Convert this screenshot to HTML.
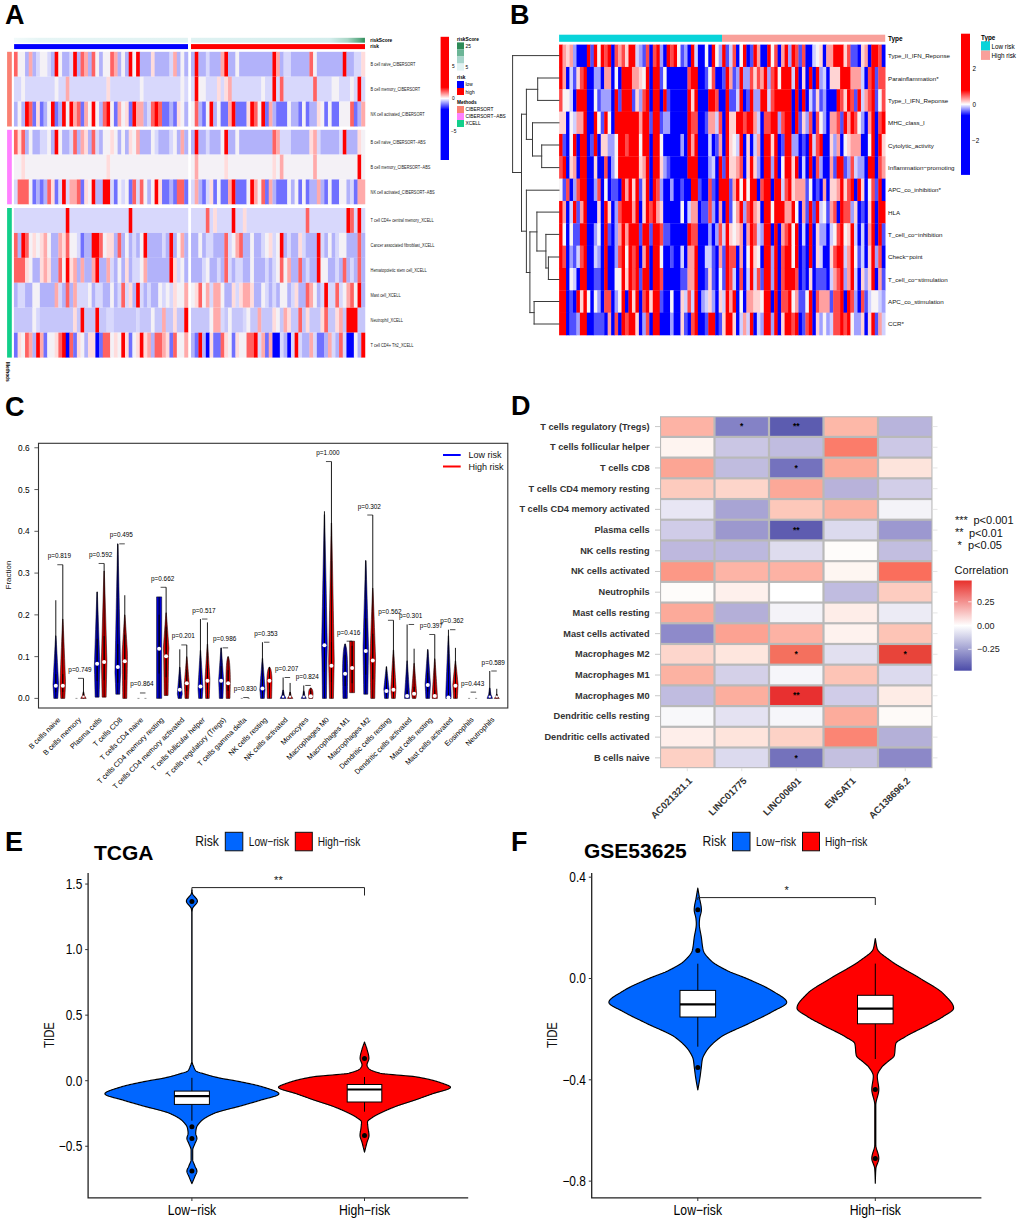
<!DOCTYPE html>
<html><head><meta charset="utf-8"><style>
html,body{margin:0;padding:0;background:#fff;width:1020px;height:1222px;overflow:hidden}
svg{display:block}
text{font-family:"Liberation Sans", sans-serif}
</style></head><body>
<svg width="1020" height="1222" viewBox="0 0 1020 1222">
<rect width="1020" height="1222" fill="#fff"/>
<text x="5" y="24" font-size="27" font-weight="bold" fill="#000">A</text>
<text x="510" y="24" font-size="27" font-weight="bold" fill="#000">B</text>
<text x="5" y="416" font-size="27" font-weight="bold" fill="#000">C</text>
<text x="511" y="415" font-size="27" font-weight="bold" fill="#000">D</text>
<text x="5" y="851" font-size="27" font-weight="bold" fill="#000">E</text>
<text x="511" y="851" font-size="27" font-weight="bold" fill="#000">F</text>
<rect x="13.94" y="51.8" width="4" height="24.9" fill="#FF6262"/>
<rect x="17.64" y="51.8" width="7.7" height="24.9" fill="#F4F1F6"/>
<rect x="25.05" y="51.8" width="4" height="24.9" fill="#B2B2FA"/>
<rect x="28.75" y="51.8" width="4" height="24.9" fill="#FFAAAA"/>
<rect x="32.45" y="51.8" width="4" height="24.9" fill="#B2B2FA"/>
<rect x="36.15" y="51.8" width="4" height="24.9" fill="#D8D8FC"/>
<rect x="39.85" y="51.8" width="7.7" height="24.9" fill="#F4F1F6"/>
<rect x="47.26" y="51.8" width="4" height="24.9" fill="#D8D8FC"/>
<rect x="50.96" y="51.8" width="4" height="24.9" fill="#B2B2FA"/>
<rect x="54.66" y="51.8" width="4" height="24.9" fill="#FF0000"/>
<rect x="58.37" y="51.8" width="4" height="24.9" fill="#F4F1F6"/>
<rect x="62.07" y="51.8" width="7.7" height="24.9" fill="#B2B2FA"/>
<rect x="69.47" y="51.8" width="4" height="24.9" fill="#D8D8FC"/>
<rect x="73.17" y="51.8" width="4" height="24.9" fill="#FF0000"/>
<rect x="76.88" y="51.8" width="4" height="24.9" fill="#B2B2FA"/>
<rect x="80.58" y="51.8" width="4" height="24.9" fill="#FF6262"/>
<rect x="84.28" y="51.8" width="4" height="24.9" fill="#FFAAAA"/>
<rect x="87.98" y="51.8" width="4" height="24.9" fill="#B2B2FA"/>
<rect x="91.68" y="51.8" width="4" height="24.9" fill="#FF6262"/>
<rect x="95.39" y="51.8" width="4" height="24.9" fill="#F4F1F6"/>
<rect x="99.09" y="51.8" width="4" height="24.9" fill="#B2B2FA"/>
<rect x="102.79" y="51.8" width="7.7" height="24.9" fill="#F4F1F6"/>
<rect x="110.2" y="51.8" width="4" height="24.9" fill="#FF6262"/>
<rect x="113.9" y="51.8" width="4" height="24.9" fill="#FFAAAA"/>
<rect x="117.6" y="51.8" width="4" height="24.9" fill="#B2B2FA"/>
<rect x="121.3" y="51.8" width="4" height="24.9" fill="#F4F1F6"/>
<rect x="125" y="51.8" width="4" height="24.9" fill="#B2B2FA"/>
<rect x="128.71" y="51.8" width="4" height="24.9" fill="#FF0000"/>
<rect x="132.41" y="51.8" width="4" height="24.9" fill="#F4F1F6"/>
<rect x="136.11" y="51.8" width="4" height="24.9" fill="#FF0000"/>
<rect x="139.81" y="51.8" width="11.41" height="24.9" fill="#B2B2FA"/>
<rect x="150.92" y="51.8" width="4" height="24.9" fill="#FFDCDC"/>
<rect x="154.62" y="51.8" width="15.11" height="24.9" fill="#B2B2FA"/>
<rect x="169.43" y="51.8" width="4" height="24.9" fill="#D8D8FC"/>
<rect x="173.13" y="51.8" width="4" height="24.9" fill="#FFAAAA"/>
<rect x="176.83" y="51.8" width="4" height="24.9" fill="#B2B2FA"/>
<rect x="180.54" y="51.8" width="4" height="24.9" fill="#F4F1F6"/>
<rect x="184.24" y="51.8" width="4" height="24.9" fill="#B2B2FA"/>
<rect x="13.94" y="76.7" width="7.7" height="24.9" fill="#D8D8FC"/>
<rect x="21.34" y="76.7" width="4" height="24.9" fill="#F4F1F6"/>
<rect x="25.05" y="76.7" width="29.92" height="24.9" fill="#D8D8FC"/>
<rect x="54.66" y="76.7" width="4" height="24.9" fill="#F4F1F6"/>
<rect x="58.37" y="76.7" width="7.7" height="24.9" fill="#D8D8FC"/>
<rect x="65.77" y="76.7" width="4" height="24.9" fill="#FFAAAA"/>
<rect x="69.47" y="76.7" width="37.32" height="24.9" fill="#D8D8FC"/>
<rect x="106.49" y="76.7" width="4" height="24.9" fill="#FFDCDC"/>
<rect x="110.2" y="76.7" width="29.92" height="24.9" fill="#D8D8FC"/>
<rect x="139.81" y="76.7" width="4" height="24.9" fill="#F4F1F6"/>
<rect x="143.51" y="76.7" width="37.32" height="24.9" fill="#D8D8FC"/>
<rect x="180.54" y="76.7" width="4" height="24.9" fill="#F4F1F6"/>
<rect x="184.24" y="76.7" width="4" height="24.9" fill="#D8D8FC"/>
<rect x="13.94" y="101.6" width="4" height="24.9" fill="#B2B2FA"/>
<rect x="17.64" y="101.6" width="4" height="24.9" fill="#F4F1F6"/>
<rect x="21.34" y="101.6" width="4" height="24.9" fill="#B2B2FA"/>
<rect x="25.05" y="101.6" width="4" height="24.9" fill="#FF0000"/>
<rect x="28.75" y="101.6" width="4" height="24.9" fill="#FF6262"/>
<rect x="32.45" y="101.6" width="4" height="24.9" fill="#7070FF"/>
<rect x="36.15" y="101.6" width="4" height="24.9" fill="#FFDCDC"/>
<rect x="39.85" y="101.6" width="4" height="24.9" fill="#7070FF"/>
<rect x="43.56" y="101.6" width="4" height="24.9" fill="#B2B2FA"/>
<rect x="47.26" y="101.6" width="4" height="24.9" fill="#F4F1F6"/>
<rect x="50.96" y="101.6" width="4" height="24.9" fill="#FF0000"/>
<rect x="54.66" y="101.6" width="4" height="24.9" fill="#7070FF"/>
<rect x="58.37" y="101.6" width="4" height="24.9" fill="#B2B2FA"/>
<rect x="62.07" y="101.6" width="4" height="24.9" fill="#FF0000"/>
<rect x="65.77" y="101.6" width="4" height="24.9" fill="#F4F1F6"/>
<rect x="69.47" y="101.6" width="4" height="24.9" fill="#FF0000"/>
<rect x="73.17" y="101.6" width="4" height="24.9" fill="#FFAAAA"/>
<rect x="76.88" y="101.6" width="4" height="24.9" fill="#FF6262"/>
<rect x="80.58" y="101.6" width="4" height="24.9" fill="#7070FF"/>
<rect x="84.28" y="101.6" width="4" height="24.9" fill="#FFAAAA"/>
<rect x="87.98" y="101.6" width="4" height="24.9" fill="#F4F1F6"/>
<rect x="91.68" y="101.6" width="4" height="24.9" fill="#FF0000"/>
<rect x="95.39" y="101.6" width="4" height="24.9" fill="#F4F1F6"/>
<rect x="99.09" y="101.6" width="4" height="24.9" fill="#B2B2FA"/>
<rect x="102.79" y="101.6" width="4" height="24.9" fill="#FF6262"/>
<rect x="106.49" y="101.6" width="4" height="24.9" fill="#FF0000"/>
<rect x="110.2" y="101.6" width="4" height="24.9" fill="#F4F1F6"/>
<rect x="113.9" y="101.6" width="4" height="24.9" fill="#7070FF"/>
<rect x="117.6" y="101.6" width="4" height="24.9" fill="#FFAAAA"/>
<rect x="121.3" y="101.6" width="4" height="24.9" fill="#F4F1F6"/>
<rect x="125" y="101.6" width="4" height="24.9" fill="#FFDCDC"/>
<rect x="128.71" y="101.6" width="4" height="24.9" fill="#7070FF"/>
<rect x="132.41" y="101.6" width="4" height="24.9" fill="#FF0000"/>
<rect x="136.11" y="101.6" width="7.7" height="24.9" fill="#FFAAAA"/>
<rect x="143.51" y="101.6" width="4" height="24.9" fill="#B2B2FA"/>
<rect x="147.22" y="101.6" width="4" height="24.9" fill="#D8D8FC"/>
<rect x="150.92" y="101.6" width="4" height="24.9" fill="#FF6262"/>
<rect x="154.62" y="101.6" width="4" height="24.9" fill="#FF0000"/>
<rect x="158.32" y="101.6" width="4" height="24.9" fill="#FF6262"/>
<rect x="162.03" y="101.6" width="7.7" height="24.9" fill="#7070FF"/>
<rect x="169.43" y="101.6" width="4" height="24.9" fill="#B2B2FA"/>
<rect x="173.13" y="101.6" width="4" height="24.9" fill="#7070FF"/>
<rect x="176.83" y="101.6" width="4" height="24.9" fill="#FFDCDC"/>
<rect x="180.54" y="101.6" width="4" height="24.9" fill="#F4F1F6"/>
<rect x="184.24" y="101.6" width="4" height="24.9" fill="#B2B2FA"/>
<rect x="13.94" y="129.8" width="4" height="24.83" fill="#FF6262"/>
<rect x="17.64" y="129.8" width="4" height="24.83" fill="#FFDCDC"/>
<rect x="21.34" y="129.8" width="4" height="24.83" fill="#FF6262"/>
<rect x="25.05" y="129.8" width="4" height="24.83" fill="#B2B2FA"/>
<rect x="28.75" y="129.8" width="4" height="24.83" fill="#F4F1F6"/>
<rect x="32.45" y="129.8" width="7.7" height="24.83" fill="#B2B2FA"/>
<rect x="39.85" y="129.8" width="7.7" height="24.83" fill="#D8D8FC"/>
<rect x="47.26" y="129.8" width="4" height="24.83" fill="#F4F1F6"/>
<rect x="50.96" y="129.8" width="4" height="24.83" fill="#B2B2FA"/>
<rect x="54.66" y="129.8" width="4" height="24.83" fill="#FF0000"/>
<rect x="58.37" y="129.8" width="4" height="24.83" fill="#F4F1F6"/>
<rect x="62.07" y="129.8" width="7.7" height="24.83" fill="#B2B2FA"/>
<rect x="69.47" y="129.8" width="4" height="24.83" fill="#D8D8FC"/>
<rect x="73.17" y="129.8" width="4" height="24.83" fill="#FF6262"/>
<rect x="76.88" y="129.8" width="4" height="24.83" fill="#B2B2FA"/>
<rect x="80.58" y="129.8" width="4" height="24.83" fill="#FFAAAA"/>
<rect x="84.28" y="129.8" width="4" height="24.83" fill="#FFDCDC"/>
<rect x="87.98" y="129.8" width="4" height="24.83" fill="#B2B2FA"/>
<rect x="91.68" y="129.8" width="4" height="24.83" fill="#FF6262"/>
<rect x="95.39" y="129.8" width="4" height="24.83" fill="#D8D8FC"/>
<rect x="99.09" y="129.8" width="4" height="24.83" fill="#B2B2FA"/>
<rect x="102.79" y="129.8" width="7.7" height="24.83" fill="#F4F1F6"/>
<rect x="110.2" y="129.8" width="4" height="24.83" fill="#FFDCDC"/>
<rect x="113.9" y="129.8" width="4" height="24.83" fill="#F4F1F6"/>
<rect x="117.6" y="129.8" width="4" height="24.83" fill="#B2B2FA"/>
<rect x="121.3" y="129.8" width="4" height="24.83" fill="#F4F1F6"/>
<rect x="125" y="129.8" width="4" height="24.83" fill="#B2B2FA"/>
<rect x="128.71" y="129.8" width="4" height="24.83" fill="#FFDCDC"/>
<rect x="132.41" y="129.8" width="4" height="24.83" fill="#F4F1F6"/>
<rect x="136.11" y="129.8" width="4" height="24.83" fill="#FFAAAA"/>
<rect x="139.81" y="129.8" width="11.41" height="24.83" fill="#B2B2FA"/>
<rect x="150.92" y="129.8" width="4" height="24.83" fill="#F4F1F6"/>
<rect x="154.62" y="129.8" width="4" height="24.83" fill="#D8D8FC"/>
<rect x="158.32" y="129.8" width="11.41" height="24.83" fill="#B2B2FA"/>
<rect x="169.43" y="129.8" width="4" height="24.83" fill="#D8D8FC"/>
<rect x="173.13" y="129.8" width="4" height="24.83" fill="#F4F1F6"/>
<rect x="176.83" y="129.8" width="4" height="24.83" fill="#B2B2FA"/>
<rect x="180.54" y="129.8" width="4" height="24.83" fill="#FFAAAA"/>
<rect x="184.24" y="129.8" width="4" height="24.83" fill="#B2B2FA"/>
<rect x="13.94" y="154.63" width="7.7" height="24.83" fill="#F4F1F6"/>
<rect x="21.34" y="154.63" width="4" height="24.83" fill="#FFDCDC"/>
<rect x="25.05" y="154.63" width="81.75" height="24.83" fill="#F4F1F6"/>
<rect x="106.49" y="154.63" width="4" height="24.83" fill="#FFDCDC"/>
<rect x="110.2" y="154.63" width="78.04" height="24.83" fill="#F4F1F6"/>
<rect x="13.94" y="179.46" width="4" height="24.83" fill="#D8D8FC"/>
<rect x="17.64" y="179.46" width="11.41" height="24.83" fill="#FF6262"/>
<rect x="28.75" y="179.46" width="4" height="24.83" fill="#F4F1F6"/>
<rect x="32.45" y="179.46" width="4" height="24.83" fill="#7070FF"/>
<rect x="36.15" y="179.46" width="4" height="24.83" fill="#B2B2FA"/>
<rect x="39.85" y="179.46" width="4" height="24.83" fill="#7070FF"/>
<rect x="43.56" y="179.46" width="4" height="24.83" fill="#B2B2FA"/>
<rect x="47.26" y="179.46" width="4" height="24.83" fill="#FF6262"/>
<rect x="50.96" y="179.46" width="4" height="24.83" fill="#FFDCDC"/>
<rect x="54.66" y="179.46" width="4" height="24.83" fill="#7070FF"/>
<rect x="58.37" y="179.46" width="4" height="24.83" fill="#D8D8FC"/>
<rect x="62.07" y="179.46" width="4" height="24.83" fill="#FF0000"/>
<rect x="65.77" y="179.46" width="4" height="24.83" fill="#D8D8FC"/>
<rect x="69.47" y="179.46" width="7.7" height="24.83" fill="#FFAAAA"/>
<rect x="76.88" y="179.46" width="4" height="24.83" fill="#FF6262"/>
<rect x="80.58" y="179.46" width="4" height="24.83" fill="#7070FF"/>
<rect x="84.28" y="179.46" width="4" height="24.83" fill="#FFDCDC"/>
<rect x="87.98" y="179.46" width="4" height="24.83" fill="#F4F1F6"/>
<rect x="91.68" y="179.46" width="4" height="24.83" fill="#FF0000"/>
<rect x="95.39" y="179.46" width="7.7" height="24.83" fill="#B2B2FA"/>
<rect x="102.79" y="179.46" width="7.7" height="24.83" fill="#FF0000"/>
<rect x="110.2" y="179.46" width="4" height="24.83" fill="#D8D8FC"/>
<rect x="113.9" y="179.46" width="4" height="24.83" fill="#7070FF"/>
<rect x="117.6" y="179.46" width="4" height="24.83" fill="#F4F1F6"/>
<rect x="121.3" y="179.46" width="4" height="24.83" fill="#D8D8FC"/>
<rect x="125" y="179.46" width="4" height="24.83" fill="#F4F1F6"/>
<rect x="128.71" y="179.46" width="4" height="24.83" fill="#7070FF"/>
<rect x="132.41" y="179.46" width="4" height="24.83" fill="#FF6262"/>
<rect x="136.11" y="179.46" width="4" height="24.83" fill="#D8D8FC"/>
<rect x="139.81" y="179.46" width="4" height="24.83" fill="#FF6262"/>
<rect x="143.51" y="179.46" width="4" height="24.83" fill="#F4F1F6"/>
<rect x="147.22" y="179.46" width="4" height="24.83" fill="#B2B2FA"/>
<rect x="150.92" y="179.46" width="4" height="24.83" fill="#F4F1F6"/>
<rect x="154.62" y="179.46" width="4" height="24.83" fill="#FF0000"/>
<rect x="158.32" y="179.46" width="4" height="24.83" fill="#FFDCDC"/>
<rect x="162.03" y="179.46" width="7.7" height="24.83" fill="#7070FF"/>
<rect x="169.43" y="179.46" width="4" height="24.83" fill="#B2B2FA"/>
<rect x="173.13" y="179.46" width="4" height="24.83" fill="#7070FF"/>
<rect x="176.83" y="179.46" width="7.7" height="24.83" fill="#FF6262"/>
<rect x="184.24" y="179.46" width="4" height="24.83" fill="#7070FF"/>
<rect x="13.94" y="208" width="52.13" height="24.93" fill="#D8D8FC"/>
<rect x="65.77" y="208" width="4" height="24.93" fill="#FF0000"/>
<rect x="69.47" y="208" width="59.53" height="24.93" fill="#D8D8FC"/>
<rect x="128.71" y="208" width="4" height="24.93" fill="#FF0000"/>
<rect x="132.41" y="208" width="55.83" height="24.93" fill="#D8D8FC"/>
<rect x="13.94" y="232.93" width="4" height="24.93" fill="#FF6262"/>
<rect x="17.64" y="232.93" width="4" height="24.93" fill="#B2B2FA"/>
<rect x="21.34" y="232.93" width="4" height="24.93" fill="#FF0000"/>
<rect x="25.05" y="232.93" width="4" height="24.93" fill="#FF6262"/>
<rect x="28.75" y="232.93" width="4" height="24.93" fill="#F4F1F6"/>
<rect x="32.45" y="232.93" width="4" height="24.93" fill="#FFDCDC"/>
<rect x="36.15" y="232.93" width="4" height="24.93" fill="#F4F1F6"/>
<rect x="39.85" y="232.93" width="4" height="24.93" fill="#FFDCDC"/>
<rect x="43.56" y="232.93" width="4" height="24.93" fill="#FFAAAA"/>
<rect x="47.26" y="232.93" width="4" height="24.93" fill="#F4F1F6"/>
<rect x="50.96" y="232.93" width="7.7" height="24.93" fill="#B2B2FA"/>
<rect x="58.37" y="232.93" width="4" height="24.93" fill="#FFAAAA"/>
<rect x="62.07" y="232.93" width="4" height="24.93" fill="#FFDCDC"/>
<rect x="65.77" y="232.93" width="4" height="24.93" fill="#FF6262"/>
<rect x="69.47" y="232.93" width="7.7" height="24.93" fill="#F4F1F6"/>
<rect x="76.88" y="232.93" width="4" height="24.93" fill="#D8D8FC"/>
<rect x="80.58" y="232.93" width="4" height="24.93" fill="#7070FF"/>
<rect x="84.28" y="232.93" width="7.7" height="24.93" fill="#B2B2FA"/>
<rect x="91.68" y="232.93" width="7.7" height="24.93" fill="#FF0000"/>
<rect x="99.09" y="232.93" width="4" height="24.93" fill="#FF6262"/>
<rect x="102.79" y="232.93" width="4" height="24.93" fill="#F4F1F6"/>
<rect x="106.49" y="232.93" width="7.7" height="24.93" fill="#FFDCDC"/>
<rect x="113.9" y="232.93" width="4" height="24.93" fill="#B2B2FA"/>
<rect x="117.6" y="232.93" width="4" height="24.93" fill="#FF6262"/>
<rect x="121.3" y="232.93" width="4" height="24.93" fill="#B2B2FA"/>
<rect x="125" y="232.93" width="4" height="24.93" fill="#F4F1F6"/>
<rect x="128.71" y="232.93" width="4" height="24.93" fill="#B2B2FA"/>
<rect x="132.41" y="232.93" width="4" height="24.93" fill="#D8D8FC"/>
<rect x="136.11" y="232.93" width="4" height="24.93" fill="#B2B2FA"/>
<rect x="139.81" y="232.93" width="4" height="24.93" fill="#F4F1F6"/>
<rect x="143.51" y="232.93" width="4" height="24.93" fill="#FF0000"/>
<rect x="147.22" y="232.93" width="15.11" height="24.93" fill="#B2B2FA"/>
<rect x="162.03" y="232.93" width="4" height="24.93" fill="#D8D8FC"/>
<rect x="165.73" y="232.93" width="4" height="24.93" fill="#B2B2FA"/>
<rect x="169.43" y="232.93" width="4" height="24.93" fill="#FF0000"/>
<rect x="173.13" y="232.93" width="4" height="24.93" fill="#B2B2FA"/>
<rect x="176.83" y="232.93" width="4" height="24.93" fill="#F4F1F6"/>
<rect x="180.54" y="232.93" width="4" height="24.93" fill="#FFAAAA"/>
<rect x="184.24" y="232.93" width="4" height="24.93" fill="#B2B2FA"/>
<rect x="13.94" y="257.86" width="11.41" height="24.93" fill="#FF6262"/>
<rect x="25.05" y="257.86" width="4" height="24.93" fill="#FFDCDC"/>
<rect x="28.75" y="257.86" width="4" height="24.93" fill="#F4F1F6"/>
<rect x="32.45" y="257.86" width="7.7" height="24.93" fill="#B2B2FA"/>
<rect x="39.85" y="257.86" width="4" height="24.93" fill="#FFDCDC"/>
<rect x="43.56" y="257.86" width="4" height="24.93" fill="#FFAAAA"/>
<rect x="47.26" y="257.86" width="4" height="24.93" fill="#FFDCDC"/>
<rect x="50.96" y="257.86" width="7.7" height="24.93" fill="#B2B2FA"/>
<rect x="58.37" y="257.86" width="4" height="24.93" fill="#FF6262"/>
<rect x="62.07" y="257.86" width="4" height="24.93" fill="#F4F1F6"/>
<rect x="65.77" y="257.86" width="4" height="24.93" fill="#FF0000"/>
<rect x="69.47" y="257.86" width="4" height="24.93" fill="#FFDCDC"/>
<rect x="73.17" y="257.86" width="4" height="24.93" fill="#FFAAAA"/>
<rect x="76.88" y="257.86" width="4" height="24.93" fill="#B2B2FA"/>
<rect x="80.58" y="257.86" width="4" height="24.93" fill="#FFAAAA"/>
<rect x="84.28" y="257.86" width="7.7" height="24.93" fill="#B2B2FA"/>
<rect x="91.68" y="257.86" width="4" height="24.93" fill="#FFAAAA"/>
<rect x="95.39" y="257.86" width="4" height="24.93" fill="#FF0000"/>
<rect x="99.09" y="257.86" width="7.7" height="24.93" fill="#B2B2FA"/>
<rect x="106.49" y="257.86" width="4" height="24.93" fill="#FFAAAA"/>
<rect x="110.2" y="257.86" width="4" height="24.93" fill="#D8D8FC"/>
<rect x="113.9" y="257.86" width="4" height="24.93" fill="#B2B2FA"/>
<rect x="117.6" y="257.86" width="4" height="24.93" fill="#F4F1F6"/>
<rect x="121.3" y="257.86" width="4" height="24.93" fill="#B2B2FA"/>
<rect x="125" y="257.86" width="4" height="24.93" fill="#FFDCDC"/>
<rect x="128.71" y="257.86" width="4" height="24.93" fill="#B2B2FA"/>
<rect x="132.41" y="257.86" width="7.7" height="24.93" fill="#D8D8FC"/>
<rect x="139.81" y="257.86" width="4" height="24.93" fill="#F4F1F6"/>
<rect x="143.51" y="257.86" width="4" height="24.93" fill="#FFAAAA"/>
<rect x="147.22" y="257.86" width="22.51" height="24.93" fill="#B2B2FA"/>
<rect x="169.43" y="257.86" width="4" height="24.93" fill="#FF0000"/>
<rect x="173.13" y="257.86" width="4" height="24.93" fill="#FFDCDC"/>
<rect x="176.83" y="257.86" width="4" height="24.93" fill="#D8D8FC"/>
<rect x="180.54" y="257.86" width="4" height="24.93" fill="#F4F1F6"/>
<rect x="184.24" y="257.86" width="4" height="24.93" fill="#B2B2FA"/>
<rect x="13.94" y="282.79" width="4" height="24.93" fill="#B2B2FA"/>
<rect x="17.64" y="282.79" width="7.7" height="24.93" fill="#D8D8FC"/>
<rect x="25.05" y="282.79" width="7.7" height="24.93" fill="#B2B2FA"/>
<rect x="32.45" y="282.79" width="7.7" height="24.93" fill="#F4F1F6"/>
<rect x="39.85" y="282.79" width="15.11" height="24.93" fill="#B2B2FA"/>
<rect x="54.66" y="282.79" width="4" height="24.93" fill="#FFAAAA"/>
<rect x="58.37" y="282.79" width="4" height="24.93" fill="#D8D8FC"/>
<rect x="62.07" y="282.79" width="4" height="24.93" fill="#B2B2FA"/>
<rect x="65.77" y="282.79" width="4" height="24.93" fill="#FF6262"/>
<rect x="69.47" y="282.79" width="4" height="24.93" fill="#B2B2FA"/>
<rect x="73.17" y="282.79" width="4" height="24.93" fill="#FFAAAA"/>
<rect x="76.88" y="282.79" width="11.41" height="24.93" fill="#D8D8FC"/>
<rect x="87.98" y="282.79" width="4" height="24.93" fill="#F4F1F6"/>
<rect x="91.68" y="282.79" width="4" height="24.93" fill="#B2B2FA"/>
<rect x="95.39" y="282.79" width="7.7" height="24.93" fill="#D8D8FC"/>
<rect x="102.79" y="282.79" width="7.7" height="24.93" fill="#B2B2FA"/>
<rect x="110.2" y="282.79" width="4" height="24.93" fill="#F4F1F6"/>
<rect x="113.9" y="282.79" width="4" height="24.93" fill="#B2B2FA"/>
<rect x="117.6" y="282.79" width="4" height="24.93" fill="#D8D8FC"/>
<rect x="121.3" y="282.79" width="4" height="24.93" fill="#FF6262"/>
<rect x="125" y="282.79" width="4" height="24.93" fill="#D8D8FC"/>
<rect x="128.71" y="282.79" width="4" height="24.93" fill="#FFDCDC"/>
<rect x="132.41" y="282.79" width="4" height="24.93" fill="#B2B2FA"/>
<rect x="136.11" y="282.79" width="4" height="24.93" fill="#FF0000"/>
<rect x="139.81" y="282.79" width="4" height="24.93" fill="#D8D8FC"/>
<rect x="143.51" y="282.79" width="4" height="24.93" fill="#B2B2FA"/>
<rect x="147.22" y="282.79" width="4" height="24.93" fill="#D8D8FC"/>
<rect x="150.92" y="282.79" width="7.7" height="24.93" fill="#B2B2FA"/>
<rect x="158.32" y="282.79" width="4" height="24.93" fill="#F4F1F6"/>
<rect x="162.03" y="282.79" width="4" height="24.93" fill="#D8D8FC"/>
<rect x="165.73" y="282.79" width="4" height="24.93" fill="#F4F1F6"/>
<rect x="169.43" y="282.79" width="4" height="24.93" fill="#D8D8FC"/>
<rect x="173.13" y="282.79" width="4" height="24.93" fill="#FFDCDC"/>
<rect x="176.83" y="282.79" width="7.7" height="24.93" fill="#F4F1F6"/>
<rect x="184.24" y="282.79" width="4" height="24.93" fill="#FFAAAA"/>
<rect x="13.94" y="307.72" width="18.81" height="24.93" fill="#C6C6FA"/>
<rect x="32.45" y="307.72" width="4" height="24.93" fill="#F4F1F6"/>
<rect x="36.15" y="307.72" width="4" height="24.93" fill="#D8D8FC"/>
<rect x="39.85" y="307.72" width="33.62" height="24.93" fill="#C6C6FA"/>
<rect x="73.17" y="307.72" width="4" height="24.93" fill="#FFDCDC"/>
<rect x="76.88" y="307.72" width="4" height="24.93" fill="#C6C6FA"/>
<rect x="80.58" y="307.72" width="4" height="24.93" fill="#FF0000"/>
<rect x="84.28" y="307.72" width="11.41" height="24.93" fill="#C6C6FA"/>
<rect x="95.39" y="307.72" width="4" height="24.93" fill="#FF0000"/>
<rect x="99.09" y="307.72" width="7.7" height="24.93" fill="#C6C6FA"/>
<rect x="106.49" y="307.72" width="7.7" height="24.93" fill="#D8D8FC"/>
<rect x="113.9" y="307.72" width="22.51" height="24.93" fill="#C6C6FA"/>
<rect x="136.11" y="307.72" width="4" height="24.93" fill="#D8D8FC"/>
<rect x="139.81" y="307.72" width="11.41" height="24.93" fill="#C6C6FA"/>
<rect x="150.92" y="307.72" width="4" height="24.93" fill="#F4F1F6"/>
<rect x="154.62" y="307.72" width="7.7" height="24.93" fill="#C6C6FA"/>
<rect x="162.03" y="307.72" width="4" height="24.93" fill="#FFAAAA"/>
<rect x="165.73" y="307.72" width="7.7" height="24.93" fill="#C6C6FA"/>
<rect x="173.13" y="307.72" width="4" height="24.93" fill="#FFDCDC"/>
<rect x="176.83" y="307.72" width="7.7" height="24.93" fill="#C6C6FA"/>
<rect x="184.24" y="307.72" width="4" height="24.93" fill="#FF0000"/>
<rect x="13.94" y="332.65" width="4" height="24.93" fill="#7070FF"/>
<rect x="17.64" y="332.65" width="4" height="24.93" fill="#FFDCDC"/>
<rect x="21.34" y="332.65" width="4" height="24.93" fill="#F4F1F6"/>
<rect x="25.05" y="332.65" width="4" height="24.93" fill="#FF6262"/>
<rect x="28.75" y="332.65" width="4" height="24.93" fill="#FFAAAA"/>
<rect x="32.45" y="332.65" width="4" height="24.93" fill="#B2B2FA"/>
<rect x="36.15" y="332.65" width="4" height="24.93" fill="#FF0000"/>
<rect x="39.85" y="332.65" width="4" height="24.93" fill="#FFAAAA"/>
<rect x="43.56" y="332.65" width="4" height="24.93" fill="#7070FF"/>
<rect x="47.26" y="332.65" width="7.7" height="24.93" fill="#F4F1F6"/>
<rect x="54.66" y="332.65" width="4" height="24.93" fill="#FFDCDC"/>
<rect x="58.37" y="332.65" width="4" height="24.93" fill="#FF6262"/>
<rect x="62.07" y="332.65" width="4" height="24.93" fill="#FF0000"/>
<rect x="65.77" y="332.65" width="4" height="24.93" fill="#0000FF"/>
<rect x="69.47" y="332.65" width="4" height="24.93" fill="#FF6262"/>
<rect x="73.17" y="332.65" width="4" height="24.93" fill="#7070FF"/>
<rect x="76.88" y="332.65" width="4" height="24.93" fill="#FFDCDC"/>
<rect x="80.58" y="332.65" width="4" height="24.93" fill="#F4F1F6"/>
<rect x="84.28" y="332.65" width="4" height="24.93" fill="#B2B2FA"/>
<rect x="87.98" y="332.65" width="7.7" height="24.93" fill="#FFDCDC"/>
<rect x="95.39" y="332.65" width="4" height="24.93" fill="#0000FF"/>
<rect x="99.09" y="332.65" width="4" height="24.93" fill="#7070FF"/>
<rect x="102.79" y="332.65" width="7.7" height="24.93" fill="#FF6262"/>
<rect x="110.2" y="332.65" width="4" height="24.93" fill="#F4F1F6"/>
<rect x="113.9" y="332.65" width="4" height="24.93" fill="#FFDCDC"/>
<rect x="117.6" y="332.65" width="4" height="24.93" fill="#F4F1F6"/>
<rect x="121.3" y="332.65" width="4" height="24.93" fill="#FF0000"/>
<rect x="125" y="332.65" width="4" height="24.93" fill="#FFDCDC"/>
<rect x="128.71" y="332.65" width="4" height="24.93" fill="#7070FF"/>
<rect x="132.41" y="332.65" width="4" height="24.93" fill="#F4F1F6"/>
<rect x="136.11" y="332.65" width="4" height="24.93" fill="#FFDCDC"/>
<rect x="139.81" y="332.65" width="4" height="24.93" fill="#FF0000"/>
<rect x="143.51" y="332.65" width="4" height="24.93" fill="#FFDCDC"/>
<rect x="147.22" y="332.65" width="4" height="24.93" fill="#FFAAAA"/>
<rect x="150.92" y="332.65" width="4" height="24.93" fill="#B2B2FA"/>
<rect x="154.62" y="332.65" width="7.7" height="24.93" fill="#FF6262"/>
<rect x="162.03" y="332.65" width="4" height="24.93" fill="#FFAAAA"/>
<rect x="165.73" y="332.65" width="4" height="24.93" fill="#FFDCDC"/>
<rect x="169.43" y="332.65" width="4" height="24.93" fill="#7070FF"/>
<rect x="173.13" y="332.65" width="4" height="24.93" fill="#FF6262"/>
<rect x="176.83" y="332.65" width="7.7" height="24.93" fill="#F4F1F6"/>
<rect x="184.24" y="332.65" width="4" height="24.93" fill="#FFAAAA"/>
<rect x="191.03" y="51.8" width="4" height="24.9" fill="#B2B2FA"/>
<rect x="194.73" y="51.8" width="4" height="24.9" fill="#FF0000"/>
<rect x="198.43" y="51.8" width="7.7" height="24.9" fill="#B2B2FA"/>
<rect x="205.83" y="51.8" width="4" height="24.9" fill="#D8D8FC"/>
<rect x="209.53" y="51.8" width="11.4" height="24.9" fill="#B2B2FA"/>
<rect x="220.63" y="51.8" width="4" height="24.9" fill="#FFAAAA"/>
<rect x="224.33" y="51.8" width="4" height="24.9" fill="#FF0000"/>
<rect x="228.03" y="51.8" width="7.7" height="24.9" fill="#B2B2FA"/>
<rect x="235.44" y="51.8" width="4" height="24.9" fill="#F4F1F6"/>
<rect x="239.14" y="51.8" width="33.6" height="24.9" fill="#B2B2FA"/>
<rect x="272.44" y="51.8" width="4" height="24.9" fill="#FF0000"/>
<rect x="276.14" y="51.8" width="4" height="24.9" fill="#FFAAAA"/>
<rect x="279.84" y="51.8" width="4" height="24.9" fill="#B2B2FA"/>
<rect x="283.54" y="51.8" width="7.7" height="24.9" fill="#D8D8FC"/>
<rect x="290.94" y="51.8" width="18.8" height="24.9" fill="#B2B2FA"/>
<rect x="309.44" y="51.8" width="4" height="24.9" fill="#FF6262"/>
<rect x="313.14" y="51.8" width="4" height="24.9" fill="#F4F1F6"/>
<rect x="316.84" y="51.8" width="26.2" height="24.9" fill="#B2B2FA"/>
<rect x="342.75" y="51.8" width="4" height="24.9" fill="#FF0000"/>
<rect x="346.45" y="51.8" width="7.7" height="24.9" fill="#B2B2FA"/>
<rect x="353.85" y="51.8" width="7.7" height="24.9" fill="#D8D8FC"/>
<rect x="361.25" y="51.8" width="4" height="24.9" fill="#FFDCDC"/>
<rect x="191.03" y="76.7" width="4" height="24.9" fill="#D8D8FC"/>
<rect x="194.73" y="76.7" width="4" height="24.9" fill="#FF0000"/>
<rect x="198.43" y="76.7" width="7.7" height="24.9" fill="#F4F1F6"/>
<rect x="205.83" y="76.7" width="11.4" height="24.9" fill="#D8D8FC"/>
<rect x="216.93" y="76.7" width="4" height="24.9" fill="#FFDCDC"/>
<rect x="220.63" y="76.7" width="4" height="24.9" fill="#D8D8FC"/>
<rect x="224.33" y="76.7" width="4" height="24.9" fill="#FFDCDC"/>
<rect x="228.03" y="76.7" width="4" height="24.9" fill="#FFAAAA"/>
<rect x="231.73" y="76.7" width="29.9" height="24.9" fill="#D8D8FC"/>
<rect x="261.34" y="76.7" width="4" height="24.9" fill="#F4F1F6"/>
<rect x="265.04" y="76.7" width="7.7" height="24.9" fill="#D8D8FC"/>
<rect x="272.44" y="76.7" width="4" height="24.9" fill="#FF0000"/>
<rect x="276.14" y="76.7" width="4" height="24.9" fill="#D8D8FC"/>
<rect x="279.84" y="76.7" width="4" height="24.9" fill="#FF6262"/>
<rect x="283.54" y="76.7" width="29.9" height="24.9" fill="#D8D8FC"/>
<rect x="313.14" y="76.7" width="4" height="24.9" fill="#FF6262"/>
<rect x="316.84" y="76.7" width="15.1" height="24.9" fill="#D8D8FC"/>
<rect x="331.65" y="76.7" width="7.7" height="24.9" fill="#F4F1F6"/>
<rect x="339.05" y="76.7" width="11.4" height="24.9" fill="#D8D8FC"/>
<rect x="350.15" y="76.7" width="4" height="24.9" fill="#F4F1F6"/>
<rect x="353.85" y="76.7" width="4" height="24.9" fill="#D8D8FC"/>
<rect x="357.55" y="76.7" width="4" height="24.9" fill="#FF0000"/>
<rect x="361.25" y="76.7" width="4" height="24.9" fill="#D8D8FC"/>
<rect x="191.03" y="101.6" width="4" height="24.9" fill="#F4F1F6"/>
<rect x="194.73" y="101.6" width="4" height="24.9" fill="#FF6262"/>
<rect x="198.43" y="101.6" width="4" height="24.9" fill="#B2B2FA"/>
<rect x="202.13" y="101.6" width="4" height="24.9" fill="#7070FF"/>
<rect x="205.83" y="101.6" width="4" height="24.9" fill="#F4F1F6"/>
<rect x="209.53" y="101.6" width="4" height="24.9" fill="#FF0000"/>
<rect x="213.23" y="101.6" width="4" height="24.9" fill="#B2B2FA"/>
<rect x="216.93" y="101.6" width="4" height="24.9" fill="#F4F1F6"/>
<rect x="220.63" y="101.6" width="7.7" height="24.9" fill="#7070FF"/>
<rect x="228.03" y="101.6" width="4" height="24.9" fill="#FFAAAA"/>
<rect x="231.73" y="101.6" width="4" height="24.9" fill="#FF0000"/>
<rect x="235.44" y="101.6" width="11.4" height="24.9" fill="#7070FF"/>
<rect x="246.54" y="101.6" width="4" height="24.9" fill="#FFDCDC"/>
<rect x="250.24" y="101.6" width="4" height="24.9" fill="#FF0000"/>
<rect x="253.94" y="101.6" width="4" height="24.9" fill="#FF6262"/>
<rect x="257.64" y="101.6" width="4" height="24.9" fill="#F4F1F6"/>
<rect x="261.34" y="101.6" width="4" height="24.9" fill="#FF0000"/>
<rect x="265.04" y="101.6" width="4" height="24.9" fill="#7070FF"/>
<rect x="268.74" y="101.6" width="4" height="24.9" fill="#FFAAAA"/>
<rect x="272.44" y="101.6" width="4" height="24.9" fill="#B2B2FA"/>
<rect x="276.14" y="101.6" width="11.4" height="24.9" fill="#7070FF"/>
<rect x="287.24" y="101.6" width="4" height="24.9" fill="#F4F1F6"/>
<rect x="290.94" y="101.6" width="7.7" height="24.9" fill="#B2B2FA"/>
<rect x="298.34" y="101.6" width="4" height="24.9" fill="#7070FF"/>
<rect x="302.04" y="101.6" width="4" height="24.9" fill="#F4F1F6"/>
<rect x="305.74" y="101.6" width="4" height="24.9" fill="#7070FF"/>
<rect x="309.44" y="101.6" width="7.7" height="24.9" fill="#B2B2FA"/>
<rect x="316.84" y="101.6" width="4" height="24.9" fill="#FFDCDC"/>
<rect x="320.54" y="101.6" width="4" height="24.9" fill="#F4F1F6"/>
<rect x="324.25" y="101.6" width="4" height="24.9" fill="#7070FF"/>
<rect x="327.95" y="101.6" width="4" height="24.9" fill="#F4F1F6"/>
<rect x="331.65" y="101.6" width="7.7" height="24.9" fill="#7070FF"/>
<rect x="339.05" y="101.6" width="11.4" height="24.9" fill="#F4F1F6"/>
<rect x="350.15" y="101.6" width="4" height="24.9" fill="#FF6262"/>
<rect x="353.85" y="101.6" width="4" height="24.9" fill="#7070FF"/>
<rect x="357.55" y="101.6" width="4" height="24.9" fill="#B2B2FA"/>
<rect x="361.25" y="101.6" width="4" height="24.9" fill="#FFAAAA"/>
<rect x="191.03" y="129.8" width="4" height="24.83" fill="#B2B2FA"/>
<rect x="194.73" y="129.8" width="4" height="24.83" fill="#FF0000"/>
<rect x="198.43" y="129.8" width="7.7" height="24.83" fill="#B2B2FA"/>
<rect x="205.83" y="129.8" width="4" height="24.83" fill="#D8D8FC"/>
<rect x="209.53" y="129.8" width="11.4" height="24.83" fill="#B2B2FA"/>
<rect x="220.63" y="129.8" width="4" height="24.83" fill="#F4F1F6"/>
<rect x="224.33" y="129.8" width="4" height="24.83" fill="#FF0000"/>
<rect x="228.03" y="129.8" width="7.7" height="24.83" fill="#B2B2FA"/>
<rect x="235.44" y="129.8" width="4" height="24.83" fill="#F4F1F6"/>
<rect x="239.14" y="129.8" width="33.6" height="24.83" fill="#B2B2FA"/>
<rect x="272.44" y="129.8" width="4" height="24.83" fill="#FF6262"/>
<rect x="276.14" y="129.8" width="4" height="24.83" fill="#FFAAAA"/>
<rect x="279.84" y="129.8" width="11.4" height="24.83" fill="#D8D8FC"/>
<rect x="290.94" y="129.8" width="18.8" height="24.83" fill="#B2B2FA"/>
<rect x="309.44" y="129.8" width="4" height="24.83" fill="#FFDCDC"/>
<rect x="313.14" y="129.8" width="4" height="24.83" fill="#FFAAAA"/>
<rect x="316.84" y="129.8" width="4" height="24.83" fill="#D8D8FC"/>
<rect x="320.54" y="129.8" width="18.8" height="24.83" fill="#B2B2FA"/>
<rect x="339.05" y="129.8" width="4" height="24.83" fill="#D8D8FC"/>
<rect x="342.75" y="129.8" width="4" height="24.83" fill="#FF0000"/>
<rect x="346.45" y="129.8" width="11.4" height="24.83" fill="#B2B2FA"/>
<rect x="357.55" y="129.8" width="4" height="24.83" fill="#FFDCDC"/>
<rect x="361.25" y="129.8" width="4" height="24.83" fill="#F4F1F6"/>
<rect x="191.03" y="154.63" width="4" height="24.83" fill="#F4F1F6"/>
<rect x="194.73" y="154.63" width="4" height="24.83" fill="#FFAAAA"/>
<rect x="198.43" y="154.63" width="26.2" height="24.83" fill="#F4F1F6"/>
<rect x="224.33" y="154.63" width="4" height="24.83" fill="#FFDCDC"/>
<rect x="228.03" y="154.63" width="44.71" height="24.83" fill="#F4F1F6"/>
<rect x="272.44" y="154.63" width="4" height="24.83" fill="#FFDCDC"/>
<rect x="276.14" y="154.63" width="4" height="24.83" fill="#F4F1F6"/>
<rect x="279.84" y="154.63" width="4" height="24.83" fill="#FFAAAA"/>
<rect x="283.54" y="154.63" width="29.9" height="24.83" fill="#F4F1F6"/>
<rect x="313.14" y="154.63" width="4" height="24.83" fill="#FFAAAA"/>
<rect x="316.84" y="154.63" width="41" height="24.83" fill="#F4F1F6"/>
<rect x="357.55" y="154.63" width="4" height="24.83" fill="#FF0000"/>
<rect x="361.25" y="154.63" width="4" height="24.83" fill="#F4F1F6"/>
<rect x="191.03" y="179.46" width="4" height="24.83" fill="#D8D8FC"/>
<rect x="194.73" y="179.46" width="4" height="24.83" fill="#FFAAAA"/>
<rect x="198.43" y="179.46" width="4" height="24.83" fill="#B2B2FA"/>
<rect x="202.13" y="179.46" width="4" height="24.83" fill="#7070FF"/>
<rect x="205.83" y="179.46" width="4" height="24.83" fill="#D8D8FC"/>
<rect x="209.53" y="179.46" width="4" height="24.83" fill="#FFDCDC"/>
<rect x="213.23" y="179.46" width="4" height="24.83" fill="#7070FF"/>
<rect x="216.93" y="179.46" width="4" height="24.83" fill="#F4F1F6"/>
<rect x="220.63" y="179.46" width="7.7" height="24.83" fill="#7070FF"/>
<rect x="228.03" y="179.46" width="4" height="24.83" fill="#FFAAAA"/>
<rect x="231.73" y="179.46" width="4" height="24.83" fill="#FF0000"/>
<rect x="235.44" y="179.46" width="11.4" height="24.83" fill="#7070FF"/>
<rect x="246.54" y="179.46" width="4" height="24.83" fill="#F4F1F6"/>
<rect x="250.24" y="179.46" width="4" height="24.83" fill="#FF0000"/>
<rect x="253.94" y="179.46" width="4" height="24.83" fill="#FFAAAA"/>
<rect x="257.64" y="179.46" width="4" height="24.83" fill="#F4F1F6"/>
<rect x="261.34" y="179.46" width="4" height="24.83" fill="#FF6262"/>
<rect x="265.04" y="179.46" width="4" height="24.83" fill="#7070FF"/>
<rect x="268.74" y="179.46" width="4" height="24.83" fill="#FFAAAA"/>
<rect x="272.44" y="179.46" width="4" height="24.83" fill="#B2B2FA"/>
<rect x="276.14" y="179.46" width="11.4" height="24.83" fill="#7070FF"/>
<rect x="287.24" y="179.46" width="4" height="24.83" fill="#F4F1F6"/>
<rect x="290.94" y="179.46" width="4" height="24.83" fill="#B2B2FA"/>
<rect x="294.64" y="179.46" width="4" height="24.83" fill="#F4F1F6"/>
<rect x="298.34" y="179.46" width="4" height="24.83" fill="#7070FF"/>
<rect x="302.04" y="179.46" width="4" height="24.83" fill="#F4F1F6"/>
<rect x="305.74" y="179.46" width="4" height="24.83" fill="#7070FF"/>
<rect x="309.44" y="179.46" width="7.7" height="24.83" fill="#B2B2FA"/>
<rect x="316.84" y="179.46" width="4" height="24.83" fill="#FFAAAA"/>
<rect x="320.54" y="179.46" width="4" height="24.83" fill="#B2B2FA"/>
<rect x="324.25" y="179.46" width="4" height="24.83" fill="#7070FF"/>
<rect x="327.95" y="179.46" width="4" height="24.83" fill="#F4F1F6"/>
<rect x="331.65" y="179.46" width="7.7" height="24.83" fill="#7070FF"/>
<rect x="339.05" y="179.46" width="7.7" height="24.83" fill="#F4F1F6"/>
<rect x="346.45" y="179.46" width="4" height="24.83" fill="#B2B2FA"/>
<rect x="350.15" y="179.46" width="4" height="24.83" fill="#D8D8FC"/>
<rect x="353.85" y="179.46" width="4" height="24.83" fill="#7070FF"/>
<rect x="357.55" y="179.46" width="7.7" height="24.83" fill="#FFAAAA"/>
<rect x="191.03" y="208" width="15.1" height="24.93" fill="#D8D8FC"/>
<rect x="205.83" y="208" width="4" height="24.93" fill="#FF6262"/>
<rect x="209.53" y="208" width="4" height="24.93" fill="#D8D8FC"/>
<rect x="213.23" y="208" width="4" height="24.93" fill="#FFDCDC"/>
<rect x="216.93" y="208" width="15.1" height="24.93" fill="#D8D8FC"/>
<rect x="231.73" y="208" width="4" height="24.93" fill="#FF0000"/>
<rect x="235.44" y="208" width="7.7" height="24.93" fill="#D8D8FC"/>
<rect x="242.84" y="208" width="4" height="24.93" fill="#FFDCDC"/>
<rect x="246.54" y="208" width="59.51" height="24.93" fill="#D8D8FC"/>
<rect x="305.74" y="208" width="4" height="24.93" fill="#FF6262"/>
<rect x="309.44" y="208" width="37.3" height="24.93" fill="#D8D8FC"/>
<rect x="346.45" y="208" width="4" height="24.93" fill="#FF0000"/>
<rect x="350.15" y="208" width="4" height="24.93" fill="#FF6262"/>
<rect x="353.85" y="208" width="4" height="24.93" fill="#D8D8FC"/>
<rect x="357.55" y="208" width="4" height="24.93" fill="#FF0000"/>
<rect x="361.25" y="208" width="4" height="24.93" fill="#D8D8FC"/>
<rect x="191.03" y="232.93" width="7.7" height="24.93" fill="#B2B2FA"/>
<rect x="198.43" y="232.93" width="4" height="24.93" fill="#F4F1F6"/>
<rect x="202.13" y="232.93" width="4" height="24.93" fill="#B2B2FA"/>
<rect x="205.83" y="232.93" width="7.7" height="24.93" fill="#D8D8FC"/>
<rect x="213.23" y="232.93" width="11.4" height="24.93" fill="#B2B2FA"/>
<rect x="224.33" y="232.93" width="4" height="24.93" fill="#FF6262"/>
<rect x="228.03" y="232.93" width="4" height="24.93" fill="#D8D8FC"/>
<rect x="231.73" y="232.93" width="4" height="24.93" fill="#F4F1F6"/>
<rect x="235.44" y="232.93" width="4" height="24.93" fill="#FFAAAA"/>
<rect x="239.14" y="232.93" width="4" height="24.93" fill="#FF6262"/>
<rect x="242.84" y="232.93" width="7.7" height="24.93" fill="#B2B2FA"/>
<rect x="250.24" y="232.93" width="4" height="24.93" fill="#F4F1F6"/>
<rect x="253.94" y="232.93" width="7.7" height="24.93" fill="#B2B2FA"/>
<rect x="261.34" y="232.93" width="4" height="24.93" fill="#D8D8FC"/>
<rect x="265.04" y="232.93" width="4" height="24.93" fill="#F4F1F6"/>
<rect x="268.74" y="232.93" width="4" height="24.93" fill="#FFDCDC"/>
<rect x="272.44" y="232.93" width="4" height="24.93" fill="#D8D8FC"/>
<rect x="276.14" y="232.93" width="4" height="24.93" fill="#F4F1F6"/>
<rect x="279.84" y="232.93" width="4" height="24.93" fill="#FF0000"/>
<rect x="283.54" y="232.93" width="4" height="24.93" fill="#B2B2FA"/>
<rect x="287.24" y="232.93" width="4" height="24.93" fill="#D8D8FC"/>
<rect x="290.94" y="232.93" width="7.7" height="24.93" fill="#B2B2FA"/>
<rect x="298.34" y="232.93" width="4" height="24.93" fill="#FFDCDC"/>
<rect x="302.04" y="232.93" width="4" height="24.93" fill="#D8D8FC"/>
<rect x="305.74" y="232.93" width="11.4" height="24.93" fill="#B2B2FA"/>
<rect x="316.84" y="232.93" width="4" height="24.93" fill="#FF0000"/>
<rect x="320.54" y="232.93" width="4" height="24.93" fill="#D8D8FC"/>
<rect x="324.25" y="232.93" width="4" height="24.93" fill="#B2B2FA"/>
<rect x="327.95" y="232.93" width="4" height="24.93" fill="#F4F1F6"/>
<rect x="331.65" y="232.93" width="4" height="24.93" fill="#B2B2FA"/>
<rect x="335.35" y="232.93" width="4" height="24.93" fill="#D8D8FC"/>
<rect x="339.05" y="232.93" width="7.7" height="24.93" fill="#F4F1F6"/>
<rect x="346.45" y="232.93" width="11.4" height="24.93" fill="#B2B2FA"/>
<rect x="357.55" y="232.93" width="4" height="24.93" fill="#FF6262"/>
<rect x="361.25" y="232.93" width="4" height="24.93" fill="#B2B2FA"/>
<rect x="191.03" y="257.86" width="11.4" height="24.93" fill="#B2B2FA"/>
<rect x="202.13" y="257.86" width="4" height="24.93" fill="#D8D8FC"/>
<rect x="205.83" y="257.86" width="4" height="24.93" fill="#F4F1F6"/>
<rect x="209.53" y="257.86" width="7.7" height="24.93" fill="#B2B2FA"/>
<rect x="216.93" y="257.86" width="4" height="24.93" fill="#D8D8FC"/>
<rect x="220.63" y="257.86" width="4" height="24.93" fill="#B2B2FA"/>
<rect x="224.33" y="257.86" width="4" height="24.93" fill="#FF6262"/>
<rect x="228.03" y="257.86" width="4" height="24.93" fill="#D8D8FC"/>
<rect x="231.73" y="257.86" width="4" height="24.93" fill="#B2B2FA"/>
<rect x="235.44" y="257.86" width="7.7" height="24.93" fill="#D8D8FC"/>
<rect x="242.84" y="257.86" width="7.7" height="24.93" fill="#B2B2FA"/>
<rect x="250.24" y="257.86" width="4" height="24.93" fill="#F4F1F6"/>
<rect x="253.94" y="257.86" width="11.4" height="24.93" fill="#B2B2FA"/>
<rect x="265.04" y="257.86" width="4" height="24.93" fill="#D8D8FC"/>
<rect x="268.74" y="257.86" width="4" height="24.93" fill="#B2B2FA"/>
<rect x="272.44" y="257.86" width="4" height="24.93" fill="#D8D8FC"/>
<rect x="276.14" y="257.86" width="4" height="24.93" fill="#F4F1F6"/>
<rect x="279.84" y="257.86" width="4" height="24.93" fill="#FF6262"/>
<rect x="283.54" y="257.86" width="4" height="24.93" fill="#F4F1F6"/>
<rect x="287.24" y="257.86" width="4" height="24.93" fill="#FFAAAA"/>
<rect x="290.94" y="257.86" width="7.7" height="24.93" fill="#B2B2FA"/>
<rect x="298.34" y="257.86" width="4" height="24.93" fill="#FF6262"/>
<rect x="302.04" y="257.86" width="4" height="24.93" fill="#B2B2FA"/>
<rect x="305.74" y="257.86" width="4" height="24.93" fill="#D8D8FC"/>
<rect x="309.44" y="257.86" width="7.7" height="24.93" fill="#B2B2FA"/>
<rect x="316.84" y="257.86" width="4" height="24.93" fill="#FF0000"/>
<rect x="320.54" y="257.86" width="7.7" height="24.93" fill="#F4F1F6"/>
<rect x="327.95" y="257.86" width="7.7" height="24.93" fill="#B2B2FA"/>
<rect x="335.35" y="257.86" width="4" height="24.93" fill="#D8D8FC"/>
<rect x="339.05" y="257.86" width="4" height="24.93" fill="#B2B2FA"/>
<rect x="342.75" y="257.86" width="4" height="24.93" fill="#FF6262"/>
<rect x="346.45" y="257.86" width="4" height="24.93" fill="#B2B2FA"/>
<rect x="350.15" y="257.86" width="4" height="24.93" fill="#D8D8FC"/>
<rect x="353.85" y="257.86" width="4" height="24.93" fill="#B2B2FA"/>
<rect x="357.55" y="257.86" width="4" height="24.93" fill="#FF6262"/>
<rect x="361.25" y="257.86" width="4" height="24.93" fill="#B2B2FA"/>
<rect x="191.03" y="282.79" width="4" height="24.93" fill="#F4F1F6"/>
<rect x="194.73" y="282.79" width="4" height="24.93" fill="#FFDCDC"/>
<rect x="198.43" y="282.79" width="4" height="24.93" fill="#FF6262"/>
<rect x="202.13" y="282.79" width="4" height="24.93" fill="#F4F1F6"/>
<rect x="205.83" y="282.79" width="4" height="24.93" fill="#FFAAAA"/>
<rect x="209.53" y="282.79" width="4" height="24.93" fill="#D8D8FC"/>
<rect x="213.23" y="282.79" width="7.7" height="24.93" fill="#FFAAAA"/>
<rect x="220.63" y="282.79" width="4" height="24.93" fill="#F4F1F6"/>
<rect x="224.33" y="282.79" width="7.7" height="24.93" fill="#B2B2FA"/>
<rect x="231.73" y="282.79" width="4" height="24.93" fill="#FFDCDC"/>
<rect x="235.44" y="282.79" width="4" height="24.93" fill="#D8D8FC"/>
<rect x="239.14" y="282.79" width="4" height="24.93" fill="#FFDCDC"/>
<rect x="242.84" y="282.79" width="7.7" height="24.93" fill="#FFAAAA"/>
<rect x="250.24" y="282.79" width="4" height="24.93" fill="#FFDCDC"/>
<rect x="253.94" y="282.79" width="7.7" height="24.93" fill="#B2B2FA"/>
<rect x="261.34" y="282.79" width="4" height="24.93" fill="#F4F1F6"/>
<rect x="265.04" y="282.79" width="4" height="24.93" fill="#D8D8FC"/>
<rect x="268.74" y="282.79" width="4" height="24.93" fill="#B2B2FA"/>
<rect x="272.44" y="282.79" width="4" height="24.93" fill="#D8D8FC"/>
<rect x="276.14" y="282.79" width="4" height="24.93" fill="#B2B2FA"/>
<rect x="279.84" y="282.79" width="7.7" height="24.93" fill="#F4F1F6"/>
<rect x="287.24" y="282.79" width="4" height="24.93" fill="#B2B2FA"/>
<rect x="290.94" y="282.79" width="4" height="24.93" fill="#D8D8FC"/>
<rect x="294.64" y="282.79" width="4" height="24.93" fill="#FFDCDC"/>
<rect x="298.34" y="282.79" width="7.7" height="24.93" fill="#B2B2FA"/>
<rect x="305.74" y="282.79" width="4" height="24.93" fill="#FF6262"/>
<rect x="309.44" y="282.79" width="4" height="24.93" fill="#FFAAAA"/>
<rect x="313.14" y="282.79" width="4" height="24.93" fill="#F4F1F6"/>
<rect x="316.84" y="282.79" width="4" height="24.93" fill="#B2B2FA"/>
<rect x="320.54" y="282.79" width="4" height="24.93" fill="#D8D8FC"/>
<rect x="324.25" y="282.79" width="4" height="24.93" fill="#FF0000"/>
<rect x="327.95" y="282.79" width="7.7" height="24.93" fill="#D8D8FC"/>
<rect x="335.35" y="282.79" width="4" height="24.93" fill="#FF6262"/>
<rect x="339.05" y="282.79" width="4" height="24.93" fill="#D8D8FC"/>
<rect x="342.75" y="282.79" width="4" height="24.93" fill="#F4F1F6"/>
<rect x="346.45" y="282.79" width="4" height="24.93" fill="#FFAAAA"/>
<rect x="350.15" y="282.79" width="4" height="24.93" fill="#FF6262"/>
<rect x="353.85" y="282.79" width="4" height="24.93" fill="#F4F1F6"/>
<rect x="357.55" y="282.79" width="4" height="24.93" fill="#FF0000"/>
<rect x="361.25" y="282.79" width="4" height="24.93" fill="#B2B2FA"/>
<rect x="191.03" y="307.72" width="18.8" height="24.93" fill="#C6C6FA"/>
<rect x="209.53" y="307.72" width="4" height="24.93" fill="#F4F1F6"/>
<rect x="213.23" y="307.72" width="7.7" height="24.93" fill="#FFAAAA"/>
<rect x="220.63" y="307.72" width="4" height="24.93" fill="#D8D8FC"/>
<rect x="224.33" y="307.72" width="4" height="24.93" fill="#C6C6FA"/>
<rect x="228.03" y="307.72" width="4" height="24.93" fill="#F4F1F6"/>
<rect x="231.73" y="307.72" width="11.4" height="24.93" fill="#C6C6FA"/>
<rect x="242.84" y="307.72" width="4" height="24.93" fill="#D8D8FC"/>
<rect x="246.54" y="307.72" width="4" height="24.93" fill="#F4F1F6"/>
<rect x="250.24" y="307.72" width="7.7" height="24.93" fill="#C6C6FA"/>
<rect x="257.64" y="307.72" width="4" height="24.93" fill="#FFAAAA"/>
<rect x="261.34" y="307.72" width="11.4" height="24.93" fill="#C6C6FA"/>
<rect x="272.44" y="307.72" width="4" height="24.93" fill="#FFDCDC"/>
<rect x="276.14" y="307.72" width="4" height="24.93" fill="#F4F1F6"/>
<rect x="279.84" y="307.72" width="4" height="24.93" fill="#C6C6FA"/>
<rect x="283.54" y="307.72" width="4" height="24.93" fill="#FFAAAA"/>
<rect x="287.24" y="307.72" width="4" height="24.93" fill="#FFDCDC"/>
<rect x="290.94" y="307.72" width="7.7" height="24.93" fill="#C6C6FA"/>
<rect x="298.34" y="307.72" width="4" height="24.93" fill="#FF6262"/>
<rect x="302.04" y="307.72" width="4" height="24.93" fill="#C6C6FA"/>
<rect x="305.74" y="307.72" width="4" height="24.93" fill="#FFDCDC"/>
<rect x="309.44" y="307.72" width="11.4" height="24.93" fill="#C6C6FA"/>
<rect x="320.54" y="307.72" width="4" height="24.93" fill="#FFDCDC"/>
<rect x="324.25" y="307.72" width="4" height="24.93" fill="#FF6262"/>
<rect x="327.95" y="307.72" width="7.7" height="24.93" fill="#C6C6FA"/>
<rect x="335.35" y="307.72" width="4" height="24.93" fill="#FFDCDC"/>
<rect x="339.05" y="307.72" width="4" height="24.93" fill="#FFAAAA"/>
<rect x="342.75" y="307.72" width="4" height="24.93" fill="#C6C6FA"/>
<rect x="346.45" y="307.72" width="11.4" height="24.93" fill="#FF0000"/>
<rect x="357.55" y="307.72" width="7.7" height="24.93" fill="#C6C6FA"/>
<rect x="191.03" y="332.65" width="4" height="24.93" fill="#B2B2FA"/>
<rect x="194.73" y="332.65" width="4" height="24.93" fill="#7070FF"/>
<rect x="198.43" y="332.65" width="4" height="24.93" fill="#FF0000"/>
<rect x="202.13" y="332.65" width="4" height="24.93" fill="#B2B2FA"/>
<rect x="205.83" y="332.65" width="4" height="24.93" fill="#0000FF"/>
<rect x="209.53" y="332.65" width="4" height="24.93" fill="#FFDCDC"/>
<rect x="213.23" y="332.65" width="7.7" height="24.93" fill="#7070FF"/>
<rect x="220.63" y="332.65" width="4" height="24.93" fill="#FF6262"/>
<rect x="224.33" y="332.65" width="4" height="24.93" fill="#FFDCDC"/>
<rect x="228.03" y="332.65" width="4" height="24.93" fill="#F4F1F6"/>
<rect x="231.73" y="332.65" width="4" height="24.93" fill="#7070FF"/>
<rect x="235.44" y="332.65" width="4" height="24.93" fill="#FFDCDC"/>
<rect x="239.14" y="332.65" width="7.7" height="24.93" fill="#F4F1F6"/>
<rect x="246.54" y="332.65" width="7.7" height="24.93" fill="#FF6262"/>
<rect x="253.94" y="332.65" width="4" height="24.93" fill="#FF0000"/>
<rect x="257.64" y="332.65" width="4" height="24.93" fill="#D8D8FC"/>
<rect x="261.34" y="332.65" width="4" height="24.93" fill="#FFAAAA"/>
<rect x="265.04" y="332.65" width="4" height="24.93" fill="#7070FF"/>
<rect x="268.74" y="332.65" width="4" height="24.93" fill="#FFAAAA"/>
<rect x="272.44" y="332.65" width="7.7" height="24.93" fill="#0000FF"/>
<rect x="279.84" y="332.65" width="4" height="24.93" fill="#D8D8FC"/>
<rect x="283.54" y="332.65" width="4" height="24.93" fill="#B2B2FA"/>
<rect x="287.24" y="332.65" width="4" height="24.93" fill="#0000FF"/>
<rect x="290.94" y="332.65" width="4" height="24.93" fill="#D8D8FC"/>
<rect x="294.64" y="332.65" width="4" height="24.93" fill="#FF0000"/>
<rect x="298.34" y="332.65" width="4" height="24.93" fill="#D8D8FC"/>
<rect x="302.04" y="332.65" width="7.7" height="24.93" fill="#B2B2FA"/>
<rect x="309.44" y="332.65" width="4" height="24.93" fill="#FFAAAA"/>
<rect x="313.14" y="332.65" width="4" height="24.93" fill="#D8D8FC"/>
<rect x="316.84" y="332.65" width="7.7" height="24.93" fill="#7070FF"/>
<rect x="324.25" y="332.65" width="4" height="24.93" fill="#B2B2FA"/>
<rect x="327.95" y="332.65" width="4" height="24.93" fill="#FFAAAA"/>
<rect x="331.65" y="332.65" width="4" height="24.93" fill="#D8D8FC"/>
<rect x="335.35" y="332.65" width="4" height="24.93" fill="#B2B2FA"/>
<rect x="339.05" y="332.65" width="4" height="24.93" fill="#FF6262"/>
<rect x="342.75" y="332.65" width="4" height="24.93" fill="#D8D8FC"/>
<rect x="346.45" y="332.65" width="7.7" height="24.93" fill="#0000FF"/>
<rect x="353.85" y="332.65" width="4" height="24.93" fill="#F4F1F6"/>
<rect x="357.55" y="332.65" width="4" height="24.93" fill="#B2B2FA"/>
<rect x="361.25" y="332.65" width="4" height="24.93" fill="#FF0000"/>
<rect x="14.1" y="44.1" width="173.9" height="5" fill="#0000FF"/>
<rect x="191" y="44.1" width="174" height="5" fill="#FF0000"/>
<defs><linearGradient id="rsg" x1="0" x2="1"><stop offset="0" stop-color="#DFF2F2"/><stop offset="0.8" stop-color="#D3EDEC"/><stop offset="0.9" stop-color="#A9D6C6"/><stop offset="0.97" stop-color="#5AA982"/><stop offset="1" stop-color="#2E8B57"/></linearGradient></defs>
<defs><linearGradient id="rsl" x1="0" x2="1"><stop offset="0" stop-color="#F2FAFA"/><stop offset="0.15" stop-color="#E6F5F5"/><stop offset="1" stop-color="#E0F2F2"/></linearGradient></defs><rect x="13.94" y="37.8" width="174" height="4.9" fill="url(#rsl)"/>
<rect x="191.03" y="37.8" width="173.9" height="4.9" fill="url(#rsg)"/>
<rect x="7.1" y="51.8" width="4.7" height="74.7" fill="#FA8072"/>
<rect x="7.1" y="129.8" width="4.7" height="74.5" fill="#FF80FF"/>
<rect x="7.1" y="208" width="4.7" height="149.6" fill="#12CF8A"/>
<text x="0" y="0" font-size="4.9" fill="#222" dominant-baseline="central" transform="translate(370.6,64.25) scale(0.8,1)">B cell naive_CIBERSORT</text>
<text x="0" y="0" font-size="4.9" fill="#222" dominant-baseline="central" transform="translate(370.6,89.15) scale(0.8,1)">B cell memory_CIBERSORT</text>
<text x="0" y="0" font-size="4.9" fill="#222" dominant-baseline="central" transform="translate(370.6,114.05) scale(0.8,1)">NK cell activated_CIBERSORT</text>
<text x="0" y="0" font-size="4.9" fill="#222" dominant-baseline="central" transform="translate(370.6,142.22) scale(0.8,1)">B cell naive_CIBERSORT−ABS</text>
<text x="0" y="0" font-size="4.9" fill="#222" dominant-baseline="central" transform="translate(370.6,167.04) scale(0.8,1)">B cell memory_CIBERSORT−ABS</text>
<text x="0" y="0" font-size="4.9" fill="#222" dominant-baseline="central" transform="translate(370.6,191.88) scale(0.8,1)">NK cell activated_CIBERSORT−ABS</text>
<text x="0" y="0" font-size="4.9" fill="#222" dominant-baseline="central" transform="translate(370.6,220.47) scale(0.8,1)">T cell CD4+ central memory_XCELL</text>
<text x="0" y="0" font-size="4.9" fill="#222" dominant-baseline="central" transform="translate(370.6,245.4) scale(0.8,1)">Cancer associated fibroblast_XCELL</text>
<text x="0" y="0" font-size="4.9" fill="#222" dominant-baseline="central" transform="translate(370.6,270.32) scale(0.8,1)">Hematopoietic stem cell_XCELL</text>
<text x="0" y="0" font-size="4.9" fill="#222" dominant-baseline="central" transform="translate(370.6,295.25) scale(0.8,1)">Mast cell_XCELL</text>
<text x="0" y="0" font-size="4.9" fill="#222" dominant-baseline="central" transform="translate(370.6,320.19) scale(0.8,1)">Neutrophil_XCELL</text>
<text x="0" y="0" font-size="4.9" fill="#222" dominant-baseline="central" transform="translate(370.6,345.11) scale(0.8,1)">T cell CD4+ Th2_XCELL</text>
<text x="370.3" y="40.2" font-size="4.8" text-anchor="start" font-weight="bold" fill="#000" dominant-baseline="central" >riskScore</text>
<text x="370.3" y="46.6" font-size="4.8" text-anchor="start" font-weight="bold" fill="#000" dominant-baseline="central" >risk</text>
<defs><linearGradient id="acb" x1="0" y1="0" x2="0" y2="1"><stop offset="0" stop-color="#FF0000"/><stop offset="0.41" stop-color="#FF0000"/><stop offset="0.5" stop-color="#FFFFFF"/><stop offset="0.59" stop-color="#0000FF"/><stop offset="1" stop-color="#0000FF"/></linearGradient></defs>
<rect x="440.6" y="36.8" width="8.4" height="123.2" fill="url(#acb)"/>
<text x="452" y="66" font-size="4.8" text-anchor="start" font-weight="normal" fill="#000" dominant-baseline="central" >5</text>
<text x="452" y="98.5" font-size="4.8" text-anchor="start" font-weight="normal" fill="#000" dominant-baseline="central" >0</text>
<text x="451" y="131" font-size="4.8" text-anchor="start" font-weight="normal" fill="#000" dominant-baseline="central" >−5</text>
<text x="457" y="39" font-size="4.8" text-anchor="start" font-weight="bold" fill="#000" dominant-baseline="central" >riskScore</text>
<rect x="457" y="42.4" width="7" height="7.05" fill="#2E8B57"/>
<rect x="457" y="49.45" width="7" height="7.05" fill="#6BB596"/>
<rect x="457" y="56.5" width="7" height="7.05" fill="#A8D5CC"/>
<rect x="457" y="63.55" width="7" height="7.05" fill="#E0F2F2"/>
<text x="465.5" y="46" font-size="4.8" text-anchor="start" font-weight="normal" fill="#000" dominant-baseline="central" >25</text>
<text x="465.5" y="67" font-size="4.8" text-anchor="start" font-weight="normal" fill="#000" dominant-baseline="central" >5</text>
<text x="457" y="77" font-size="4.8" text-anchor="start" font-weight="bold" fill="#000" dominant-baseline="central" >risk</text>
<rect x="457" y="81" width="7" height="7" fill="#0000FF"/>
<rect x="457" y="88" width="7" height="7" fill="#FF0000"/>
<text x="465.5" y="84.5" font-size="4.8" text-anchor="start" font-weight="normal" fill="#000" dominant-baseline="central" >low</text>
<text x="465.5" y="92" font-size="4.8" text-anchor="start" font-weight="normal" fill="#000" dominant-baseline="central" >high</text>
<text x="457" y="102" font-size="4.8" text-anchor="start" font-weight="bold" fill="#000" dominant-baseline="central" >Methods</text>
<rect x="457" y="106" width="7" height="7" fill="#FA8072"/>
<rect x="457" y="113" width="7" height="7" fill="#FF80FF"/>
<rect x="457" y="120" width="7" height="7" fill="#12CF8A"/>
<text x="465.5" y="109.5" font-size="4.8" text-anchor="start" font-weight="normal" fill="#000" dominant-baseline="central" >CIBERSORT</text>
<text x="465.5" y="116.5" font-size="4.8" text-anchor="start" font-weight="normal" fill="#000" dominant-baseline="central" >CIBERSORT−ABS</text>
<text x="465.5" y="123.5" font-size="4.8" text-anchor="start" font-weight="normal" fill="#000" dominant-baseline="central" >XCELL</text>
<text x="0" y="0" font-size="4.8" font-weight="bold" fill="#000" transform="translate(7.5,362) rotate(90)" dominant-baseline="central">Methods</text>
<rect x="559.1" y="44.6" width="3.77" height="22.64" fill="#FF0000"/>
<rect x="562.57" y="44.6" width="3.77" height="22.64" fill="#FFA0A0"/>
<rect x="566.04" y="44.6" width="3.77" height="22.64" fill="#FFD4D4"/>
<rect x="569.51" y="44.6" width="3.77" height="22.64" fill="#FFA0A0"/>
<rect x="572.98" y="44.6" width="3.77" height="22.64" fill="#A0A0FF"/>
<rect x="576.45" y="44.6" width="10.71" height="22.64" fill="#0000FF"/>
<rect x="586.85" y="44.6" width="3.77" height="22.64" fill="#FF0000"/>
<rect x="590.32" y="44.6" width="3.77" height="22.64" fill="#5050FF"/>
<rect x="593.79" y="44.6" width="3.77" height="22.64" fill="#FF0000"/>
<rect x="597.26" y="44.6" width="3.77" height="22.64" fill="#F8F4F6"/>
<rect x="600.73" y="44.6" width="3.77" height="22.64" fill="#FF0000"/>
<rect x="604.2" y="44.6" width="3.77" height="22.64" fill="#FF4A4A"/>
<rect x="607.67" y="44.6" width="3.77" height="22.64" fill="#FF0000"/>
<rect x="611.14" y="44.6" width="3.77" height="22.64" fill="#0000FF"/>
<rect x="614.61" y="44.6" width="3.77" height="22.64" fill="#FF4A4A"/>
<rect x="618.08" y="44.6" width="3.77" height="22.64" fill="#FFA0A0"/>
<rect x="621.54" y="44.6" width="3.77" height="22.64" fill="#FF4A4A"/>
<rect x="625.01" y="44.6" width="3.77" height="22.64" fill="#FFD4D4"/>
<rect x="628.48" y="44.6" width="7.24" height="22.64" fill="#FF0000"/>
<rect x="635.42" y="44.6" width="3.77" height="22.64" fill="#D0D0FF"/>
<rect x="638.89" y="44.6" width="3.77" height="22.64" fill="#A0A0FF"/>
<rect x="642.36" y="44.6" width="3.77" height="22.64" fill="#5050FF"/>
<rect x="645.83" y="44.6" width="3.77" height="22.64" fill="#FF4A4A"/>
<rect x="649.3" y="44.6" width="3.77" height="22.64" fill="#0000FF"/>
<rect x="652.77" y="44.6" width="3.77" height="22.64" fill="#FF4A4A"/>
<rect x="656.24" y="44.6" width="3.77" height="22.64" fill="#FF0000"/>
<rect x="659.71" y="44.6" width="3.77" height="22.64" fill="#A0A0FF"/>
<rect x="663.17" y="44.6" width="3.77" height="22.64" fill="#0000FF"/>
<rect x="666.64" y="44.6" width="3.77" height="22.64" fill="#FF0000"/>
<rect x="670.11" y="44.6" width="3.77" height="22.64" fill="#FF4A4A"/>
<rect x="673.58" y="44.6" width="3.77" height="22.64" fill="#FF0000"/>
<rect x="677.05" y="44.6" width="3.77" height="22.64" fill="#F8F4F6"/>
<rect x="680.52" y="44.6" width="3.77" height="22.64" fill="#5050FF"/>
<rect x="683.99" y="44.6" width="3.77" height="22.64" fill="#A0A0FF"/>
<rect x="687.46" y="44.6" width="3.77" height="22.64" fill="#0000FF"/>
<rect x="690.93" y="44.6" width="3.77" height="22.64" fill="#FF0000"/>
<rect x="694.4" y="44.6" width="3.77" height="22.64" fill="#D0D0FF"/>
<rect x="697.87" y="44.6" width="7.24" height="22.64" fill="#0000FF"/>
<rect x="704.8" y="44.6" width="3.77" height="22.64" fill="#F8F4F6"/>
<rect x="708.27" y="44.6" width="3.77" height="22.64" fill="#0000FF"/>
<rect x="711.74" y="44.6" width="3.77" height="22.64" fill="#FF0000"/>
<rect x="715.21" y="44.6" width="3.77" height="22.64" fill="#F8F4F6"/>
<rect x="718.68" y="44.6" width="3.77" height="22.64" fill="#A0A0FF"/>
<rect x="722.15" y="44.6" width="3.77" height="22.64" fill="#FF0000"/>
<rect x="725.62" y="44.6" width="3.77" height="22.64" fill="#5050FF"/>
<rect x="729.09" y="44.6" width="3.77" height="22.64" fill="#D0D0FF"/>
<rect x="732.56" y="44.6" width="3.77" height="22.64" fill="#FF4A4A"/>
<rect x="736.03" y="44.6" width="3.77" height="22.64" fill="#0000FF"/>
<rect x="739.5" y="44.6" width="3.77" height="22.64" fill="#F8F4F6"/>
<rect x="742.96" y="44.6" width="3.77" height="22.64" fill="#FF0000"/>
<rect x="746.43" y="44.6" width="3.77" height="22.64" fill="#0000FF"/>
<rect x="749.9" y="44.6" width="3.77" height="22.64" fill="#5050FF"/>
<rect x="753.37" y="44.6" width="3.77" height="22.64" fill="#FF0000"/>
<rect x="756.84" y="44.6" width="3.77" height="22.64" fill="#FFA0A0"/>
<rect x="760.31" y="44.6" width="7.24" height="22.64" fill="#0000FF"/>
<rect x="767.25" y="44.6" width="3.77" height="22.64" fill="#FF0000"/>
<rect x="770.72" y="44.6" width="3.77" height="22.64" fill="#F8F4F6"/>
<rect x="774.19" y="44.6" width="3.77" height="22.64" fill="#FF4A4A"/>
<rect x="777.66" y="44.6" width="3.77" height="22.64" fill="#0000FF"/>
<rect x="781.13" y="44.6" width="3.77" height="22.64" fill="#FFA0A0"/>
<rect x="784.59" y="44.6" width="3.77" height="22.64" fill="#FF0000"/>
<rect x="788.06" y="44.6" width="3.77" height="22.64" fill="#A0A0FF"/>
<rect x="791.53" y="44.6" width="3.77" height="22.64" fill="#FF0000"/>
<rect x="795" y="44.6" width="3.77" height="22.64" fill="#FF4A4A"/>
<rect x="798.47" y="44.6" width="3.77" height="22.64" fill="#5050FF"/>
<rect x="801.94" y="44.6" width="3.77" height="22.64" fill="#FF4A4A"/>
<rect x="805.41" y="44.6" width="7.24" height="22.64" fill="#0000FF"/>
<rect x="812.35" y="44.6" width="3.77" height="22.64" fill="#D0D0FF"/>
<rect x="815.82" y="44.6" width="3.77" height="22.64" fill="#F8F4F6"/>
<rect x="819.29" y="44.6" width="3.77" height="22.64" fill="#FFD4D4"/>
<rect x="822.76" y="44.6" width="3.77" height="22.64" fill="#0000FF"/>
<rect x="826.22" y="44.6" width="7.24" height="22.64" fill="#FFA0A0"/>
<rect x="833.16" y="44.6" width="10.71" height="22.64" fill="#FF0000"/>
<rect x="843.57" y="44.6" width="3.77" height="22.64" fill="#FFD4D4"/>
<rect x="847.04" y="44.6" width="3.77" height="22.64" fill="#FF4A4A"/>
<rect x="850.51" y="44.6" width="7.24" height="22.64" fill="#5050FF"/>
<rect x="857.45" y="44.6" width="3.77" height="22.64" fill="#0000FF"/>
<rect x="860.92" y="44.6" width="3.77" height="22.64" fill="#FFD4D4"/>
<rect x="864.39" y="44.6" width="3.77" height="22.64" fill="#FFA0A0"/>
<rect x="867.85" y="44.6" width="3.77" height="22.64" fill="#0000FF"/>
<rect x="871.32" y="44.6" width="7.24" height="22.64" fill="#FF0000"/>
<rect x="878.26" y="44.6" width="3.77" height="22.64" fill="#FF4A4A"/>
<rect x="881.73" y="44.6" width="3.77" height="22.64" fill="#0000FF"/>
<rect x="559.1" y="66.94" width="3.77" height="22.64" fill="#FF0000"/>
<rect x="562.57" y="66.94" width="3.77" height="22.64" fill="#FFA0A0"/>
<rect x="566.04" y="66.94" width="3.77" height="22.64" fill="#0000FF"/>
<rect x="569.51" y="66.94" width="3.77" height="22.64" fill="#D0D0FF"/>
<rect x="572.98" y="66.94" width="3.77" height="22.64" fill="#5050FF"/>
<rect x="576.45" y="66.94" width="3.77" height="22.64" fill="#FFD4D4"/>
<rect x="579.91" y="66.94" width="3.77" height="22.64" fill="#FF4A4A"/>
<rect x="583.38" y="66.94" width="3.77" height="22.64" fill="#FF0000"/>
<rect x="586.85" y="66.94" width="7.24" height="22.64" fill="#0000FF"/>
<rect x="593.79" y="66.94" width="7.24" height="22.64" fill="#A0A0FF"/>
<rect x="600.73" y="66.94" width="3.77" height="22.64" fill="#0000FF"/>
<rect x="604.2" y="66.94" width="7.24" height="22.64" fill="#FFA0A0"/>
<rect x="611.14" y="66.94" width="3.77" height="22.64" fill="#0000FF"/>
<rect x="614.61" y="66.94" width="3.77" height="22.64" fill="#F8F4F6"/>
<rect x="618.08" y="66.94" width="3.77" height="22.64" fill="#0000FF"/>
<rect x="621.54" y="66.94" width="10.71" height="22.64" fill="#FF0000"/>
<rect x="631.95" y="66.94" width="7.24" height="22.64" fill="#FFA0A0"/>
<rect x="638.89" y="66.94" width="3.77" height="22.64" fill="#FFD4D4"/>
<rect x="642.36" y="66.94" width="3.77" height="22.64" fill="#F8F4F6"/>
<rect x="645.83" y="66.94" width="3.77" height="22.64" fill="#FF0000"/>
<rect x="649.3" y="66.94" width="3.77" height="22.64" fill="#0000FF"/>
<rect x="652.77" y="66.94" width="7.24" height="22.64" fill="#FF0000"/>
<rect x="659.71" y="66.94" width="3.77" height="22.64" fill="#5050FF"/>
<rect x="663.17" y="66.94" width="3.77" height="22.64" fill="#F8F4F6"/>
<rect x="666.64" y="66.94" width="21.11" height="22.64" fill="#0000FF"/>
<rect x="687.46" y="66.94" width="3.77" height="22.64" fill="#FF4A4A"/>
<rect x="690.93" y="66.94" width="7.24" height="22.64" fill="#FF0000"/>
<rect x="697.87" y="66.94" width="7.24" height="22.64" fill="#0000FF"/>
<rect x="704.8" y="66.94" width="3.77" height="22.64" fill="#5050FF"/>
<rect x="708.27" y="66.94" width="3.77" height="22.64" fill="#F8F4F6"/>
<rect x="711.74" y="66.94" width="3.77" height="22.64" fill="#FF4A4A"/>
<rect x="715.21" y="66.94" width="7.24" height="22.64" fill="#0000FF"/>
<rect x="722.15" y="66.94" width="3.77" height="22.64" fill="#5050FF"/>
<rect x="725.62" y="66.94" width="3.77" height="22.64" fill="#FF0000"/>
<rect x="729.09" y="66.94" width="3.77" height="22.64" fill="#FFA0A0"/>
<rect x="732.56" y="66.94" width="3.77" height="22.64" fill="#5050FF"/>
<rect x="736.03" y="66.94" width="3.77" height="22.64" fill="#A0A0FF"/>
<rect x="739.5" y="66.94" width="3.77" height="22.64" fill="#FF0000"/>
<rect x="742.96" y="66.94" width="7.24" height="22.64" fill="#A0A0FF"/>
<rect x="749.9" y="66.94" width="3.77" height="22.64" fill="#FF4A4A"/>
<rect x="753.37" y="66.94" width="3.77" height="22.64" fill="#FFD4D4"/>
<rect x="756.84" y="66.94" width="3.77" height="22.64" fill="#FF4A4A"/>
<rect x="760.31" y="66.94" width="3.77" height="22.64" fill="#FFA0A0"/>
<rect x="763.78" y="66.94" width="3.77" height="22.64" fill="#FF0000"/>
<rect x="767.25" y="66.94" width="3.77" height="22.64" fill="#A0A0FF"/>
<rect x="770.72" y="66.94" width="3.77" height="22.64" fill="#FF4A4A"/>
<rect x="774.19" y="66.94" width="3.77" height="22.64" fill="#FF0000"/>
<rect x="777.66" y="66.94" width="3.77" height="22.64" fill="#F8F4F6"/>
<rect x="781.13" y="66.94" width="10.71" height="22.64" fill="#FF0000"/>
<rect x="791.53" y="66.94" width="3.77" height="22.64" fill="#D0D0FF"/>
<rect x="795" y="66.94" width="3.77" height="22.64" fill="#FF0000"/>
<rect x="798.47" y="66.94" width="3.77" height="22.64" fill="#0000FF"/>
<rect x="801.94" y="66.94" width="3.77" height="22.64" fill="#FFD4D4"/>
<rect x="805.41" y="66.94" width="3.77" height="22.64" fill="#0000FF"/>
<rect x="808.88" y="66.94" width="3.77" height="22.64" fill="#FF0000"/>
<rect x="812.35" y="66.94" width="3.77" height="22.64" fill="#0000FF"/>
<rect x="815.82" y="66.94" width="3.77" height="22.64" fill="#FF0000"/>
<rect x="819.29" y="66.94" width="3.77" height="22.64" fill="#A0A0FF"/>
<rect x="822.76" y="66.94" width="3.77" height="22.64" fill="#D0D0FF"/>
<rect x="826.22" y="66.94" width="3.77" height="22.64" fill="#0000FF"/>
<rect x="829.69" y="66.94" width="10.71" height="22.64" fill="#FFD4D4"/>
<rect x="840.1" y="66.94" width="10.71" height="22.64" fill="#FF0000"/>
<rect x="850.51" y="66.94" width="10.71" height="22.64" fill="#FFA0A0"/>
<rect x="860.92" y="66.94" width="3.77" height="22.64" fill="#D0D0FF"/>
<rect x="864.39" y="66.94" width="3.77" height="22.64" fill="#0000FF"/>
<rect x="867.85" y="66.94" width="3.77" height="22.64" fill="#FF4A4A"/>
<rect x="871.32" y="66.94" width="3.77" height="22.64" fill="#FF0000"/>
<rect x="874.79" y="66.94" width="3.77" height="22.64" fill="#5050FF"/>
<rect x="878.26" y="66.94" width="7.24" height="22.64" fill="#FF4A4A"/>
<rect x="559.1" y="89.28" width="3.77" height="22.64" fill="#FF4A4A"/>
<rect x="562.57" y="89.28" width="7.24" height="22.64" fill="#F8F4F6"/>
<rect x="569.51" y="89.28" width="3.77" height="22.64" fill="#D0D0FF"/>
<rect x="572.98" y="89.28" width="3.77" height="22.64" fill="#0000FF"/>
<rect x="576.45" y="89.28" width="10.71" height="22.64" fill="#FF0000"/>
<rect x="586.85" y="89.28" width="7.24" height="22.64" fill="#0000FF"/>
<rect x="593.79" y="89.28" width="3.77" height="22.64" fill="#F8F4F6"/>
<rect x="597.26" y="89.28" width="3.77" height="22.64" fill="#5050FF"/>
<rect x="600.73" y="89.28" width="10.71" height="22.64" fill="#A0A0FF"/>
<rect x="611.14" y="89.28" width="3.77" height="22.64" fill="#0000FF"/>
<rect x="614.61" y="89.28" width="3.77" height="22.64" fill="#FF0000"/>
<rect x="618.08" y="89.28" width="3.77" height="22.64" fill="#5050FF"/>
<rect x="621.54" y="89.28" width="10.71" height="22.64" fill="#FF0000"/>
<rect x="631.95" y="89.28" width="3.77" height="22.64" fill="#5050FF"/>
<rect x="635.42" y="89.28" width="3.77" height="22.64" fill="#FFD4D4"/>
<rect x="638.89" y="89.28" width="3.77" height="22.64" fill="#A0A0FF"/>
<rect x="642.36" y="89.28" width="3.77" height="22.64" fill="#FF4A4A"/>
<rect x="645.83" y="89.28" width="3.77" height="22.64" fill="#FF0000"/>
<rect x="649.3" y="89.28" width="3.77" height="22.64" fill="#0000FF"/>
<rect x="652.77" y="89.28" width="7.24" height="22.64" fill="#FF0000"/>
<rect x="659.71" y="89.28" width="3.77" height="22.64" fill="#0000FF"/>
<rect x="663.17" y="89.28" width="3.77" height="22.64" fill="#FF0000"/>
<rect x="666.64" y="89.28" width="3.77" height="22.64" fill="#5050FF"/>
<rect x="670.11" y="89.28" width="17.65" height="22.64" fill="#0000FF"/>
<rect x="687.46" y="89.28" width="3.77" height="22.64" fill="#FF0000"/>
<rect x="690.93" y="89.28" width="3.77" height="22.64" fill="#FFD4D4"/>
<rect x="694.4" y="89.28" width="3.77" height="22.64" fill="#FF0000"/>
<rect x="697.87" y="89.28" width="10.71" height="22.64" fill="#0000FF"/>
<rect x="708.27" y="89.28" width="7.24" height="22.64" fill="#FF0000"/>
<rect x="715.21" y="89.28" width="3.77" height="22.64" fill="#FF4A4A"/>
<rect x="718.68" y="89.28" width="7.24" height="22.64" fill="#0000FF"/>
<rect x="725.62" y="89.28" width="3.77" height="22.64" fill="#FF0000"/>
<rect x="729.09" y="89.28" width="7.24" height="22.64" fill="#5050FF"/>
<rect x="736.03" y="89.28" width="3.77" height="22.64" fill="#D0D0FF"/>
<rect x="739.5" y="89.28" width="3.77" height="22.64" fill="#FF0000"/>
<rect x="742.96" y="89.28" width="3.77" height="22.64" fill="#0000FF"/>
<rect x="746.43" y="89.28" width="3.77" height="22.64" fill="#5050FF"/>
<rect x="749.9" y="89.28" width="3.77" height="22.64" fill="#FF0000"/>
<rect x="753.37" y="89.28" width="7.24" height="22.64" fill="#A0A0FF"/>
<rect x="760.31" y="89.28" width="7.24" height="22.64" fill="#FF0000"/>
<rect x="767.25" y="89.28" width="3.77" height="22.64" fill="#D0D0FF"/>
<rect x="770.72" y="89.28" width="3.77" height="22.64" fill="#FF4A4A"/>
<rect x="774.19" y="89.28" width="17.65" height="22.64" fill="#FF0000"/>
<rect x="791.53" y="89.28" width="3.77" height="22.64" fill="#0000FF"/>
<rect x="795" y="89.28" width="3.77" height="22.64" fill="#FF0000"/>
<rect x="798.47" y="89.28" width="3.77" height="22.64" fill="#0000FF"/>
<rect x="801.94" y="89.28" width="3.77" height="22.64" fill="#FF0000"/>
<rect x="805.41" y="89.28" width="3.77" height="22.64" fill="#0000FF"/>
<rect x="808.88" y="89.28" width="3.77" height="22.64" fill="#D0D0FF"/>
<rect x="812.35" y="89.28" width="3.77" height="22.64" fill="#5050FF"/>
<rect x="815.82" y="89.28" width="3.77" height="22.64" fill="#FFD4D4"/>
<rect x="819.29" y="89.28" width="3.77" height="22.64" fill="#5050FF"/>
<rect x="822.76" y="89.28" width="3.77" height="22.64" fill="#A0A0FF"/>
<rect x="826.22" y="89.28" width="10.71" height="22.64" fill="#0000FF"/>
<rect x="836.63" y="89.28" width="3.77" height="22.64" fill="#FF0000"/>
<rect x="840.1" y="89.28" width="3.77" height="22.64" fill="#FF4A4A"/>
<rect x="843.57" y="89.28" width="3.77" height="22.64" fill="#FFD4D4"/>
<rect x="847.04" y="89.28" width="3.77" height="22.64" fill="#FF0000"/>
<rect x="850.51" y="89.28" width="3.77" height="22.64" fill="#FF4A4A"/>
<rect x="853.98" y="89.28" width="3.77" height="22.64" fill="#5050FF"/>
<rect x="857.45" y="89.28" width="3.77" height="22.64" fill="#FF0000"/>
<rect x="860.92" y="89.28" width="3.77" height="22.64" fill="#D0D0FF"/>
<rect x="864.39" y="89.28" width="3.77" height="22.64" fill="#FFA0A0"/>
<rect x="867.85" y="89.28" width="3.77" height="22.64" fill="#FF4A4A"/>
<rect x="871.32" y="89.28" width="3.77" height="22.64" fill="#FF0000"/>
<rect x="874.79" y="89.28" width="3.77" height="22.64" fill="#5050FF"/>
<rect x="878.26" y="89.28" width="3.77" height="22.64" fill="#F8F4F6"/>
<rect x="881.73" y="89.28" width="3.77" height="22.64" fill="#FF4A4A"/>
<rect x="559.1" y="111.62" width="7.24" height="22.64" fill="#FFD4D4"/>
<rect x="566.04" y="111.62" width="3.77" height="22.64" fill="#0000FF"/>
<rect x="569.51" y="111.62" width="3.77" height="22.64" fill="#F8F4F6"/>
<rect x="572.98" y="111.62" width="3.77" height="22.64" fill="#D0D0FF"/>
<rect x="576.45" y="111.62" width="7.24" height="22.64" fill="#FFA0A0"/>
<rect x="583.38" y="111.62" width="3.77" height="22.64" fill="#FF0000"/>
<rect x="586.85" y="111.62" width="7.24" height="22.64" fill="#0000FF"/>
<rect x="593.79" y="111.62" width="3.77" height="22.64" fill="#FF0000"/>
<rect x="597.26" y="111.62" width="3.77" height="22.64" fill="#F8F4F6"/>
<rect x="600.73" y="111.62" width="3.77" height="22.64" fill="#5050FF"/>
<rect x="604.2" y="111.62" width="3.77" height="22.64" fill="#FF0000"/>
<rect x="607.67" y="111.62" width="3.77" height="22.64" fill="#F8F4F6"/>
<rect x="611.14" y="111.62" width="3.77" height="22.64" fill="#0000FF"/>
<rect x="614.61" y="111.62" width="24.58" height="22.64" fill="#FF0000"/>
<rect x="638.89" y="111.62" width="3.77" height="22.64" fill="#FFA0A0"/>
<rect x="642.36" y="111.62" width="7.24" height="22.64" fill="#FF0000"/>
<rect x="649.3" y="111.62" width="3.77" height="22.64" fill="#5050FF"/>
<rect x="652.77" y="111.62" width="7.24" height="22.64" fill="#FF0000"/>
<rect x="659.71" y="111.62" width="3.77" height="22.64" fill="#5050FF"/>
<rect x="663.17" y="111.62" width="7.24" height="22.64" fill="#A0A0FF"/>
<rect x="670.11" y="111.62" width="17.65" height="22.64" fill="#0000FF"/>
<rect x="687.46" y="111.62" width="3.77" height="22.64" fill="#FF0000"/>
<rect x="690.93" y="111.62" width="7.24" height="22.64" fill="#FF4A4A"/>
<rect x="697.87" y="111.62" width="7.24" height="22.64" fill="#0000FF"/>
<rect x="704.8" y="111.62" width="3.77" height="22.64" fill="#5050FF"/>
<rect x="708.27" y="111.62" width="7.24" height="22.64" fill="#FFA0A0"/>
<rect x="715.21" y="111.62" width="3.77" height="22.64" fill="#D0D0FF"/>
<rect x="718.68" y="111.62" width="3.77" height="22.64" fill="#FF4A4A"/>
<rect x="722.15" y="111.62" width="3.77" height="22.64" fill="#0000FF"/>
<rect x="725.62" y="111.62" width="3.77" height="22.64" fill="#FF0000"/>
<rect x="729.09" y="111.62" width="7.24" height="22.64" fill="#FFD4D4"/>
<rect x="736.03" y="111.62" width="7.24" height="22.64" fill="#FF0000"/>
<rect x="742.96" y="111.62" width="3.77" height="22.64" fill="#FF4A4A"/>
<rect x="746.43" y="111.62" width="7.24" height="22.64" fill="#FF0000"/>
<rect x="753.37" y="111.62" width="3.77" height="22.64" fill="#FFA0A0"/>
<rect x="756.84" y="111.62" width="3.77" height="22.64" fill="#D0D0FF"/>
<rect x="760.31" y="111.62" width="3.77" height="22.64" fill="#0000FF"/>
<rect x="763.78" y="111.62" width="7.24" height="22.64" fill="#FF4A4A"/>
<rect x="770.72" y="111.62" width="7.24" height="22.64" fill="#FF0000"/>
<rect x="777.66" y="111.62" width="3.77" height="22.64" fill="#A0A0FF"/>
<rect x="781.13" y="111.62" width="3.77" height="22.64" fill="#FF4A4A"/>
<rect x="784.59" y="111.62" width="7.24" height="22.64" fill="#FF0000"/>
<rect x="791.53" y="111.62" width="3.77" height="22.64" fill="#0000FF"/>
<rect x="795" y="111.62" width="3.77" height="22.64" fill="#FF0000"/>
<rect x="798.47" y="111.62" width="3.77" height="22.64" fill="#5050FF"/>
<rect x="801.94" y="111.62" width="3.77" height="22.64" fill="#FFD4D4"/>
<rect x="805.41" y="111.62" width="3.77" height="22.64" fill="#A0A0FF"/>
<rect x="808.88" y="111.62" width="3.77" height="22.64" fill="#FF4A4A"/>
<rect x="812.35" y="111.62" width="3.77" height="22.64" fill="#0000FF"/>
<rect x="815.82" y="111.62" width="3.77" height="22.64" fill="#FF4A4A"/>
<rect x="819.29" y="111.62" width="3.77" height="22.64" fill="#F8F4F6"/>
<rect x="822.76" y="111.62" width="3.77" height="22.64" fill="#A0A0FF"/>
<rect x="826.22" y="111.62" width="3.77" height="22.64" fill="#0000FF"/>
<rect x="829.69" y="111.62" width="7.24" height="22.64" fill="#FFA0A0"/>
<rect x="836.63" y="111.62" width="3.77" height="22.64" fill="#FF4A4A"/>
<rect x="840.1" y="111.62" width="3.77" height="22.64" fill="#5050FF"/>
<rect x="843.57" y="111.62" width="3.77" height="22.64" fill="#FF0000"/>
<rect x="847.04" y="111.62" width="3.77" height="22.64" fill="#FFA0A0"/>
<rect x="850.51" y="111.62" width="3.77" height="22.64" fill="#FF0000"/>
<rect x="853.98" y="111.62" width="3.77" height="22.64" fill="#FF4A4A"/>
<rect x="857.45" y="111.62" width="3.77" height="22.64" fill="#F8F4F6"/>
<rect x="860.92" y="111.62" width="3.77" height="22.64" fill="#A0A0FF"/>
<rect x="864.39" y="111.62" width="3.77" height="22.64" fill="#0000FF"/>
<rect x="867.85" y="111.62" width="3.77" height="22.64" fill="#FFA0A0"/>
<rect x="871.32" y="111.62" width="3.77" height="22.64" fill="#FF0000"/>
<rect x="874.79" y="111.62" width="3.77" height="22.64" fill="#0000FF"/>
<rect x="878.26" y="111.62" width="3.77" height="22.64" fill="#FF4A4A"/>
<rect x="881.73" y="111.62" width="3.77" height="22.64" fill="#FF0000"/>
<rect x="559.1" y="133.95" width="3.77" height="22.64" fill="#FF0000"/>
<rect x="562.57" y="133.95" width="3.77" height="22.64" fill="#5050FF"/>
<rect x="566.04" y="133.95" width="3.77" height="22.64" fill="#0000FF"/>
<rect x="569.51" y="133.95" width="3.77" height="22.64" fill="#F8F4F6"/>
<rect x="572.98" y="133.95" width="3.77" height="22.64" fill="#FF0000"/>
<rect x="576.45" y="133.95" width="3.77" height="22.64" fill="#0000FF"/>
<rect x="579.91" y="133.95" width="7.24" height="22.64" fill="#FF0000"/>
<rect x="586.85" y="133.95" width="3.77" height="22.64" fill="#0000FF"/>
<rect x="590.32" y="133.95" width="3.77" height="22.64" fill="#5050FF"/>
<rect x="593.79" y="133.95" width="3.77" height="22.64" fill="#FF0000"/>
<rect x="597.26" y="133.95" width="3.77" height="22.64" fill="#0000FF"/>
<rect x="600.73" y="133.95" width="7.24" height="22.64" fill="#FFD4D4"/>
<rect x="607.67" y="133.95" width="7.24" height="22.64" fill="#A0A0FF"/>
<rect x="614.61" y="133.95" width="3.77" height="22.64" fill="#F8F4F6"/>
<rect x="618.08" y="133.95" width="7.24" height="22.64" fill="#FF0000"/>
<rect x="625.01" y="133.95" width="3.77" height="22.64" fill="#FF4A4A"/>
<rect x="628.48" y="133.95" width="10.71" height="22.64" fill="#FF0000"/>
<rect x="638.89" y="133.95" width="3.77" height="22.64" fill="#F8F4F6"/>
<rect x="642.36" y="133.95" width="7.24" height="22.64" fill="#FF0000"/>
<rect x="649.3" y="133.95" width="3.77" height="22.64" fill="#0000FF"/>
<rect x="652.77" y="133.95" width="7.24" height="22.64" fill="#FF0000"/>
<rect x="659.71" y="133.95" width="3.77" height="22.64" fill="#F8F4F6"/>
<rect x="663.17" y="133.95" width="17.65" height="22.64" fill="#0000FF"/>
<rect x="680.52" y="133.95" width="3.77" height="22.64" fill="#A0A0FF"/>
<rect x="683.99" y="133.95" width="3.77" height="22.64" fill="#0000FF"/>
<rect x="687.46" y="133.95" width="3.77" height="22.64" fill="#FF0000"/>
<rect x="690.93" y="133.95" width="3.77" height="22.64" fill="#FFA0A0"/>
<rect x="694.4" y="133.95" width="3.77" height="22.64" fill="#FF0000"/>
<rect x="697.87" y="133.95" width="10.71" height="22.64" fill="#0000FF"/>
<rect x="708.27" y="133.95" width="3.77" height="22.64" fill="#D0D0FF"/>
<rect x="711.74" y="133.95" width="3.77" height="22.64" fill="#0000FF"/>
<rect x="715.21" y="133.95" width="3.77" height="22.64" fill="#5050FF"/>
<rect x="718.68" y="133.95" width="3.77" height="22.64" fill="#FFA0A0"/>
<rect x="722.15" y="133.95" width="3.77" height="22.64" fill="#0000FF"/>
<rect x="725.62" y="133.95" width="3.77" height="22.64" fill="#FF0000"/>
<rect x="729.09" y="133.95" width="3.77" height="22.64" fill="#FFD4D4"/>
<rect x="732.56" y="133.95" width="3.77" height="22.64" fill="#F8F4F6"/>
<rect x="736.03" y="133.95" width="3.77" height="22.64" fill="#D0D0FF"/>
<rect x="739.5" y="133.95" width="3.77" height="22.64" fill="#FF0000"/>
<rect x="742.96" y="133.95" width="3.77" height="22.64" fill="#0000FF"/>
<rect x="746.43" y="133.95" width="3.77" height="22.64" fill="#FFD4D4"/>
<rect x="749.9" y="133.95" width="3.77" height="22.64" fill="#0000FF"/>
<rect x="753.37" y="133.95" width="3.77" height="22.64" fill="#D0D0FF"/>
<rect x="756.84" y="133.95" width="3.77" height="22.64" fill="#FFA0A0"/>
<rect x="760.31" y="133.95" width="3.77" height="22.64" fill="#0000FF"/>
<rect x="763.78" y="133.95" width="7.24" height="22.64" fill="#FF0000"/>
<rect x="770.72" y="133.95" width="3.77" height="22.64" fill="#FFD4D4"/>
<rect x="774.19" y="133.95" width="3.77" height="22.64" fill="#FF0000"/>
<rect x="777.66" y="133.95" width="3.77" height="22.64" fill="#0000FF"/>
<rect x="781.13" y="133.95" width="3.77" height="22.64" fill="#5050FF"/>
<rect x="784.59" y="133.95" width="7.24" height="22.64" fill="#FF0000"/>
<rect x="791.53" y="133.95" width="7.24" height="22.64" fill="#A0A0FF"/>
<rect x="798.47" y="133.95" width="3.77" height="22.64" fill="#0000FF"/>
<rect x="801.94" y="133.95" width="3.77" height="22.64" fill="#5050FF"/>
<rect x="805.41" y="133.95" width="3.77" height="22.64" fill="#0000FF"/>
<rect x="808.88" y="133.95" width="3.77" height="22.64" fill="#FF0000"/>
<rect x="812.35" y="133.95" width="3.77" height="22.64" fill="#D0D0FF"/>
<rect x="815.82" y="133.95" width="3.77" height="22.64" fill="#FF4A4A"/>
<rect x="819.29" y="133.95" width="3.77" height="22.64" fill="#FF0000"/>
<rect x="822.76" y="133.95" width="7.24" height="22.64" fill="#0000FF"/>
<rect x="829.69" y="133.95" width="3.77" height="22.64" fill="#FFD4D4"/>
<rect x="833.16" y="133.95" width="3.77" height="22.64" fill="#A0A0FF"/>
<rect x="836.63" y="133.95" width="3.77" height="22.64" fill="#FFA0A0"/>
<rect x="840.1" y="133.95" width="3.77" height="22.64" fill="#0000FF"/>
<rect x="843.57" y="133.95" width="3.77" height="22.64" fill="#F8F4F6"/>
<rect x="847.04" y="133.95" width="3.77" height="22.64" fill="#FFD4D4"/>
<rect x="850.51" y="133.95" width="10.71" height="22.64" fill="#FFA0A0"/>
<rect x="860.92" y="133.95" width="7.24" height="22.64" fill="#0000FF"/>
<rect x="867.85" y="133.95" width="3.77" height="22.64" fill="#F8F4F6"/>
<rect x="871.32" y="133.95" width="3.77" height="22.64" fill="#FF0000"/>
<rect x="874.79" y="133.95" width="3.77" height="22.64" fill="#0000FF"/>
<rect x="878.26" y="133.95" width="3.77" height="22.64" fill="#FF0000"/>
<rect x="881.73" y="133.95" width="3.77" height="22.64" fill="#FFD4D4"/>
<rect x="559.1" y="156.29" width="3.77" height="22.64" fill="#FF4A4A"/>
<rect x="562.57" y="156.29" width="3.77" height="22.64" fill="#FF0000"/>
<rect x="566.04" y="156.29" width="3.77" height="22.64" fill="#0000FF"/>
<rect x="569.51" y="156.29" width="3.77" height="22.64" fill="#FFD4D4"/>
<rect x="572.98" y="156.29" width="3.77" height="22.64" fill="#FFA0A0"/>
<rect x="576.45" y="156.29" width="3.77" height="22.64" fill="#0000FF"/>
<rect x="579.91" y="156.29" width="7.24" height="22.64" fill="#FF0000"/>
<rect x="586.85" y="156.29" width="7.24" height="22.64" fill="#0000FF"/>
<rect x="593.79" y="156.29" width="3.77" height="22.64" fill="#FFD4D4"/>
<rect x="597.26" y="156.29" width="7.24" height="22.64" fill="#0000FF"/>
<rect x="604.2" y="156.29" width="3.77" height="22.64" fill="#FF4A4A"/>
<rect x="607.67" y="156.29" width="3.77" height="22.64" fill="#0000FF"/>
<rect x="611.14" y="156.29" width="3.77" height="22.64" fill="#A0A0FF"/>
<rect x="614.61" y="156.29" width="3.77" height="22.64" fill="#F8F4F6"/>
<rect x="618.08" y="156.29" width="21.11" height="22.64" fill="#FF0000"/>
<rect x="638.89" y="156.29" width="3.77" height="22.64" fill="#FFD4D4"/>
<rect x="642.36" y="156.29" width="3.77" height="22.64" fill="#FFA0A0"/>
<rect x="645.83" y="156.29" width="3.77" height="22.64" fill="#FF0000"/>
<rect x="649.3" y="156.29" width="3.77" height="22.64" fill="#0000FF"/>
<rect x="652.77" y="156.29" width="7.24" height="22.64" fill="#FF0000"/>
<rect x="659.71" y="156.29" width="3.77" height="22.64" fill="#FFD4D4"/>
<rect x="663.17" y="156.29" width="3.77" height="22.64" fill="#A0A0FF"/>
<rect x="666.64" y="156.29" width="3.77" height="22.64" fill="#5050FF"/>
<rect x="670.11" y="156.29" width="17.65" height="22.64" fill="#0000FF"/>
<rect x="687.46" y="156.29" width="10.71" height="22.64" fill="#FF0000"/>
<rect x="697.87" y="156.29" width="10.71" height="22.64" fill="#0000FF"/>
<rect x="708.27" y="156.29" width="3.77" height="22.64" fill="#A0A0FF"/>
<rect x="711.74" y="156.29" width="3.77" height="22.64" fill="#D0D0FF"/>
<rect x="715.21" y="156.29" width="3.77" height="22.64" fill="#0000FF"/>
<rect x="718.68" y="156.29" width="3.77" height="22.64" fill="#FF0000"/>
<rect x="722.15" y="156.29" width="3.77" height="22.64" fill="#5050FF"/>
<rect x="725.62" y="156.29" width="3.77" height="22.64" fill="#FF0000"/>
<rect x="729.09" y="156.29" width="7.24" height="22.64" fill="#FFD4D4"/>
<rect x="736.03" y="156.29" width="3.77" height="22.64" fill="#FFA0A0"/>
<rect x="739.5" y="156.29" width="3.77" height="22.64" fill="#FF4A4A"/>
<rect x="742.96" y="156.29" width="3.77" height="22.64" fill="#0000FF"/>
<rect x="746.43" y="156.29" width="3.77" height="22.64" fill="#FFD4D4"/>
<rect x="749.9" y="156.29" width="3.77" height="22.64" fill="#FF0000"/>
<rect x="753.37" y="156.29" width="3.77" height="22.64" fill="#FFD4D4"/>
<rect x="756.84" y="156.29" width="3.77" height="22.64" fill="#A0A0FF"/>
<rect x="760.31" y="156.29" width="3.77" height="22.64" fill="#0000FF"/>
<rect x="763.78" y="156.29" width="7.24" height="22.64" fill="#FF0000"/>
<rect x="770.72" y="156.29" width="3.77" height="22.64" fill="#A0A0FF"/>
<rect x="774.19" y="156.29" width="3.77" height="22.64" fill="#FF0000"/>
<rect x="777.66" y="156.29" width="3.77" height="22.64" fill="#0000FF"/>
<rect x="781.13" y="156.29" width="3.77" height="22.64" fill="#F8F4F6"/>
<rect x="784.59" y="156.29" width="7.24" height="22.64" fill="#FF0000"/>
<rect x="791.53" y="156.29" width="3.77" height="22.64" fill="#FFD4D4"/>
<rect x="795" y="156.29" width="3.77" height="22.64" fill="#FF0000"/>
<rect x="798.47" y="156.29" width="3.77" height="22.64" fill="#0000FF"/>
<rect x="801.94" y="156.29" width="3.77" height="22.64" fill="#D0D0FF"/>
<rect x="805.41" y="156.29" width="3.77" height="22.64" fill="#0000FF"/>
<rect x="808.88" y="156.29" width="3.77" height="22.64" fill="#FF0000"/>
<rect x="812.35" y="156.29" width="3.77" height="22.64" fill="#0000FF"/>
<rect x="815.82" y="156.29" width="3.77" height="22.64" fill="#FF4A4A"/>
<rect x="819.29" y="156.29" width="3.77" height="22.64" fill="#A0A0FF"/>
<rect x="822.76" y="156.29" width="7.24" height="22.64" fill="#0000FF"/>
<rect x="829.69" y="156.29" width="3.77" height="22.64" fill="#FFA0A0"/>
<rect x="833.16" y="156.29" width="3.77" height="22.64" fill="#5050FF"/>
<rect x="836.63" y="156.29" width="7.24" height="22.64" fill="#FF0000"/>
<rect x="843.57" y="156.29" width="3.77" height="22.64" fill="#5050FF"/>
<rect x="847.04" y="156.29" width="3.77" height="22.64" fill="#A0A0FF"/>
<rect x="850.51" y="156.29" width="3.77" height="22.64" fill="#FF4A4A"/>
<rect x="853.98" y="156.29" width="3.77" height="22.64" fill="#D0D0FF"/>
<rect x="857.45" y="156.29" width="7.24" height="22.64" fill="#A0A0FF"/>
<rect x="864.39" y="156.29" width="3.77" height="22.64" fill="#0000FF"/>
<rect x="867.85" y="156.29" width="7.24" height="22.64" fill="#FF0000"/>
<rect x="874.79" y="156.29" width="3.77" height="22.64" fill="#0000FF"/>
<rect x="878.26" y="156.29" width="3.77" height="22.64" fill="#FF4A4A"/>
<rect x="881.73" y="156.29" width="3.77" height="22.64" fill="#FFA0A0"/>
<rect x="559.1" y="178.63" width="3.77" height="22.64" fill="#F8F4F6"/>
<rect x="562.57" y="178.63" width="3.77" height="22.64" fill="#5050FF"/>
<rect x="566.04" y="178.63" width="3.77" height="22.64" fill="#FF4A4A"/>
<rect x="569.51" y="178.63" width="3.77" height="22.64" fill="#0000FF"/>
<rect x="572.98" y="178.63" width="3.77" height="22.64" fill="#A0A0FF"/>
<rect x="576.45" y="178.63" width="3.77" height="22.64" fill="#FF4A4A"/>
<rect x="579.91" y="178.63" width="7.24" height="22.64" fill="#FF0000"/>
<rect x="586.85" y="178.63" width="7.24" height="22.64" fill="#0000FF"/>
<rect x="593.79" y="178.63" width="3.77" height="22.64" fill="#A0A0FF"/>
<rect x="597.26" y="178.63" width="3.77" height="22.64" fill="#FF4A4A"/>
<rect x="600.73" y="178.63" width="3.77" height="22.64" fill="#0000FF"/>
<rect x="604.2" y="178.63" width="3.77" height="22.64" fill="#F8F4F6"/>
<rect x="607.67" y="178.63" width="3.77" height="22.64" fill="#0000FF"/>
<rect x="611.14" y="178.63" width="7.24" height="22.64" fill="#5050FF"/>
<rect x="618.08" y="178.63" width="3.77" height="22.64" fill="#0000FF"/>
<rect x="621.54" y="178.63" width="3.77" height="22.64" fill="#FF0000"/>
<rect x="625.01" y="178.63" width="3.77" height="22.64" fill="#FFA0A0"/>
<rect x="628.48" y="178.63" width="3.77" height="22.64" fill="#FF0000"/>
<rect x="631.95" y="178.63" width="3.77" height="22.64" fill="#FFD4D4"/>
<rect x="635.42" y="178.63" width="3.77" height="22.64" fill="#FF0000"/>
<rect x="638.89" y="178.63" width="3.77" height="22.64" fill="#5050FF"/>
<rect x="642.36" y="178.63" width="3.77" height="22.64" fill="#FFD4D4"/>
<rect x="645.83" y="178.63" width="3.77" height="22.64" fill="#FF0000"/>
<rect x="649.3" y="178.63" width="3.77" height="22.64" fill="#0000FF"/>
<rect x="652.77" y="178.63" width="3.77" height="22.64" fill="#FF0000"/>
<rect x="656.24" y="178.63" width="3.77" height="22.64" fill="#FF4A4A"/>
<rect x="659.71" y="178.63" width="3.77" height="22.64" fill="#A0A0FF"/>
<rect x="663.17" y="178.63" width="7.24" height="22.64" fill="#0000FF"/>
<rect x="670.11" y="178.63" width="3.77" height="22.64" fill="#A0A0FF"/>
<rect x="673.58" y="178.63" width="7.24" height="22.64" fill="#0000FF"/>
<rect x="680.52" y="178.63" width="3.77" height="22.64" fill="#5050FF"/>
<rect x="683.99" y="178.63" width="7.24" height="22.64" fill="#0000FF"/>
<rect x="690.93" y="178.63" width="7.24" height="22.64" fill="#FF0000"/>
<rect x="697.87" y="178.63" width="3.77" height="22.64" fill="#5050FF"/>
<rect x="701.34" y="178.63" width="7.24" height="22.64" fill="#0000FF"/>
<rect x="708.27" y="178.63" width="3.77" height="22.64" fill="#FF4A4A"/>
<rect x="711.74" y="178.63" width="3.77" height="22.64" fill="#5050FF"/>
<rect x="715.21" y="178.63" width="3.77" height="22.64" fill="#0000FF"/>
<rect x="718.68" y="178.63" width="10.71" height="22.64" fill="#FF0000"/>
<rect x="729.09" y="178.63" width="3.77" height="22.64" fill="#5050FF"/>
<rect x="732.56" y="178.63" width="3.77" height="22.64" fill="#FFA0A0"/>
<rect x="736.03" y="178.63" width="3.77" height="22.64" fill="#FF0000"/>
<rect x="739.5" y="178.63" width="3.77" height="22.64" fill="#F8F4F6"/>
<rect x="742.96" y="178.63" width="3.77" height="22.64" fill="#FF0000"/>
<rect x="746.43" y="178.63" width="3.77" height="22.64" fill="#F8F4F6"/>
<rect x="749.9" y="178.63" width="7.24" height="22.64" fill="#FF0000"/>
<rect x="756.84" y="178.63" width="3.77" height="22.64" fill="#0000FF"/>
<rect x="760.31" y="178.63" width="3.77" height="22.64" fill="#FF4A4A"/>
<rect x="763.78" y="178.63" width="7.24" height="22.64" fill="#FF0000"/>
<rect x="770.72" y="178.63" width="3.77" height="22.64" fill="#0000FF"/>
<rect x="774.19" y="178.63" width="7.24" height="22.64" fill="#FF0000"/>
<rect x="781.13" y="178.63" width="3.77" height="22.64" fill="#D0D0FF"/>
<rect x="784.59" y="178.63" width="3.77" height="22.64" fill="#FF4A4A"/>
<rect x="788.06" y="178.63" width="3.77" height="22.64" fill="#FF0000"/>
<rect x="791.53" y="178.63" width="3.77" height="22.64" fill="#FFD4D4"/>
<rect x="795" y="178.63" width="10.71" height="22.64" fill="#FFA0A0"/>
<rect x="805.41" y="178.63" width="3.77" height="22.64" fill="#5050FF"/>
<rect x="808.88" y="178.63" width="3.77" height="22.64" fill="#F8F4F6"/>
<rect x="812.35" y="178.63" width="3.77" height="22.64" fill="#0000FF"/>
<rect x="815.82" y="178.63" width="3.77" height="22.64" fill="#5050FF"/>
<rect x="819.29" y="178.63" width="3.77" height="22.64" fill="#0000FF"/>
<rect x="822.76" y="178.63" width="3.77" height="22.64" fill="#FFA0A0"/>
<rect x="826.22" y="178.63" width="3.77" height="22.64" fill="#0000FF"/>
<rect x="829.69" y="178.63" width="7.24" height="22.64" fill="#FFD4D4"/>
<rect x="836.63" y="178.63" width="3.77" height="22.64" fill="#FFA0A0"/>
<rect x="840.1" y="178.63" width="3.77" height="22.64" fill="#FF0000"/>
<rect x="843.57" y="178.63" width="3.77" height="22.64" fill="#FFD4D4"/>
<rect x="847.04" y="178.63" width="3.77" height="22.64" fill="#FF4A4A"/>
<rect x="850.51" y="178.63" width="3.77" height="22.64" fill="#FF0000"/>
<rect x="853.98" y="178.63" width="3.77" height="22.64" fill="#0000FF"/>
<rect x="857.45" y="178.63" width="3.77" height="22.64" fill="#FF0000"/>
<rect x="860.92" y="178.63" width="3.77" height="22.64" fill="#FFD4D4"/>
<rect x="864.39" y="178.63" width="3.77" height="22.64" fill="#0000FF"/>
<rect x="867.85" y="178.63" width="3.77" height="22.64" fill="#F8F4F6"/>
<rect x="871.32" y="178.63" width="3.77" height="22.64" fill="#FF4A4A"/>
<rect x="874.79" y="178.63" width="3.77" height="22.64" fill="#5050FF"/>
<rect x="878.26" y="178.63" width="3.77" height="22.64" fill="#FF0000"/>
<rect x="881.73" y="178.63" width="3.77" height="22.64" fill="#0000FF"/>
<rect x="559.1" y="200.97" width="3.77" height="22.64" fill="#FF0000"/>
<rect x="562.57" y="200.97" width="3.77" height="22.64" fill="#FFA0A0"/>
<rect x="566.04" y="200.97" width="3.77" height="22.64" fill="#0000FF"/>
<rect x="569.51" y="200.97" width="3.77" height="22.64" fill="#D0D0FF"/>
<rect x="572.98" y="200.97" width="3.77" height="22.64" fill="#FF0000"/>
<rect x="576.45" y="200.97" width="3.77" height="22.64" fill="#5050FF"/>
<rect x="579.91" y="200.97" width="3.77" height="22.64" fill="#FFA0A0"/>
<rect x="583.38" y="200.97" width="3.77" height="22.64" fill="#FF0000"/>
<rect x="586.85" y="200.97" width="10.71" height="22.64" fill="#0000FF"/>
<rect x="597.26" y="200.97" width="3.77" height="22.64" fill="#FFD4D4"/>
<rect x="600.73" y="200.97" width="3.77" height="22.64" fill="#0000FF"/>
<rect x="604.2" y="200.97" width="3.77" height="22.64" fill="#FF0000"/>
<rect x="607.67" y="200.97" width="3.77" height="22.64" fill="#FFD4D4"/>
<rect x="611.14" y="200.97" width="3.77" height="22.64" fill="#0000FF"/>
<rect x="614.61" y="200.97" width="3.77" height="22.64" fill="#A0A0FF"/>
<rect x="618.08" y="200.97" width="3.77" height="22.64" fill="#FF4A4A"/>
<rect x="621.54" y="200.97" width="10.71" height="22.64" fill="#FF0000"/>
<rect x="631.95" y="200.97" width="3.77" height="22.64" fill="#FFA0A0"/>
<rect x="635.42" y="200.97" width="3.77" height="22.64" fill="#FF0000"/>
<rect x="638.89" y="200.97" width="3.77" height="22.64" fill="#0000FF"/>
<rect x="642.36" y="200.97" width="3.77" height="22.64" fill="#FFD4D4"/>
<rect x="645.83" y="200.97" width="3.77" height="22.64" fill="#FF0000"/>
<rect x="649.3" y="200.97" width="3.77" height="22.64" fill="#FF4A4A"/>
<rect x="652.77" y="200.97" width="3.77" height="22.64" fill="#FF0000"/>
<rect x="656.24" y="200.97" width="3.77" height="22.64" fill="#FFA0A0"/>
<rect x="659.71" y="200.97" width="3.77" height="22.64" fill="#FFD4D4"/>
<rect x="663.17" y="200.97" width="17.65" height="22.64" fill="#0000FF"/>
<rect x="680.52" y="200.97" width="3.77" height="22.64" fill="#F8F4F6"/>
<rect x="683.99" y="200.97" width="3.77" height="22.64" fill="#0000FF"/>
<rect x="687.46" y="200.97" width="3.77" height="22.64" fill="#D0D0FF"/>
<rect x="690.93" y="200.97" width="7.24" height="22.64" fill="#FFA0A0"/>
<rect x="697.87" y="200.97" width="3.77" height="22.64" fill="#0000FF"/>
<rect x="701.34" y="200.97" width="7.24" height="22.64" fill="#5050FF"/>
<rect x="708.27" y="200.97" width="3.77" height="22.64" fill="#FF4A4A"/>
<rect x="711.74" y="200.97" width="3.77" height="22.64" fill="#A0A0FF"/>
<rect x="715.21" y="200.97" width="3.77" height="22.64" fill="#0000FF"/>
<rect x="718.68" y="200.97" width="3.77" height="22.64" fill="#FFA0A0"/>
<rect x="722.15" y="200.97" width="3.77" height="22.64" fill="#0000FF"/>
<rect x="725.62" y="200.97" width="3.77" height="22.64" fill="#FF0000"/>
<rect x="729.09" y="200.97" width="3.77" height="22.64" fill="#5050FF"/>
<rect x="732.56" y="200.97" width="3.77" height="22.64" fill="#F8F4F6"/>
<rect x="736.03" y="200.97" width="3.77" height="22.64" fill="#FFA0A0"/>
<rect x="739.5" y="200.97" width="3.77" height="22.64" fill="#FF0000"/>
<rect x="742.96" y="200.97" width="3.77" height="22.64" fill="#A0A0FF"/>
<rect x="746.43" y="200.97" width="3.77" height="22.64" fill="#FF4A4A"/>
<rect x="749.9" y="200.97" width="3.77" height="22.64" fill="#FF0000"/>
<rect x="753.37" y="200.97" width="3.77" height="22.64" fill="#FFA0A0"/>
<rect x="756.84" y="200.97" width="3.77" height="22.64" fill="#FFD4D4"/>
<rect x="760.31" y="200.97" width="3.77" height="22.64" fill="#0000FF"/>
<rect x="763.78" y="200.97" width="7.24" height="22.64" fill="#FF0000"/>
<rect x="770.72" y="200.97" width="3.77" height="22.64" fill="#F8F4F6"/>
<rect x="774.19" y="200.97" width="10.71" height="22.64" fill="#FF0000"/>
<rect x="784.59" y="200.97" width="7.24" height="22.64" fill="#FFA0A0"/>
<rect x="791.53" y="200.97" width="3.77" height="22.64" fill="#FF0000"/>
<rect x="795" y="200.97" width="3.77" height="22.64" fill="#F8F4F6"/>
<rect x="798.47" y="200.97" width="3.77" height="22.64" fill="#0000FF"/>
<rect x="801.94" y="200.97" width="3.77" height="22.64" fill="#FFA0A0"/>
<rect x="805.41" y="200.97" width="3.77" height="22.64" fill="#5050FF"/>
<rect x="808.88" y="200.97" width="3.77" height="22.64" fill="#FF0000"/>
<rect x="812.35" y="200.97" width="3.77" height="22.64" fill="#5050FF"/>
<rect x="815.82" y="200.97" width="3.77" height="22.64" fill="#FF0000"/>
<rect x="819.29" y="200.97" width="3.77" height="22.64" fill="#D0D0FF"/>
<rect x="822.76" y="200.97" width="3.77" height="22.64" fill="#F8F4F6"/>
<rect x="826.22" y="200.97" width="3.77" height="22.64" fill="#5050FF"/>
<rect x="829.69" y="200.97" width="3.77" height="22.64" fill="#FFA0A0"/>
<rect x="833.16" y="200.97" width="3.77" height="22.64" fill="#FF4A4A"/>
<rect x="836.63" y="200.97" width="3.77" height="22.64" fill="#0000FF"/>
<rect x="840.1" y="200.97" width="3.77" height="22.64" fill="#FF0000"/>
<rect x="843.57" y="200.97" width="7.24" height="22.64" fill="#FF4A4A"/>
<rect x="850.51" y="200.97" width="3.77" height="22.64" fill="#A0A0FF"/>
<rect x="853.98" y="200.97" width="3.77" height="22.64" fill="#FFD4D4"/>
<rect x="857.45" y="200.97" width="3.77" height="22.64" fill="#0000FF"/>
<rect x="860.92" y="200.97" width="3.77" height="22.64" fill="#5050FF"/>
<rect x="864.39" y="200.97" width="3.77" height="22.64" fill="#0000FF"/>
<rect x="867.85" y="200.97" width="3.77" height="22.64" fill="#FFD4D4"/>
<rect x="871.32" y="200.97" width="3.77" height="22.64" fill="#FF0000"/>
<rect x="874.79" y="200.97" width="3.77" height="22.64" fill="#0000FF"/>
<rect x="878.26" y="200.97" width="7.24" height="22.64" fill="#FF0000"/>
<rect x="559.1" y="223.31" width="3.77" height="22.64" fill="#FF0000"/>
<rect x="562.57" y="223.31" width="3.77" height="22.64" fill="#F8F4F6"/>
<rect x="566.04" y="223.31" width="3.77" height="22.64" fill="#0000FF"/>
<rect x="569.51" y="223.31" width="3.77" height="22.64" fill="#F8F4F6"/>
<rect x="572.98" y="223.31" width="7.24" height="22.64" fill="#5050FF"/>
<rect x="579.91" y="223.31" width="7.24" height="22.64" fill="#FF0000"/>
<rect x="586.85" y="223.31" width="7.24" height="22.64" fill="#0000FF"/>
<rect x="593.79" y="223.31" width="3.77" height="22.64" fill="#A0A0FF"/>
<rect x="597.26" y="223.31" width="3.77" height="22.64" fill="#F8F4F6"/>
<rect x="600.73" y="223.31" width="3.77" height="22.64" fill="#0000FF"/>
<rect x="604.2" y="223.31" width="3.77" height="22.64" fill="#FF0000"/>
<rect x="607.67" y="223.31" width="3.77" height="22.64" fill="#5050FF"/>
<rect x="611.14" y="223.31" width="3.77" height="22.64" fill="#0000FF"/>
<rect x="614.61" y="223.31" width="3.77" height="22.64" fill="#A0A0FF"/>
<rect x="618.08" y="223.31" width="3.77" height="22.64" fill="#FFA0A0"/>
<rect x="621.54" y="223.31" width="3.77" height="22.64" fill="#FF0000"/>
<rect x="625.01" y="223.31" width="3.77" height="22.64" fill="#FFA0A0"/>
<rect x="628.48" y="223.31" width="10.71" height="22.64" fill="#FF0000"/>
<rect x="638.89" y="223.31" width="3.77" height="22.64" fill="#5050FF"/>
<rect x="642.36" y="223.31" width="7.24" height="22.64" fill="#FF0000"/>
<rect x="649.3" y="223.31" width="3.77" height="22.64" fill="#5050FF"/>
<rect x="652.77" y="223.31" width="7.24" height="22.64" fill="#FF0000"/>
<rect x="659.71" y="223.31" width="3.77" height="22.64" fill="#FF4A4A"/>
<rect x="663.17" y="223.31" width="7.24" height="22.64" fill="#5050FF"/>
<rect x="670.11" y="223.31" width="17.65" height="22.64" fill="#0000FF"/>
<rect x="687.46" y="223.31" width="3.77" height="22.64" fill="#FF0000"/>
<rect x="690.93" y="223.31" width="7.24" height="22.64" fill="#FF4A4A"/>
<rect x="697.87" y="223.31" width="10.71" height="22.64" fill="#0000FF"/>
<rect x="708.27" y="223.31" width="3.77" height="22.64" fill="#A0A0FF"/>
<rect x="711.74" y="223.31" width="3.77" height="22.64" fill="#0000FF"/>
<rect x="715.21" y="223.31" width="3.77" height="22.64" fill="#A0A0FF"/>
<rect x="718.68" y="223.31" width="3.77" height="22.64" fill="#FF4A4A"/>
<rect x="722.15" y="223.31" width="3.77" height="22.64" fill="#D0D0FF"/>
<rect x="725.62" y="223.31" width="3.77" height="22.64" fill="#FF0000"/>
<rect x="729.09" y="223.31" width="3.77" height="22.64" fill="#FFD4D4"/>
<rect x="732.56" y="223.31" width="3.77" height="22.64" fill="#F8F4F6"/>
<rect x="736.03" y="223.31" width="3.77" height="22.64" fill="#FFD4D4"/>
<rect x="739.5" y="223.31" width="3.77" height="22.64" fill="#FFA0A0"/>
<rect x="742.96" y="223.31" width="3.77" height="22.64" fill="#0000FF"/>
<rect x="746.43" y="223.31" width="3.77" height="22.64" fill="#FFA0A0"/>
<rect x="749.9" y="223.31" width="3.77" height="22.64" fill="#FF0000"/>
<rect x="753.37" y="223.31" width="3.77" height="22.64" fill="#FF4A4A"/>
<rect x="756.84" y="223.31" width="3.77" height="22.64" fill="#D0D0FF"/>
<rect x="760.31" y="223.31" width="3.77" height="22.64" fill="#A0A0FF"/>
<rect x="763.78" y="223.31" width="7.24" height="22.64" fill="#FF0000"/>
<rect x="770.72" y="223.31" width="3.77" height="22.64" fill="#0000FF"/>
<rect x="774.19" y="223.31" width="3.77" height="22.64" fill="#FF0000"/>
<rect x="777.66" y="223.31" width="3.77" height="22.64" fill="#0000FF"/>
<rect x="781.13" y="223.31" width="3.77" height="22.64" fill="#FFA0A0"/>
<rect x="784.59" y="223.31" width="3.77" height="22.64" fill="#FF4A4A"/>
<rect x="788.06" y="223.31" width="3.77" height="22.64" fill="#FF0000"/>
<rect x="791.53" y="223.31" width="3.77" height="22.64" fill="#F8F4F6"/>
<rect x="795" y="223.31" width="3.77" height="22.64" fill="#FF0000"/>
<rect x="798.47" y="223.31" width="3.77" height="22.64" fill="#0000FF"/>
<rect x="801.94" y="223.31" width="3.77" height="22.64" fill="#D0D0FF"/>
<rect x="805.41" y="223.31" width="3.77" height="22.64" fill="#0000FF"/>
<rect x="808.88" y="223.31" width="3.77" height="22.64" fill="#FF0000"/>
<rect x="812.35" y="223.31" width="3.77" height="22.64" fill="#0000FF"/>
<rect x="815.82" y="223.31" width="3.77" height="22.64" fill="#FFD4D4"/>
<rect x="819.29" y="223.31" width="7.24" height="22.64" fill="#A0A0FF"/>
<rect x="826.22" y="223.31" width="3.77" height="22.64" fill="#0000FF"/>
<rect x="829.69" y="223.31" width="3.77" height="22.64" fill="#D0D0FF"/>
<rect x="833.16" y="223.31" width="3.77" height="22.64" fill="#F8F4F6"/>
<rect x="836.63" y="223.31" width="3.77" height="22.64" fill="#FF4A4A"/>
<rect x="840.1" y="223.31" width="3.77" height="22.64" fill="#FF0000"/>
<rect x="843.57" y="223.31" width="3.77" height="22.64" fill="#F8F4F6"/>
<rect x="847.04" y="223.31" width="3.77" height="22.64" fill="#FFD4D4"/>
<rect x="850.51" y="223.31" width="3.77" height="22.64" fill="#FF0000"/>
<rect x="853.98" y="223.31" width="3.77" height="22.64" fill="#D0D0FF"/>
<rect x="857.45" y="223.31" width="3.77" height="22.64" fill="#0000FF"/>
<rect x="860.92" y="223.31" width="3.77" height="22.64" fill="#D0D0FF"/>
<rect x="864.39" y="223.31" width="3.77" height="22.64" fill="#0000FF"/>
<rect x="867.85" y="223.31" width="3.77" height="22.64" fill="#FFA0A0"/>
<rect x="871.32" y="223.31" width="3.77" height="22.64" fill="#FF0000"/>
<rect x="874.79" y="223.31" width="3.77" height="22.64" fill="#0000FF"/>
<rect x="878.26" y="223.31" width="3.77" height="22.64" fill="#FF0000"/>
<rect x="881.73" y="223.31" width="3.77" height="22.64" fill="#5050FF"/>
<rect x="559.1" y="245.65" width="3.77" height="22.64" fill="#FF0000"/>
<rect x="562.57" y="245.65" width="3.77" height="22.64" fill="#FF4A4A"/>
<rect x="566.04" y="245.65" width="3.77" height="22.64" fill="#0000FF"/>
<rect x="569.51" y="245.65" width="3.77" height="22.64" fill="#A0A0FF"/>
<rect x="572.98" y="245.65" width="3.77" height="22.64" fill="#5050FF"/>
<rect x="576.45" y="245.65" width="3.77" height="22.64" fill="#D0D0FF"/>
<rect x="579.91" y="245.65" width="3.77" height="22.64" fill="#FF4A4A"/>
<rect x="583.38" y="245.65" width="3.77" height="22.64" fill="#FF0000"/>
<rect x="586.85" y="245.65" width="7.24" height="22.64" fill="#0000FF"/>
<rect x="593.79" y="245.65" width="3.77" height="22.64" fill="#D0D0FF"/>
<rect x="597.26" y="245.65" width="3.77" height="22.64" fill="#A0A0FF"/>
<rect x="600.73" y="245.65" width="3.77" height="22.64" fill="#0000FF"/>
<rect x="604.2" y="245.65" width="3.77" height="22.64" fill="#FF0000"/>
<rect x="607.67" y="245.65" width="7.24" height="22.64" fill="#0000FF"/>
<rect x="614.61" y="245.65" width="3.77" height="22.64" fill="#A0A0FF"/>
<rect x="618.08" y="245.65" width="3.77" height="22.64" fill="#FF4A4A"/>
<rect x="621.54" y="245.65" width="3.77" height="22.64" fill="#FF0000"/>
<rect x="625.01" y="245.65" width="3.77" height="22.64" fill="#F8F4F6"/>
<rect x="628.48" y="245.65" width="3.77" height="22.64" fill="#FF0000"/>
<rect x="631.95" y="245.65" width="3.77" height="22.64" fill="#FF4A4A"/>
<rect x="635.42" y="245.65" width="3.77" height="22.64" fill="#FF0000"/>
<rect x="638.89" y="245.65" width="3.77" height="22.64" fill="#0000FF"/>
<rect x="642.36" y="245.65" width="3.77" height="22.64" fill="#FFA0A0"/>
<rect x="645.83" y="245.65" width="3.77" height="22.64" fill="#FF0000"/>
<rect x="649.3" y="245.65" width="3.77" height="22.64" fill="#0000FF"/>
<rect x="652.77" y="245.65" width="7.24" height="22.64" fill="#FF0000"/>
<rect x="659.71" y="245.65" width="3.77" height="22.64" fill="#F8F4F6"/>
<rect x="663.17" y="245.65" width="7.24" height="22.64" fill="#0000FF"/>
<rect x="670.11" y="245.65" width="3.77" height="22.64" fill="#5050FF"/>
<rect x="673.58" y="245.65" width="7.24" height="22.64" fill="#0000FF"/>
<rect x="680.52" y="245.65" width="3.77" height="22.64" fill="#D0D0FF"/>
<rect x="683.99" y="245.65" width="3.77" height="22.64" fill="#0000FF"/>
<rect x="687.46" y="245.65" width="7.24" height="22.64" fill="#FFA0A0"/>
<rect x="694.4" y="245.65" width="3.77" height="22.64" fill="#FF0000"/>
<rect x="697.87" y="245.65" width="7.24" height="22.64" fill="#0000FF"/>
<rect x="704.8" y="245.65" width="7.24" height="22.64" fill="#D0D0FF"/>
<rect x="711.74" y="245.65" width="3.77" height="22.64" fill="#5050FF"/>
<rect x="715.21" y="245.65" width="3.77" height="22.64" fill="#0000FF"/>
<rect x="718.68" y="245.65" width="3.77" height="22.64" fill="#FFA0A0"/>
<rect x="722.15" y="245.65" width="3.77" height="22.64" fill="#5050FF"/>
<rect x="725.62" y="245.65" width="3.77" height="22.64" fill="#FF0000"/>
<rect x="729.09" y="245.65" width="7.24" height="22.64" fill="#FF4A4A"/>
<rect x="736.03" y="245.65" width="3.77" height="22.64" fill="#0000FF"/>
<rect x="739.5" y="245.65" width="3.77" height="22.64" fill="#FFA0A0"/>
<rect x="742.96" y="245.65" width="3.77" height="22.64" fill="#0000FF"/>
<rect x="746.43" y="245.65" width="3.77" height="22.64" fill="#F8F4F6"/>
<rect x="749.9" y="245.65" width="3.77" height="22.64" fill="#FF0000"/>
<rect x="753.37" y="245.65" width="3.77" height="22.64" fill="#FFD4D4"/>
<rect x="756.84" y="245.65" width="3.77" height="22.64" fill="#F8F4F6"/>
<rect x="760.31" y="245.65" width="3.77" height="22.64" fill="#0000FF"/>
<rect x="763.78" y="245.65" width="7.24" height="22.64" fill="#FF0000"/>
<rect x="770.72" y="245.65" width="3.77" height="22.64" fill="#A0A0FF"/>
<rect x="774.19" y="245.65" width="3.77" height="22.64" fill="#FF0000"/>
<rect x="777.66" y="245.65" width="3.77" height="22.64" fill="#0000FF"/>
<rect x="781.13" y="245.65" width="3.77" height="22.64" fill="#FF4A4A"/>
<rect x="784.59" y="245.65" width="7.24" height="22.64" fill="#FF0000"/>
<rect x="791.53" y="245.65" width="3.77" height="22.64" fill="#F8F4F6"/>
<rect x="795" y="245.65" width="3.77" height="22.64" fill="#FF0000"/>
<rect x="798.47" y="245.65" width="3.77" height="22.64" fill="#0000FF"/>
<rect x="801.94" y="245.65" width="3.77" height="22.64" fill="#5050FF"/>
<rect x="805.41" y="245.65" width="3.77" height="22.64" fill="#0000FF"/>
<rect x="808.88" y="245.65" width="3.77" height="22.64" fill="#FF0000"/>
<rect x="812.35" y="245.65" width="3.77" height="22.64" fill="#0000FF"/>
<rect x="815.82" y="245.65" width="3.77" height="22.64" fill="#FFD4D4"/>
<rect x="819.29" y="245.65" width="3.77" height="22.64" fill="#D0D0FF"/>
<rect x="822.76" y="245.65" width="7.24" height="22.64" fill="#0000FF"/>
<rect x="829.69" y="245.65" width="3.77" height="22.64" fill="#FFD4D4"/>
<rect x="833.16" y="245.65" width="3.77" height="22.64" fill="#FF4A4A"/>
<rect x="836.63" y="245.65" width="7.24" height="22.64" fill="#FF0000"/>
<rect x="843.57" y="245.65" width="3.77" height="22.64" fill="#D0D0FF"/>
<rect x="847.04" y="245.65" width="3.77" height="22.64" fill="#FFA0A0"/>
<rect x="850.51" y="245.65" width="3.77" height="22.64" fill="#FF0000"/>
<rect x="853.98" y="245.65" width="3.77" height="22.64" fill="#F8F4F6"/>
<rect x="857.45" y="245.65" width="3.77" height="22.64" fill="#5050FF"/>
<rect x="860.92" y="245.65" width="3.77" height="22.64" fill="#D0D0FF"/>
<rect x="864.39" y="245.65" width="3.77" height="22.64" fill="#0000FF"/>
<rect x="867.85" y="245.65" width="3.77" height="22.64" fill="#FFD4D4"/>
<rect x="871.32" y="245.65" width="3.77" height="22.64" fill="#FF0000"/>
<rect x="874.79" y="245.65" width="3.77" height="22.64" fill="#A0A0FF"/>
<rect x="878.26" y="245.65" width="3.77" height="22.64" fill="#FF4A4A"/>
<rect x="881.73" y="245.65" width="3.77" height="22.64" fill="#0000FF"/>
<rect x="559.1" y="267.98" width="7.24" height="22.64" fill="#FF0000"/>
<rect x="566.04" y="267.98" width="3.77" height="22.64" fill="#0000FF"/>
<rect x="569.51" y="267.98" width="3.77" height="22.64" fill="#F8F4F6"/>
<rect x="572.98" y="267.98" width="3.77" height="22.64" fill="#D0D0FF"/>
<rect x="576.45" y="267.98" width="3.77" height="22.64" fill="#0000FF"/>
<rect x="579.91" y="267.98" width="7.24" height="22.64" fill="#FF0000"/>
<rect x="586.85" y="267.98" width="7.24" height="22.64" fill="#0000FF"/>
<rect x="593.79" y="267.98" width="7.24" height="22.64" fill="#5050FF"/>
<rect x="600.73" y="267.98" width="3.77" height="22.64" fill="#0000FF"/>
<rect x="604.2" y="267.98" width="3.77" height="22.64" fill="#FF0000"/>
<rect x="607.67" y="267.98" width="7.24" height="22.64" fill="#0000FF"/>
<rect x="614.61" y="267.98" width="7.24" height="22.64" fill="#F8F4F6"/>
<rect x="621.54" y="267.98" width="3.77" height="22.64" fill="#FF0000"/>
<rect x="625.01" y="267.98" width="3.77" height="22.64" fill="#FFD4D4"/>
<rect x="628.48" y="267.98" width="3.77" height="22.64" fill="#FF0000"/>
<rect x="631.95" y="267.98" width="3.77" height="22.64" fill="#FF4A4A"/>
<rect x="635.42" y="267.98" width="3.77" height="22.64" fill="#FF0000"/>
<rect x="638.89" y="267.98" width="3.77" height="22.64" fill="#5050FF"/>
<rect x="642.36" y="267.98" width="7.24" height="22.64" fill="#FF0000"/>
<rect x="649.3" y="267.98" width="3.77" height="22.64" fill="#0000FF"/>
<rect x="652.77" y="267.98" width="7.24" height="22.64" fill="#FF0000"/>
<rect x="659.71" y="267.98" width="3.77" height="22.64" fill="#FF4A4A"/>
<rect x="663.17" y="267.98" width="17.65" height="22.64" fill="#0000FF"/>
<rect x="680.52" y="267.98" width="7.24" height="22.64" fill="#5050FF"/>
<rect x="687.46" y="267.98" width="7.24" height="22.64" fill="#FFA0A0"/>
<rect x="694.4" y="267.98" width="3.77" height="22.64" fill="#FF0000"/>
<rect x="697.87" y="267.98" width="7.24" height="22.64" fill="#0000FF"/>
<rect x="704.8" y="267.98" width="3.77" height="22.64" fill="#5050FF"/>
<rect x="708.27" y="267.98" width="3.77" height="22.64" fill="#FFD4D4"/>
<rect x="711.74" y="267.98" width="3.77" height="22.64" fill="#5050FF"/>
<rect x="715.21" y="267.98" width="3.77" height="22.64" fill="#0000FF"/>
<rect x="718.68" y="267.98" width="3.77" height="22.64" fill="#F8F4F6"/>
<rect x="722.15" y="267.98" width="3.77" height="22.64" fill="#5050FF"/>
<rect x="725.62" y="267.98" width="3.77" height="22.64" fill="#FF0000"/>
<rect x="729.09" y="267.98" width="3.77" height="22.64" fill="#FF4A4A"/>
<rect x="732.56" y="267.98" width="3.77" height="22.64" fill="#D0D0FF"/>
<rect x="736.03" y="267.98" width="3.77" height="22.64" fill="#0000FF"/>
<rect x="739.5" y="267.98" width="3.77" height="22.64" fill="#FF4A4A"/>
<rect x="742.96" y="267.98" width="3.77" height="22.64" fill="#0000FF"/>
<rect x="746.43" y="267.98" width="3.77" height="22.64" fill="#D0D0FF"/>
<rect x="749.9" y="267.98" width="3.77" height="22.64" fill="#FF0000"/>
<rect x="753.37" y="267.98" width="3.77" height="22.64" fill="#D0D0FF"/>
<rect x="756.84" y="267.98" width="3.77" height="22.64" fill="#FF4A4A"/>
<rect x="760.31" y="267.98" width="3.77" height="22.64" fill="#5050FF"/>
<rect x="763.78" y="267.98" width="7.24" height="22.64" fill="#FF0000"/>
<rect x="770.72" y="267.98" width="3.77" height="22.64" fill="#A0A0FF"/>
<rect x="774.19" y="267.98" width="3.77" height="22.64" fill="#FF0000"/>
<rect x="777.66" y="267.98" width="3.77" height="22.64" fill="#0000FF"/>
<rect x="781.13" y="267.98" width="3.77" height="22.64" fill="#FF4A4A"/>
<rect x="784.59" y="267.98" width="10.71" height="22.64" fill="#FF0000"/>
<rect x="795" y="267.98" width="3.77" height="22.64" fill="#FF4A4A"/>
<rect x="798.47" y="267.98" width="3.77" height="22.64" fill="#0000FF"/>
<rect x="801.94" y="267.98" width="3.77" height="22.64" fill="#5050FF"/>
<rect x="805.41" y="267.98" width="3.77" height="22.64" fill="#0000FF"/>
<rect x="808.88" y="267.98" width="3.77" height="22.64" fill="#FFD4D4"/>
<rect x="812.35" y="267.98" width="3.77" height="22.64" fill="#0000FF"/>
<rect x="815.82" y="267.98" width="10.71" height="22.64" fill="#5050FF"/>
<rect x="826.22" y="267.98" width="3.77" height="22.64" fill="#0000FF"/>
<rect x="829.69" y="267.98" width="3.77" height="22.64" fill="#D0D0FF"/>
<rect x="833.16" y="267.98" width="3.77" height="22.64" fill="#FFA0A0"/>
<rect x="836.63" y="267.98" width="3.77" height="22.64" fill="#FF4A4A"/>
<rect x="840.1" y="267.98" width="3.77" height="22.64" fill="#FF0000"/>
<rect x="843.57" y="267.98" width="3.77" height="22.64" fill="#A0A0FF"/>
<rect x="847.04" y="267.98" width="3.77" height="22.64" fill="#FFA0A0"/>
<rect x="850.51" y="267.98" width="3.77" height="22.64" fill="#FF0000"/>
<rect x="853.98" y="267.98" width="3.77" height="22.64" fill="#D0D0FF"/>
<rect x="857.45" y="267.98" width="3.77" height="22.64" fill="#0000FF"/>
<rect x="860.92" y="267.98" width="3.77" height="22.64" fill="#FFD4D4"/>
<rect x="864.39" y="267.98" width="3.77" height="22.64" fill="#A0A0FF"/>
<rect x="867.85" y="267.98" width="3.77" height="22.64" fill="#FFD4D4"/>
<rect x="871.32" y="267.98" width="3.77" height="22.64" fill="#FF0000"/>
<rect x="874.79" y="267.98" width="3.77" height="22.64" fill="#0000FF"/>
<rect x="878.26" y="267.98" width="3.77" height="22.64" fill="#FFA0A0"/>
<rect x="881.73" y="267.98" width="3.77" height="22.64" fill="#5050FF"/>
<rect x="559.1" y="290.32" width="7.24" height="22.64" fill="#FF0000"/>
<rect x="566.04" y="290.32" width="3.77" height="22.64" fill="#0000FF"/>
<rect x="569.51" y="290.32" width="3.77" height="22.64" fill="#5050FF"/>
<rect x="572.98" y="290.32" width="3.77" height="22.64" fill="#0000FF"/>
<rect x="576.45" y="290.32" width="3.77" height="22.64" fill="#FF0000"/>
<rect x="579.91" y="290.32" width="3.77" height="22.64" fill="#FFD4D4"/>
<rect x="583.38" y="290.32" width="3.77" height="22.64" fill="#FF0000"/>
<rect x="586.85" y="290.32" width="3.77" height="22.64" fill="#F8F4F6"/>
<rect x="590.32" y="290.32" width="3.77" height="22.64" fill="#0000FF"/>
<rect x="593.79" y="290.32" width="3.77" height="22.64" fill="#F8F4F6"/>
<rect x="597.26" y="290.32" width="3.77" height="22.64" fill="#A0A0FF"/>
<rect x="600.73" y="290.32" width="3.77" height="22.64" fill="#0000FF"/>
<rect x="604.2" y="290.32" width="7.24" height="22.64" fill="#FF4A4A"/>
<rect x="611.14" y="290.32" width="3.77" height="22.64" fill="#0000FF"/>
<rect x="614.61" y="290.32" width="3.77" height="22.64" fill="#A0A0FF"/>
<rect x="618.08" y="290.32" width="3.77" height="22.64" fill="#F8F4F6"/>
<rect x="621.54" y="290.32" width="3.77" height="22.64" fill="#FF0000"/>
<rect x="625.01" y="290.32" width="3.77" height="22.64" fill="#0000FF"/>
<rect x="628.48" y="290.32" width="3.77" height="22.64" fill="#FF0000"/>
<rect x="631.95" y="290.32" width="3.77" height="22.64" fill="#FFD4D4"/>
<rect x="635.42" y="290.32" width="3.77" height="22.64" fill="#FF0000"/>
<rect x="638.89" y="290.32" width="3.77" height="22.64" fill="#0000FF"/>
<rect x="642.36" y="290.32" width="3.77" height="22.64" fill="#FF4A4A"/>
<rect x="645.83" y="290.32" width="3.77" height="22.64" fill="#FF0000"/>
<rect x="649.3" y="290.32" width="3.77" height="22.64" fill="#FFD4D4"/>
<rect x="652.77" y="290.32" width="7.24" height="22.64" fill="#FF0000"/>
<rect x="659.71" y="290.32" width="3.77" height="22.64" fill="#5050FF"/>
<rect x="663.17" y="290.32" width="7.24" height="22.64" fill="#0000FF"/>
<rect x="670.11" y="290.32" width="3.77" height="22.64" fill="#F8F4F6"/>
<rect x="673.58" y="290.32" width="7.24" height="22.64" fill="#0000FF"/>
<rect x="680.52" y="290.32" width="3.77" height="22.64" fill="#FFD4D4"/>
<rect x="683.99" y="290.32" width="3.77" height="22.64" fill="#D0D0FF"/>
<rect x="687.46" y="290.32" width="3.77" height="22.64" fill="#FF4A4A"/>
<rect x="690.93" y="290.32" width="3.77" height="22.64" fill="#D0D0FF"/>
<rect x="694.4" y="290.32" width="3.77" height="22.64" fill="#FF0000"/>
<rect x="697.87" y="290.32" width="3.77" height="22.64" fill="#0000FF"/>
<rect x="701.34" y="290.32" width="3.77" height="22.64" fill="#A0A0FF"/>
<rect x="704.8" y="290.32" width="3.77" height="22.64" fill="#D0D0FF"/>
<rect x="708.27" y="290.32" width="3.77" height="22.64" fill="#FFD4D4"/>
<rect x="711.74" y="290.32" width="3.77" height="22.64" fill="#A0A0FF"/>
<rect x="715.21" y="290.32" width="3.77" height="22.64" fill="#0000FF"/>
<rect x="718.68" y="290.32" width="3.77" height="22.64" fill="#FFD4D4"/>
<rect x="722.15" y="290.32" width="3.77" height="22.64" fill="#D0D0FF"/>
<rect x="725.62" y="290.32" width="3.77" height="22.64" fill="#FF0000"/>
<rect x="729.09" y="290.32" width="3.77" height="22.64" fill="#FFA0A0"/>
<rect x="732.56" y="290.32" width="3.77" height="22.64" fill="#FF0000"/>
<rect x="736.03" y="290.32" width="3.77" height="22.64" fill="#0000FF"/>
<rect x="739.5" y="290.32" width="3.77" height="22.64" fill="#F8F4F6"/>
<rect x="742.96" y="290.32" width="3.77" height="22.64" fill="#0000FF"/>
<rect x="746.43" y="290.32" width="7.24" height="22.64" fill="#FFA0A0"/>
<rect x="753.37" y="290.32" width="7.24" height="22.64" fill="#FFD4D4"/>
<rect x="760.31" y="290.32" width="3.77" height="22.64" fill="#F8F4F6"/>
<rect x="763.78" y="290.32" width="7.24" height="22.64" fill="#FF0000"/>
<rect x="770.72" y="290.32" width="3.77" height="22.64" fill="#0000FF"/>
<rect x="774.19" y="290.32" width="3.77" height="22.64" fill="#FF0000"/>
<rect x="777.66" y="290.32" width="3.77" height="22.64" fill="#0000FF"/>
<rect x="781.13" y="290.32" width="7.24" height="22.64" fill="#FF4A4A"/>
<rect x="788.06" y="290.32" width="3.77" height="22.64" fill="#FF0000"/>
<rect x="791.53" y="290.32" width="3.77" height="22.64" fill="#F8F4F6"/>
<rect x="795" y="290.32" width="3.77" height="22.64" fill="#FFA0A0"/>
<rect x="798.47" y="290.32" width="7.24" height="22.64" fill="#5050FF"/>
<rect x="805.41" y="290.32" width="3.77" height="22.64" fill="#F8F4F6"/>
<rect x="808.88" y="290.32" width="3.77" height="22.64" fill="#FF0000"/>
<rect x="812.35" y="290.32" width="3.77" height="22.64" fill="#0000FF"/>
<rect x="815.82" y="290.32" width="3.77" height="22.64" fill="#FF4A4A"/>
<rect x="819.29" y="290.32" width="10.71" height="22.64" fill="#FFA0A0"/>
<rect x="829.69" y="290.32" width="3.77" height="22.64" fill="#5050FF"/>
<rect x="833.16" y="290.32" width="7.24" height="22.64" fill="#FF4A4A"/>
<rect x="840.1" y="290.32" width="3.77" height="22.64" fill="#FF0000"/>
<rect x="843.57" y="290.32" width="3.77" height="22.64" fill="#0000FF"/>
<rect x="847.04" y="290.32" width="3.77" height="22.64" fill="#FF0000"/>
<rect x="850.51" y="290.32" width="3.77" height="22.64" fill="#FF4A4A"/>
<rect x="853.98" y="290.32" width="3.77" height="22.64" fill="#A0A0FF"/>
<rect x="857.45" y="290.32" width="3.77" height="22.64" fill="#0000FF"/>
<rect x="860.92" y="290.32" width="3.77" height="22.64" fill="#FF4A4A"/>
<rect x="864.39" y="290.32" width="3.77" height="22.64" fill="#5050FF"/>
<rect x="867.85" y="290.32" width="3.77" height="22.64" fill="#D0D0FF"/>
<rect x="871.32" y="290.32" width="7.24" height="22.64" fill="#F8F4F6"/>
<rect x="878.26" y="290.32" width="3.77" height="22.64" fill="#D0D0FF"/>
<rect x="881.73" y="290.32" width="3.77" height="22.64" fill="#A0A0FF"/>
<rect x="559.1" y="312.66" width="7.24" height="22.64" fill="#FF0000"/>
<rect x="566.04" y="312.66" width="3.77" height="22.64" fill="#0000FF"/>
<rect x="569.51" y="312.66" width="7.24" height="22.64" fill="#5050FF"/>
<rect x="576.45" y="312.66" width="3.77" height="22.64" fill="#A0A0FF"/>
<rect x="579.91" y="312.66" width="7.24" height="22.64" fill="#FF0000"/>
<rect x="586.85" y="312.66" width="7.24" height="22.64" fill="#0000FF"/>
<rect x="593.79" y="312.66" width="10.71" height="22.64" fill="#5050FF"/>
<rect x="604.2" y="312.66" width="3.77" height="22.64" fill="#0000FF"/>
<rect x="607.67" y="312.66" width="3.77" height="22.64" fill="#FFA0A0"/>
<rect x="611.14" y="312.66" width="3.77" height="22.64" fill="#0000FF"/>
<rect x="614.61" y="312.66" width="3.77" height="22.64" fill="#FF4A4A"/>
<rect x="618.08" y="312.66" width="3.77" height="22.64" fill="#0000FF"/>
<rect x="621.54" y="312.66" width="3.77" height="22.64" fill="#FF0000"/>
<rect x="625.01" y="312.66" width="3.77" height="22.64" fill="#FF4A4A"/>
<rect x="628.48" y="312.66" width="7.24" height="22.64" fill="#FF0000"/>
<rect x="635.42" y="312.66" width="3.77" height="22.64" fill="#FFD4D4"/>
<rect x="638.89" y="312.66" width="3.77" height="22.64" fill="#0000FF"/>
<rect x="642.36" y="312.66" width="3.77" height="22.64" fill="#A0A0FF"/>
<rect x="645.83" y="312.66" width="3.77" height="22.64" fill="#FF4A4A"/>
<rect x="649.3" y="312.66" width="3.77" height="22.64" fill="#0000FF"/>
<rect x="652.77" y="312.66" width="7.24" height="22.64" fill="#FF0000"/>
<rect x="659.71" y="312.66" width="10.71" height="22.64" fill="#0000FF"/>
<rect x="670.11" y="312.66" width="3.77" height="22.64" fill="#A0A0FF"/>
<rect x="673.58" y="312.66" width="7.24" height="22.64" fill="#0000FF"/>
<rect x="680.52" y="312.66" width="3.77" height="22.64" fill="#FFD4D4"/>
<rect x="683.99" y="312.66" width="3.77" height="22.64" fill="#5050FF"/>
<rect x="687.46" y="312.66" width="3.77" height="22.64" fill="#0000FF"/>
<rect x="690.93" y="312.66" width="3.77" height="22.64" fill="#FF4A4A"/>
<rect x="694.4" y="312.66" width="3.77" height="22.64" fill="#FF0000"/>
<rect x="697.87" y="312.66" width="7.24" height="22.64" fill="#0000FF"/>
<rect x="704.8" y="312.66" width="3.77" height="22.64" fill="#5050FF"/>
<rect x="708.27" y="312.66" width="7.24" height="22.64" fill="#FF0000"/>
<rect x="715.21" y="312.66" width="3.77" height="22.64" fill="#0000FF"/>
<rect x="718.68" y="312.66" width="3.77" height="22.64" fill="#5050FF"/>
<rect x="722.15" y="312.66" width="3.77" height="22.64" fill="#FFD4D4"/>
<rect x="725.62" y="312.66" width="7.24" height="22.64" fill="#FF0000"/>
<rect x="732.56" y="312.66" width="3.77" height="22.64" fill="#FFD4D4"/>
<rect x="736.03" y="312.66" width="3.77" height="22.64" fill="#0000FF"/>
<rect x="739.5" y="312.66" width="3.77" height="22.64" fill="#D0D0FF"/>
<rect x="742.96" y="312.66" width="3.77" height="22.64" fill="#FFA0A0"/>
<rect x="746.43" y="312.66" width="3.77" height="22.64" fill="#D0D0FF"/>
<rect x="749.9" y="312.66" width="3.77" height="22.64" fill="#FF0000"/>
<rect x="753.37" y="312.66" width="3.77" height="22.64" fill="#0000FF"/>
<rect x="756.84" y="312.66" width="3.77" height="22.64" fill="#D0D0FF"/>
<rect x="760.31" y="312.66" width="3.77" height="22.64" fill="#A0A0FF"/>
<rect x="763.78" y="312.66" width="7.24" height="22.64" fill="#FF0000"/>
<rect x="770.72" y="312.66" width="3.77" height="22.64" fill="#A0A0FF"/>
<rect x="774.19" y="312.66" width="3.77" height="22.64" fill="#FF0000"/>
<rect x="777.66" y="312.66" width="3.77" height="22.64" fill="#0000FF"/>
<rect x="781.13" y="312.66" width="3.77" height="22.64" fill="#FFD4D4"/>
<rect x="784.59" y="312.66" width="7.24" height="22.64" fill="#FF0000"/>
<rect x="791.53" y="312.66" width="3.77" height="22.64" fill="#FF4A4A"/>
<rect x="795" y="312.66" width="3.77" height="22.64" fill="#FF0000"/>
<rect x="798.47" y="312.66" width="3.77" height="22.64" fill="#0000FF"/>
<rect x="801.94" y="312.66" width="3.77" height="22.64" fill="#5050FF"/>
<rect x="805.41" y="312.66" width="3.77" height="22.64" fill="#FF4A4A"/>
<rect x="808.88" y="312.66" width="3.77" height="22.64" fill="#FF0000"/>
<rect x="812.35" y="312.66" width="3.77" height="22.64" fill="#0000FF"/>
<rect x="815.82" y="312.66" width="3.77" height="22.64" fill="#FFD4D4"/>
<rect x="819.29" y="312.66" width="3.77" height="22.64" fill="#A0A0FF"/>
<rect x="822.76" y="312.66" width="3.77" height="22.64" fill="#F8F4F6"/>
<rect x="826.22" y="312.66" width="3.77" height="22.64" fill="#A0A0FF"/>
<rect x="829.69" y="312.66" width="3.77" height="22.64" fill="#D0D0FF"/>
<rect x="833.16" y="312.66" width="7.24" height="22.64" fill="#FF4A4A"/>
<rect x="840.1" y="312.66" width="3.77" height="22.64" fill="#FF0000"/>
<rect x="843.57" y="312.66" width="3.77" height="22.64" fill="#FF4A4A"/>
<rect x="847.04" y="312.66" width="3.77" height="22.64" fill="#FF0000"/>
<rect x="850.51" y="312.66" width="3.77" height="22.64" fill="#F8F4F6"/>
<rect x="853.98" y="312.66" width="7.24" height="22.64" fill="#A0A0FF"/>
<rect x="860.92" y="312.66" width="3.77" height="22.64" fill="#FFD4D4"/>
<rect x="864.39" y="312.66" width="3.77" height="22.64" fill="#0000FF"/>
<rect x="867.85" y="312.66" width="3.77" height="22.64" fill="#FFD4D4"/>
<rect x="871.32" y="312.66" width="3.77" height="22.64" fill="#FF0000"/>
<rect x="874.79" y="312.66" width="3.77" height="22.64" fill="#5050FF"/>
<rect x="878.26" y="312.66" width="3.77" height="22.64" fill="#FFA0A0"/>
<rect x="881.73" y="312.66" width="3.77" height="22.64" fill="#D0D0FF"/>
<rect x="559.1" y="34.7" width="162.9" height="7.1" fill="#08D4DA"/>
<rect x="722" y="34.7" width="163.2" height="7.1" fill="#F9A09A"/>
<text x="888" y="38.3" font-size="6.5" text-anchor="start" font-weight="bold" fill="#000" dominant-baseline="central" >Type</text>
<text x="888" y="55.77" font-size="6.2" text-anchor="start" font-weight="normal" fill="#111" dominant-baseline="central" >Type_II_IFN_Reponse</text>
<text x="888" y="78.11" font-size="6.2" text-anchor="start" font-weight="normal" fill="#111" dominant-baseline="central" >Parainflammation*</text>
<text x="888" y="100.45" font-size="6.2" text-anchor="start" font-weight="normal" fill="#111" dominant-baseline="central" >Type_I_IFN_Reponse</text>
<text x="888" y="122.78" font-size="6.2" text-anchor="start" font-weight="normal" fill="#111" dominant-baseline="central" >MHC_class_I</text>
<text x="888" y="145.12" font-size="6.2" text-anchor="start" font-weight="normal" fill="#111" dominant-baseline="central" >Cytolytic_activity</text>
<text x="888" y="167.46" font-size="6.2" text-anchor="start" font-weight="normal" fill="#111" dominant-baseline="central" >Inflammation−promoting</text>
<text x="888" y="189.8" font-size="6.2" text-anchor="start" font-weight="normal" fill="#111" dominant-baseline="central" >APC_co_inhibition*</text>
<text x="888" y="212.14" font-size="6.2" text-anchor="start" font-weight="normal" fill="#111" dominant-baseline="central" >HLA</text>
<text x="888" y="234.48" font-size="6.2" text-anchor="start" font-weight="normal" fill="#111" dominant-baseline="central" >T_cell_co−inhibition</text>
<text x="888" y="256.82" font-size="6.2" text-anchor="start" font-weight="normal" fill="#111" dominant-baseline="central" >Check−point</text>
<text x="888" y="279.15" font-size="6.2" text-anchor="start" font-weight="normal" fill="#111" dominant-baseline="central" >T_cell_co−stimulation</text>
<text x="888" y="301.49" font-size="6.2" text-anchor="start" font-weight="normal" fill="#111" dominant-baseline="central" >APC_co_stimulation</text>
<text x="888" y="323.83" font-size="6.2" text-anchor="start" font-weight="normal" fill="#111" dominant-baseline="central" >CCR*</text>
<path d="M512.6 55.6L512.6 172.5M512.6 55.6L559 55.6M512.6 172.5L521.5 172.5M521.5 114.2L521.5 231.2M521.5 114.2L526.4 114.2M526.4 89.3L526.4 139.4M526.4 89.3L537.7 89.3M537.7 78L537.7 100.4M537.7 78L559 78M537.7 100.4L559 100.4M526.4 139.4L532.5 139.4M532.5 122.8L532.5 156M532.5 122.8L559 122.8M532.5 156L541.7 156M541.7 145L541.7 167.6M541.7 145L559 145M541.7 167.6L559 167.6M521.5 231.2L526.4 231.2M526.4 190.2L526.4 272.5M526.4 190.2L559 190.2M526.4 272.5L529.9 272.5M529.9 231.9L529.9 312.6M529.9 231.9L536.9 231.9M536.9 212.1L536.9 251M536.9 212.1L559 212.1M536.9 251L545.9 251M545.9 234.4L545.9 268M545.9 234.4L559 234.4M545.9 268L548.4 268M548.4 257L548.4 279.5M548.4 257L559 257M548.4 279.5L559 279.5M529.9 312.6L534.1 312.6M534.1 301.5L534.1 324M534.1 301.5L559 301.5M534.1 324L559 324" stroke="#3A3A3A" stroke-width="1" fill="none" stroke-linecap="square"/>
<defs><linearGradient id="bcb" x1="0" y1="0" x2="0" y2="1"><stop offset="0" stop-color="#FF0000"/><stop offset="0.40" stop-color="#FF0000"/><stop offset="0.5" stop-color="#FFFFFF"/><stop offset="0.58" stop-color="#0000FF"/><stop offset="1" stop-color="#0000FF"/></linearGradient></defs>
<rect x="961" y="33.7" width="9" height="141.2" fill="url(#bcb)"/>
<text x="972.6" y="68.7" font-size="6.3" text-anchor="start" font-weight="normal" fill="#000" dominant-baseline="central" >2</text>
<text x="972.6" y="104.4" font-size="6.3" text-anchor="start" font-weight="normal" fill="#000" dominant-baseline="central" >0</text>
<text x="972" y="140.8" font-size="6.3" text-anchor="start" font-weight="normal" fill="#000" dominant-baseline="central" >−2</text>
<text x="981" y="37" font-size="6.3" text-anchor="start" font-weight="bold" fill="#000" dominant-baseline="central" >Type</text>
<rect x="981" y="41.3" width="9" height="9.3" fill="#08D4DA"/>
<rect x="981" y="50.6" width="9" height="9.3" fill="#F9A09A"/>
<text x="991.5" y="46" font-size="6.3" text-anchor="start" font-weight="normal" fill="#000" dominant-baseline="central" >Low risk</text>
<text x="991.5" y="55.3" font-size="6.3" text-anchor="start" font-weight="normal" fill="#000" dominant-baseline="central" >High risk</text>
<rect x="38.5" y="443.3" width="469.3" height="264.7" fill="none" stroke="#333" stroke-width="1.1"/>
<line x1="34.4" y1="698.4" x2="38.7" y2="698.4" stroke="#333" stroke-width="0.8"/>
<text x="29.6" y="698.4" font-size="8.3" text-anchor="end" font-weight="normal" fill="#000" dominant-baseline="central" >0.0</text>
<line x1="34.4" y1="656.63" x2="38.7" y2="656.63" stroke="#333" stroke-width="0.8"/>
<text x="29.6" y="656.63" font-size="8.3" text-anchor="end" font-weight="normal" fill="#000" dominant-baseline="central" >0.1</text>
<line x1="34.4" y1="614.86" x2="38.7" y2="614.86" stroke="#333" stroke-width="0.8"/>
<text x="29.6" y="614.86" font-size="8.3" text-anchor="end" font-weight="normal" fill="#000" dominant-baseline="central" >0.2</text>
<line x1="34.4" y1="573.09" x2="38.7" y2="573.09" stroke="#333" stroke-width="0.8"/>
<text x="29.6" y="573.09" font-size="8.3" text-anchor="end" font-weight="normal" fill="#000" dominant-baseline="central" >0.3</text>
<line x1="34.4" y1="531.32" x2="38.7" y2="531.32" stroke="#333" stroke-width="0.8"/>
<text x="29.6" y="531.32" font-size="8.3" text-anchor="end" font-weight="normal" fill="#000" dominant-baseline="central" >0.4</text>
<line x1="34.4" y1="489.55" x2="38.7" y2="489.55" stroke="#333" stroke-width="0.8"/>
<text x="29.6" y="489.55" font-size="8.3" text-anchor="end" font-weight="normal" fill="#000" dominant-baseline="central" >0.5</text>
<line x1="34.4" y1="447.78" x2="38.7" y2="447.78" stroke="#333" stroke-width="0.8"/>
<text x="29.6" y="447.78" font-size="8.3" text-anchor="end" font-weight="normal" fill="#000" dominant-baseline="central" >0.6</text>
<text x="0" y="0" font-size="8" fill="#111" text-anchor="middle" dominant-baseline="central" transform="translate(8,575) rotate(-90)">Fraction</text>
<line x1="443" y1="455" x2="460.7" y2="455" stroke="#0000FF" stroke-width="2"/>
<line x1="443" y1="466.5" x2="460.7" y2="466.5" stroke="#FF0000" stroke-width="2"/>
<text x="468.4" y="455" font-size="9" text-anchor="start" font-weight="normal" fill="#111" dominant-baseline="central" >Low risk</text>
<text x="468.4" y="466.5" font-size="9" text-anchor="start" font-weight="normal" fill="#111" dominant-baseline="central" >High risk</text>
<polygon points="53.8,698.4 53.56,693.92 53.32,689.45 52.98,684.97 53.2,680.5 53.43,676.02 53.66,671.55 53.89,667.07 54.13,662.6 54.36,658.12 54.6,653.65 54.84,649.17 55.08,644.7 55.33,640.22 55.6,635.75 56,635.75 56.27,640.22 56.52,644.7 56.76,649.17 57,653.65 57.24,658.12 57.47,662.6 57.71,667.07 57.94,671.55 58.17,676.02 58.4,680.5 58.62,684.97 58.28,689.45 58.04,693.92 57.8,698.4" fill="#0000D8" stroke="#000" stroke-width="0.5"/>
<line x1="55.8" y1="698.4" x2="55.8" y2="600.24" stroke="#000" stroke-width="0.9"/>
<line x1="55.8" y1="692.13" x2="55.8" y2="674.17" stroke="#000" stroke-width="0.95"/>
<circle cx="55.8" cy="685.87" r="2.0" fill="#fff"/>
<polygon points="60.8,698.4 60.5,692.73 60.2,687.06 60.1,681.39 60.32,675.72 60.54,670.06 60.75,664.39 60.97,658.72 61.2,653.05 61.42,647.38 61.64,641.71 61.87,636.04 62.11,630.37 62.34,624.71 62.6,619.04 63,619.04 63.26,624.71 63.49,630.37 63.73,636.04 63.96,641.71 64.18,647.38 64.4,653.05 64.63,658.72 64.85,664.39 65.06,670.06 65.28,675.72 65.5,681.39 65.4,687.06 65.1,692.73 64.8,698.4" fill="#E60000" stroke="#000" stroke-width="0.5"/>
<line x1="62.8" y1="698.4" x2="62.8" y2="564.74" stroke="#000" stroke-width="0.9"/>
<line x1="62.8" y1="692.13" x2="62.8" y2="674.17" stroke="#000" stroke-width="0.95"/>
<circle cx="62.8" cy="685.87" r="2.0" fill="#fff"/>
<line x1="57.3" y1="564.74" x2="62.8" y2="564.74" stroke="#000" stroke-width="0.7"/>
<text x="59.3" y="555.74" font-size="6.4" text-anchor="middle" font-weight="normal" fill="#000" dominant-baseline="central" >p=0.819</text>
<text x="0" y="0" font-size="7.35" fill="#000" text-anchor="end" dominant-baseline="central" transform="translate(59.1,718.5) rotate(-45)">B cells naive</text>
<line x1="75.47" y1="698.4" x2="77.47" y2="698.4" stroke="#555" stroke-width="0.6"/>
<polygon points="80.7,698.4 82.36,695.73 83.17,691.72 83.77,691.72 84.57,695.73 86.23,698.4" fill="#E60000" stroke="#000" stroke-width="0.5"/>
<line x1="83.47" y1="698.4" x2="83.47" y2="678.35" stroke="#000" stroke-width="0.9"/>
<line x1="83.47" y1="697.77" x2="83.47" y2="692.22" stroke="#000" stroke-width="0.95"/>
<circle cx="83.47" cy="696.65" r="1.2" fill="#fff"/>
<line x1="77.97" y1="678.35" x2="83.47" y2="678.35" stroke="#000" stroke-width="0.7"/>
<text x="79.97" y="669.35" font-size="6.4" text-anchor="middle" font-weight="normal" fill="#000" dominant-baseline="central" >p=0.749</text>
<text x="0" y="0" font-size="7.35" fill="#000" text-anchor="end" dominant-baseline="central" transform="translate(79.77,718.5) rotate(-45)">B cells memory</text>
<polygon points="95.13,697.15 94.95,689.63 94.77,682.11 94.59,674.59 94.33,667.07 94.58,659.55 94.83,652.04 95.08,644.52 95.33,637 95.58,629.48 95.84,621.96 96.1,614.44 96.37,606.92 96.64,599.41 96.93,591.89 97.33,591.89 97.62,599.41 97.89,606.92 98.16,614.44 98.42,621.96 98.68,629.48 98.93,637 99.18,644.52 99.43,652.04 99.68,659.55 99.93,667.07 99.67,674.59 99.49,682.11 99.31,689.63 99.13,697.15" fill="#0000D8" stroke="#000" stroke-width="0.5"/>
<line x1="97.13" y1="697.15" x2="97.13" y2="591.89" stroke="#000" stroke-width="0.9"/>
<line x1="97.13" y1="681.07" x2="97.13" y2="638.75" stroke="#000" stroke-width="0.95"/>
<circle cx="97.13" cy="663.73" r="2.0" fill="#fff"/>
<polygon points="102.13,697.15 101.94,688.14 101.76,679.13 101.57,670.12 101.37,661.11 101.61,652.09 101.86,643.08 102.1,634.07 102.35,625.06 102.6,616.05 102.86,607.04 103.11,598.03 103.37,589.02 103.64,580.01 103.93,571 104.33,571 104.62,580.01 104.89,589.02 105.15,598.03 105.4,607.04 105.66,616.05 105.91,625.06 106.16,634.07 106.4,643.08 106.65,652.09 106.89,661.11 106.69,670.12 106.5,679.13 106.32,688.14 106.13,697.15" fill="#E60000" stroke="#000" stroke-width="0.5"/>
<line x1="104.13" y1="697.15" x2="104.13" y2="563.48" stroke="#000" stroke-width="0.9"/>
<line x1="104.13" y1="680.23" x2="104.13" y2="636.08" stroke="#000" stroke-width="0.95"/>
<circle cx="104.13" cy="662.06" r="2.0" fill="#fff"/>
<line x1="98.63" y1="563.48" x2="104.13" y2="563.48" stroke="#000" stroke-width="0.7"/>
<text x="100.63" y="554.48" font-size="6.4" text-anchor="middle" font-weight="normal" fill="#000" dominant-baseline="central" >p=0.592</text>
<text x="0" y="0" font-size="7.35" fill="#000" text-anchor="end" dominant-baseline="central" transform="translate(100.43,718.5) rotate(-45)">Plasma cells</text>
<polygon points="115.79,694.22 115.45,683.48 114.94,672.74 115.15,662 115.36,651.26 115.57,640.52 115.79,629.78 116,619.04 116.22,608.3 116.44,597.56 116.66,586.81 116.88,576.07 117.11,565.33 117.34,554.59 117.59,543.85 117.99,543.85 118.25,554.59 118.48,565.33 118.71,576.07 118.93,586.81 119.15,597.56 119.37,608.3 119.59,619.04 119.8,629.78 120.02,640.52 120.23,651.26 120.44,662 120.65,672.74 120.14,683.48 119.8,694.22" fill="#0000D8" stroke="#000" stroke-width="0.5"/>
<line x1="117.79" y1="694.22" x2="117.79" y2="543.85" stroke="#000" stroke-width="0.9"/>
<line x1="117.79" y1="682.74" x2="117.79" y2="644.1" stroke="#000" stroke-width="0.95"/>
<circle cx="117.79" cy="667.07" r="2.0" fill="#fff"/>
<polygon points="122.79,698.4 122.7,692.43 122.6,686.47 122.51,680.5 122.41,674.53 122.32,668.56 122.22,662.6 122.13,656.63 122.29,650.66 122.66,644.7 123.03,638.73 123.4,632.76 123.78,626.79 124.17,620.83 124.59,614.86 124.99,614.86 125.42,620.83 125.81,626.79 126.19,632.76 126.56,638.73 126.93,644.7 127.3,650.66 127.46,656.63 127.37,662.6 127.27,668.56 127.18,674.53 127.08,680.5 126.99,686.47 126.89,692.43 126.8,698.4" fill="#E60000" stroke="#000" stroke-width="0.5"/>
<line x1="124.79" y1="698.4" x2="124.79" y2="595.23" stroke="#000" stroke-width="0.9"/>
<line x1="124.79" y1="679.81" x2="124.79" y2="634.74" stroke="#000" stroke-width="0.95"/>
<circle cx="124.79" cy="661.22" r="2.0" fill="#fff"/>
<line x1="119.29" y1="543.85" x2="124.79" y2="543.85" stroke="#000" stroke-width="0.7"/>
<text x="121.29" y="534.85" font-size="6.4" text-anchor="middle" font-weight="normal" fill="#000" dominant-baseline="central" >p=0.495</text>
<text x="0" y="0" font-size="7.35" fill="#000" text-anchor="end" dominant-baseline="central" transform="translate(121.09,718.5) rotate(-45)">T cells CD8</text>
<line x1="137.46" y1="698.4" x2="139.46" y2="698.4" stroke="#555" stroke-width="0.6"/>
<line x1="144.46" y1="698.4" x2="146.46" y2="698.4" stroke="#555" stroke-width="0.6"/>
<line x1="139.96" y1="692.97" x2="145.46" y2="692.97" stroke="#000" stroke-width="0.7"/>
<text x="141.96" y="683.97" font-size="6.4" text-anchor="middle" font-weight="normal" fill="#000" dominant-baseline="central" >p=0.864</text>
<text x="0" y="0" font-size="7.35" fill="#000" text-anchor="end" dominant-baseline="central" transform="translate(141.76,718.5) rotate(-45)">T cells CD4 naive</text>
<polygon points="156.55,698.4 156.55,596.9 161.7,596.9 161.7,698.4" fill="#0000D8" stroke="#000" stroke-width="0.5"/>
<line x1="159.12" y1="698.4" x2="159.12" y2="596.9" stroke="#000" stroke-width="0.9"/>
<line x1="159.12" y1="673.55" x2="159.12" y2="614.69" stroke="#000" stroke-width="0.95"/>
<circle cx="159.12" cy="648.69" r="2.0" fill="#fff"/>
<polygon points="164.19,695.48 164.11,689.57 164.03,683.66 163.95,677.75 163.87,671.85 163.79,665.94 163.71,660.03 163.63,654.12 163.35,648.22 163.76,642.31 164.18,636.4 164.59,630.49 165.02,624.59 165.46,618.68 165.93,612.77 166.32,612.77 166.79,618.68 167.23,624.59 167.66,630.49 168.07,636.4 168.49,642.31 168.9,648.22 168.62,654.12 168.54,660.03 168.46,665.94 168.38,671.85 168.3,677.75 168.22,683.66 168.14,689.57 168.06,695.48" fill="#E60000" stroke="#000" stroke-width="0.5"/>
<line x1="166.12" y1="695.48" x2="166.12" y2="587.29" stroke="#000" stroke-width="0.9"/>
<line x1="166.12" y1="677.31" x2="166.12" y2="626.72" stroke="#000" stroke-width="0.95"/>
<circle cx="166.12" cy="656.21" r="2.0" fill="#fff"/>
<line x1="160.62" y1="587.29" x2="166.12" y2="587.29" stroke="#000" stroke-width="0.7"/>
<text x="162.62" y="578.29" font-size="6.4" text-anchor="middle" font-weight="normal" fill="#000" dominant-baseline="central" >p=0.662</text>
<text x="0" y="0" font-size="7.35" fill="#000" text-anchor="end" dominant-baseline="central" transform="translate(162.43,718.5) rotate(-45)">T cells CD4 memory resting</text>
<polygon points="178.06,698.4 177.76,696.16 177.31,693.92 177.49,691.69 177.68,689.45 177.86,687.21 178.04,684.97 178.23,682.74 178.41,680.5 178.6,678.26 178.79,676.02 178.98,673.79 179.18,671.55 179.38,669.31 179.59,667.07 179.99,667.07 180.2,669.31 180.4,671.55 180.6,673.79 180.79,676.02 180.98,678.26 181.17,680.5 181.35,682.74 181.54,684.97 181.72,687.21 181.9,689.45 182.09,691.69 182.27,693.92 181.82,696.16 181.51,698.4" fill="#0000D8" stroke="#000" stroke-width="0.5"/>
<line x1="179.79" y1="698.4" x2="179.79" y2="649.32" stroke="#000" stroke-width="0.9"/>
<line x1="179.79" y1="694.01" x2="179.79" y2="680.19" stroke="#000" stroke-width="0.95"/>
<circle cx="179.79" cy="689.63" r="2.0" fill="#fff"/>
<polygon points="185,698.4 184.85,695.42 184.71,692.43 184.57,689.45 184.43,686.47 184.38,683.48 184.62,680.5 184.85,677.51 185.09,674.53 185.33,671.55 185.57,668.56 185.81,665.58 186.06,662.6 186.32,659.61 186.59,656.63 186.99,656.63 187.26,659.61 187.52,662.6 187.77,665.58 188.01,668.56 188.25,671.55 188.49,674.53 188.73,677.51 188.96,680.5 189.2,683.48 189.15,686.47 189.01,689.45 188.87,692.43 188.73,695.42 188.58,698.4" fill="#E60000" stroke="#000" stroke-width="0.5"/>
<line x1="186.79" y1="698.4" x2="186.79" y2="644.93" stroke="#000" stroke-width="0.9"/>
<line x1="186.79" y1="690.88" x2="186.79" y2="670.16" stroke="#000" stroke-width="0.95"/>
<circle cx="186.79" cy="683.36" r="2.0" fill="#fff"/>
<line x1="181.29" y1="644.93" x2="186.79" y2="644.93" stroke="#000" stroke-width="0.7"/>
<text x="183.29" y="635.93" font-size="6.4" text-anchor="middle" font-weight="normal" fill="#000" dominant-baseline="central" >p=0.201</text>
<text x="0" y="0" font-size="7.35" fill="#000" text-anchor="end" dominant-baseline="central" transform="translate(183.09,718.5) rotate(-45)">T cells CD4 memory activated</text>
<polygon points="198.66,698.4 198.42,694.97 198.17,691.54 197.97,688.11 198.17,684.68 198.37,681.24 198.57,677.81 198.77,674.38 198.97,670.95 199.18,667.52 199.38,664.09 199.59,660.66 199.8,657.23 200.02,653.8 200.25,650.36 200.65,650.36 200.89,653.8 201.11,657.23 201.32,660.66 201.53,664.09 201.73,667.52 201.94,670.95 202.14,674.38 202.34,677.81 202.54,681.24 202.74,684.68 202.94,688.11 202.74,691.54 202.49,694.97 202.25,698.4" fill="#0000D8" stroke="#000" stroke-width="0.5"/>
<line x1="200.45" y1="698.4" x2="200.45" y2="619.04" stroke="#000" stroke-width="0.9"/>
<line x1="200.45" y1="692.45" x2="200.45" y2="675.18" stroke="#000" stroke-width="0.95"/>
<circle cx="200.45" cy="686.5" r="2.0" fill="#fff"/>
<polygon points="205.66,698.4 205.52,694.52 205.38,690.64 205.24,686.76 205.11,682.89 205.03,679.01 205.26,675.13 205.5,671.25 205.74,667.37 205.98,663.49 206.22,659.61 206.47,655.73 206.72,651.86 206.98,647.98 207.25,644.1 207.65,644.1 207.93,647.98 208.19,651.86 208.44,655.73 208.69,659.61 208.93,663.49 209.17,667.37 209.41,671.25 209.65,675.13 209.88,679.01 209.8,682.89 209.67,686.76 209.53,690.64 209.39,694.52 209.25,698.4" fill="#E60000" stroke="#000" stroke-width="0.5"/>
<line x1="207.45" y1="698.4" x2="207.45" y2="622.38" stroke="#000" stroke-width="0.9"/>
<line x1="207.45" y1="689.63" x2="207.45" y2="666.15" stroke="#000" stroke-width="0.95"/>
<circle cx="207.45" cy="680.86" r="2.0" fill="#fff"/>
<line x1="201.95" y1="619.04" x2="207.45" y2="619.04" stroke="#000" stroke-width="0.7"/>
<text x="203.95" y="610.04" font-size="6.4" text-anchor="middle" font-weight="normal" fill="#000" dominant-baseline="central" >p=0.517</text>
<text x="0" y="0" font-size="7.35" fill="#000" text-anchor="end" dominant-baseline="central" transform="translate(203.75,718.5) rotate(-45)">T cells follicular helper</text>
<polygon points="219.33,698.4 219.2,694.79 219.07,691.18 218.94,687.57 218.81,683.96 218.62,680.35 218.86,676.74 219.11,673.13 219.35,669.52 219.6,665.91 219.85,662.3 220.11,658.69 220.37,655.08 220.63,651.47 220.92,647.86 221.32,647.86 221.61,651.47 221.87,655.08 222.13,658.69 222.39,662.3 222.64,665.91 222.89,669.52 223.13,673.13 223.38,676.74 223.62,680.35 223.43,683.96 223.3,687.57 223.17,691.18 223.04,694.79 222.91,698.4" fill="#0000D8" stroke="#000" stroke-width="0.5"/>
<line x1="221.12" y1="698.4" x2="221.12" y2="647.86" stroke="#000" stroke-width="0.9"/>
<line x1="221.12" y1="689.63" x2="221.12" y2="666.15" stroke="#000" stroke-width="0.95"/>
<circle cx="221.12" cy="680.86" r="2.0" fill="#fff"/>
<polygon points="226.24,698.4 226.18,695.42 226.12,692.43 226.07,689.45 226.01,686.47 225.95,683.48 225.91,680.5 225.94,677.51 226,674.53 226.1,671.55 226.24,668.56 226.43,665.58 226.69,662.6 227.08,659.61 227.82,656.63 228.42,656.63 229.16,659.61 229.55,662.6 229.81,665.58 230,668.56 230.14,671.55 230.24,674.53 230.3,677.51 230.33,680.5 230.29,683.48 230.23,686.47 230.17,689.45 230.12,692.43 230.06,695.42 230,698.4" fill="#E60000" stroke="#000" stroke-width="0.5"/>
<line x1="228.12" y1="698.4" x2="228.12" y2="656.63" stroke="#000" stroke-width="0.9"/>
<line x1="228.12" y1="690.88" x2="228.12" y2="670.16" stroke="#000" stroke-width="0.95"/>
<circle cx="228.12" cy="683.36" r="2.0" fill="#fff"/>
<line x1="222.62" y1="647.86" x2="228.12" y2="647.86" stroke="#000" stroke-width="0.7"/>
<text x="224.62" y="638.86" font-size="6.4" text-anchor="middle" font-weight="normal" fill="#000" dominant-baseline="central" >p=0.986</text>
<text x="0" y="0" font-size="7.35" fill="#000" text-anchor="end" dominant-baseline="central" transform="translate(224.42,718.5) rotate(-45)">T cells regulatory (Tregs)</text>
<line x1="240.78" y1="698.4" x2="242.78" y2="698.4" stroke="#555" stroke-width="0.6"/>
<line x1="247.78" y1="698.4" x2="249.78" y2="698.4" stroke="#555" stroke-width="0.6"/>
<line x1="243.28" y1="697.56" x2="248.78" y2="697.56" stroke="#000" stroke-width="0.7"/>
<text x="245.28" y="688.56" font-size="6.4" text-anchor="middle" font-weight="normal" fill="#000" dominant-baseline="central" >p=0.830</text>
<text x="0" y="0" font-size="7.35" fill="#000" text-anchor="end" dominant-baseline="central" transform="translate(245.08,718.5) rotate(-45)">T cells gamma delta</text>
<polygon points="260.59,698.4 260.37,695.54 260.16,692.67 259.78,689.81 260,686.94 260.21,684.08 260.43,681.21 260.64,678.35 260.86,675.49 261.08,672.62 261.31,669.76 261.53,666.89 261.76,664.03 262,661.17 262.25,658.3 262.65,658.3 262.9,661.17 263.14,664.03 263.37,666.89 263.59,669.76 263.82,672.62 264.04,675.49 264.26,678.35 264.47,681.21 264.69,684.08 264.9,686.94 265.12,689.81 264.74,692.67 264.53,695.54 264.31,698.4" fill="#0000D8" stroke="#000" stroke-width="0.5"/>
<line x1="262.45" y1="698.4" x2="262.45" y2="642.22" stroke="#000" stroke-width="0.9"/>
<line x1="262.45" y1="693.39" x2="262.45" y2="678.18" stroke="#000" stroke-width="0.95"/>
<circle cx="262.45" cy="688.38" r="2.0" fill="#fff"/>
<polygon points="267.26,698.4 267.21,696.16 267.16,693.92 267.11,691.69 267.05,689.45 267,687.21 266.95,684.97 266.9,682.74 266.88,680.5 266.95,678.26 267.08,676.02 267.28,673.79 267.6,671.55 268.08,669.31 269.15,667.07 269.75,667.07 270.82,669.31 271.3,671.55 271.62,673.79 271.82,676.02 271.95,678.26 272.02,680.5 272,682.74 271.95,684.97 271.9,687.21 271.85,689.45 271.79,691.69 271.74,693.92 271.69,696.16 271.64,698.4" fill="#E60000" stroke="#000" stroke-width="0.5"/>
<line x1="269.45" y1="698.4" x2="269.45" y2="667.07" stroke="#000" stroke-width="0.9"/>
<line x1="269.45" y1="689.63" x2="269.45" y2="667.07" stroke="#000" stroke-width="0.95"/>
<circle cx="269.45" cy="680.86" r="2.0" fill="#fff"/>
<line x1="263.95" y1="642.22" x2="269.45" y2="642.22" stroke="#000" stroke-width="0.7"/>
<text x="265.95" y="633.22" font-size="6.4" text-anchor="middle" font-weight="normal" fill="#000" dominant-baseline="central" >p=0.353</text>
<text x="0" y="0" font-size="7.35" fill="#000" text-anchor="end" dominant-baseline="central" transform="translate(265.75,718.5) rotate(-45)">NK cells resting</text>
<polygon points="280.17,698.4 281.94,695.06 282.81,690.05 283.42,690.05 284.29,695.06 286.06,698.4" fill="#0000D8" stroke="#000" stroke-width="0.5"/>
<line x1="283.12" y1="698.4" x2="283.12" y2="677.51" stroke="#000" stroke-width="0.9"/>
<line x1="283.12" y1="697.77" x2="283.12" y2="692.22" stroke="#000" stroke-width="0.95"/>
<circle cx="283.12" cy="696.65" r="1.2" fill="#fff"/>
<polygon points="287.36,698.4 289.01,695.89 289.81,692.13 290.42,692.13 291.22,695.89 292.88,698.4" fill="#E60000" stroke="#000" stroke-width="0.5"/>
<line x1="290.12" y1="698.4" x2="290.12" y2="682.95" stroke="#000" stroke-width="0.9"/>
<line x1="290.12" y1="697.77" x2="290.12" y2="692.22" stroke="#000" stroke-width="0.95"/>
<circle cx="290.12" cy="696.65" r="1.2" fill="#fff"/>
<line x1="284.62" y1="677.51" x2="290.12" y2="677.51" stroke="#000" stroke-width="0.7"/>
<text x="286.62" y="668.51" font-size="6.4" text-anchor="middle" font-weight="normal" fill="#000" dominant-baseline="central" >p=0.207</text>
<text x="0" y="0" font-size="7.35" fill="#000" text-anchor="end" dominant-baseline="central" transform="translate(286.42,718.5) rotate(-45)">NK cells activated</text>
<polygon points="301.2,698.4 302.75,695.39 303.48,690.88 304.08,690.88 304.81,695.39 306.36,698.4" fill="#0000D8" stroke="#000" stroke-width="0.5"/>
<line x1="303.78" y1="698.4" x2="303.78" y2="685.45" stroke="#000" stroke-width="0.9"/>
<line x1="303.78" y1="697.77" x2="303.78" y2="692.22" stroke="#000" stroke-width="0.95"/>
<circle cx="303.78" cy="696.65" r="1.2" fill="#fff"/>
<polygon points="308.82,698.4 308.76,697.65 308.7,696.91 308.64,696.16 308.58,695.42 308.52,694.67 308.48,693.92 308.51,693.18 308.58,692.43 308.68,691.69 308.82,690.94 309.02,690.2 309.29,689.45 309.69,688.7 310.48,687.96 311.08,687.96 311.87,688.7 312.27,689.45 312.54,690.2 312.74,690.94 312.88,691.69 312.98,692.43 313.05,693.18 313.08,693.92 313.04,694.67 312.98,695.42 312.92,696.16 312.86,696.91 312.8,697.65 312.73,698.4" fill="#E60000" stroke="#000" stroke-width="0.5"/>
<line x1="310.78" y1="698.4" x2="310.78" y2="687.96" stroke="#000" stroke-width="0.9"/>
<line x1="310.78" y1="697.36" x2="310.78" y2="690.88" stroke="#000" stroke-width="0.95"/>
<circle cx="310.78" cy="696.31" r="2.0" fill="#fff"/>
<line x1="305.28" y1="685.45" x2="310.78" y2="685.45" stroke="#000" stroke-width="0.7"/>
<text x="307.28" y="676.45" font-size="6.4" text-anchor="middle" font-weight="normal" fill="#000" dominant-baseline="central" >p=0.824</text>
<text x="0" y="0" font-size="7.35" fill="#000" text-anchor="end" dominant-baseline="central" transform="translate(307.08,718.5) rotate(-45)">Monocytes</text>
<polygon points="322.44,698.4 322.27,685.27 322.09,672.14 321.92,659.02 321.62,645.89 321.87,632.76 322.12,619.63 322.38,606.51 322.63,593.38 322.89,580.25 323.15,567.12 323.41,554 323.68,540.87 323.95,527.74 324.25,514.61 324.64,514.61 324.94,527.74 325.21,540.87 325.48,554 325.74,567.12 326,580.25 326.26,593.38 326.51,606.51 326.77,619.63 327.02,632.76 327.27,645.89 326.97,659.02 326.8,672.14 326.62,685.27 326.45,698.4" fill="#0000D8" stroke="#000" stroke-width="0.5"/>
<line x1="324.44" y1="698.4" x2="324.44" y2="511.27" stroke="#000" stroke-width="0.9"/>
<line x1="324.44" y1="671.88" x2="324.44" y2="609.35" stroke="#000" stroke-width="0.95"/>
<circle cx="324.44" cy="645.35" r="2.0" fill="#fff"/>
<polygon points="329.44,698.4 329.19,685.87 328.94,673.34 328.65,660.81 328.88,648.28 329.1,635.75 329.33,623.21 329.56,610.68 329.79,598.15 330.02,585.62 330.25,573.09 330.49,560.56 330.73,548.03 330.98,535.5 331.25,522.97 331.64,522.97 331.91,535.5 332.16,548.03 332.4,560.56 332.64,573.09 332.87,585.62 333.1,598.15 333.33,610.68 333.56,623.21 333.79,635.75 334.01,648.28 334.24,660.81 333.95,673.34 333.7,685.87 333.45,698.4" fill="#E60000" stroke="#000" stroke-width="0.5"/>
<line x1="331.44" y1="698.4" x2="331.44" y2="461.56" stroke="#000" stroke-width="0.9"/>
<line x1="331.44" y1="682.11" x2="331.44" y2="642.09" stroke="#000" stroke-width="0.95"/>
<circle cx="331.44" cy="665.82" r="2.0" fill="#fff"/>
<line x1="325.94" y1="461.56" x2="331.44" y2="461.56" stroke="#000" stroke-width="0.7"/>
<text x="327.94" y="452.56" font-size="6.4" text-anchor="middle" font-weight="normal" fill="#000" dominant-baseline="central" >p=1.000</text>
<text x="0" y="0" font-size="7.35" fill="#000" text-anchor="end" dominant-baseline="central" transform="translate(327.75,718.5) rotate(-45)">Macrophages M0</text>
<polygon points="342.92,698.4 342.86,694.51 342.8,690.61 342.74,686.72 342.68,682.83 342.62,678.93 342.56,675.04 342.54,671.15 342.59,667.25 342.69,663.36 342.84,659.46 343.06,655.57 343.36,651.68 343.83,647.78 344.81,643.89 345.41,643.89 346.39,647.78 346.86,651.68 347.16,655.57 347.38,659.46 347.53,663.36 347.63,667.25 347.68,671.15 347.66,675.04 347.6,678.93 347.54,682.83 347.48,686.72 347.42,690.61 347.36,694.51 347.3,698.4" fill="#0000D8" stroke="#000" stroke-width="0.5"/>
<line x1="345.11" y1="698.4" x2="345.11" y2="643.89" stroke="#000" stroke-width="0.9"/>
<line x1="345.11" y1="686.08" x2="345.11" y2="654.79" stroke="#000" stroke-width="0.95"/>
<circle cx="345.11" cy="673.76" r="2.0" fill="#fff"/>
<polygon points="349.63,692.68 349.63,641.18 354.59,641.18 354.59,692.68" fill="#E60000" stroke="#000" stroke-width="0.5"/>
<line x1="352.11" y1="692.68" x2="352.11" y2="641.18" stroke="#000" stroke-width="0.9"/>
<line x1="352.11" y1="683.26" x2="352.11" y2="645.77" stroke="#000" stroke-width="0.95"/>
<circle cx="352.11" cy="668.12" r="2.0" fill="#fff"/>
<line x1="346.61" y1="641.18" x2="352.11" y2="641.18" stroke="#000" stroke-width="0.7"/>
<text x="348.61" y="632.18" font-size="6.4" text-anchor="middle" font-weight="normal" fill="#000" dominant-baseline="central" >p=0.416</text>
<text x="0" y="0" font-size="7.35" fill="#000" text-anchor="end" dominant-baseline="central" transform="translate(348.41,718.5) rotate(-45)">Macrophages M1</text>
<polygon points="363.77,694.22 363.62,684.68 363.47,675.13 363.32,665.58 363.16,656.03 363.07,646.49 363.34,636.94 363.6,627.39 363.87,617.84 364.14,608.3 364.42,598.75 364.69,589.2 364.98,579.65 365.26,570.11 365.57,560.56 365.97,560.56 366.29,570.11 366.57,579.65 366.86,589.2 367.13,598.75 367.41,608.3 367.68,617.84 367.95,627.39 368.21,636.94 368.48,646.49 368.39,656.03 368.23,665.58 368.08,675.13 367.93,684.68 367.78,694.22" fill="#0000D8" stroke="#000" stroke-width="0.5"/>
<line x1="365.77" y1="694.22" x2="365.77" y2="560.56" stroke="#000" stroke-width="0.9"/>
<line x1="365.77" y1="674.7" x2="365.77" y2="618.37" stroke="#000" stroke-width="0.95"/>
<circle cx="365.77" cy="650.99" r="2.0" fill="#fff"/>
<polygon points="370.77,698.4 370.63,690.52 370.49,682.65 370.35,674.77 370.21,666.89 369.97,659.02 370.25,651.14 370.52,643.26 370.8,635.39 371.08,627.51 371.37,619.63 371.66,611.76 371.95,603.88 372.25,596 372.57,588.13 372.97,588.13 373.3,596 373.6,603.88 373.89,611.76 374.18,619.63 374.47,627.51 374.75,635.39 375.03,643.26 375.3,651.14 375.58,659.02 375.34,666.89 375.2,674.77 375.06,682.65 374.92,690.52 374.78,698.4" fill="#E60000" stroke="#000" stroke-width="0.5"/>
<line x1="372.77" y1="698.4" x2="372.77" y2="515.03" stroke="#000" stroke-width="0.9"/>
<line x1="372.77" y1="679.5" x2="372.77" y2="633.74" stroke="#000" stroke-width="0.95"/>
<circle cx="372.77" cy="660.6" r="2.0" fill="#fff"/>
<line x1="367.27" y1="515.03" x2="372.77" y2="515.03" stroke="#000" stroke-width="0.7"/>
<text x="369.27" y="506.03" font-size="6.4" text-anchor="middle" font-weight="normal" fill="#000" dominant-baseline="central" >p=0.302</text>
<text x="0" y="0" font-size="7.35" fill="#000" text-anchor="end" dominant-baseline="central" transform="translate(369.07,718.5) rotate(-45)">Macrophages M2</text>
<polygon points="384.58,698.4 384.41,696.13 384.24,693.86 384.07,691.6 383.83,689.33 384.06,687.06 384.29,684.79 384.52,682.53 384.76,680.26 384.99,677.99 385.23,675.72 385.47,673.46 385.72,671.19 385.97,668.92 386.24,666.65 386.64,666.65 386.91,668.92 387.16,671.19 387.41,673.46 387.65,675.72 387.89,677.99 388.12,680.26 388.36,682.53 388.59,684.79 388.82,687.06 389.05,689.33 388.81,691.6 388.64,693.86 388.47,696.13 388.3,698.4" fill="#0000D8" stroke="#000" stroke-width="0.5"/>
<line x1="386.44" y1="698.4" x2="386.44" y2="666.65" stroke="#000" stroke-width="0.9"/>
<line x1="386.44" y1="694.64" x2="386.44" y2="682.19" stroke="#000" stroke-width="0.95"/>
<circle cx="386.44" cy="690.88" r="2.0" fill="#fff"/>
<polygon points="391.58,698.4 391.32,694.94 391.06,691.48 390.88,688.02 391.08,684.56 391.29,681.1 391.49,677.63 391.7,674.17 391.91,670.71 392.12,667.25 392.34,663.79 392.55,660.33 392.77,656.87 393,653.41 393.24,649.95 393.64,649.95 393.88,653.41 394.11,656.87 394.33,660.33 394.54,663.79 394.76,667.25 394.97,670.71 395.18,674.17 395.39,677.63 395.59,681.1 395.8,684.56 396,688.02 395.82,691.48 395.56,694.94 395.3,698.4" fill="#E60000" stroke="#000" stroke-width="0.5"/>
<line x1="393.44" y1="698.4" x2="393.44" y2="620.29" stroke="#000" stroke-width="0.9"/>
<line x1="393.44" y1="694.01" x2="393.44" y2="680.19" stroke="#000" stroke-width="0.95"/>
<circle cx="393.44" cy="689.63" r="2.0" fill="#fff"/>
<line x1="387.94" y1="620.29" x2="393.44" y2="620.29" stroke="#000" stroke-width="0.7"/>
<text x="389.94" y="611.29" font-size="6.4" text-anchor="middle" font-weight="normal" fill="#000" dominant-baseline="central" >p=0.562</text>
<text x="0" y="0" font-size="7.35" fill="#000" text-anchor="end" dominant-baseline="central" transform="translate(389.74,718.5) rotate(-45)">Dendritic cells resting</text>
<polygon points="404.62,698.4 404.59,695.71 404.76,693.03 404.93,690.34 405.1,687.66 405.27,684.97 405.45,682.29 405.62,679.6 405.79,676.92 405.97,674.23 406.15,671.55 406.33,668.86 406.51,666.18 406.7,663.49 406.91,660.81 407.31,660.81 407.51,663.49 407.7,666.18 407.88,668.86 408.06,671.55 408.24,674.23 408.42,676.92 408.59,679.6 408.76,682.29 408.94,684.97 409.11,687.66 409.28,690.34 409.45,693.03 409.62,695.71 409.59,698.4" fill="#0000D8" stroke="#000" stroke-width="0.5"/>
<line x1="407.11" y1="698.4" x2="407.11" y2="624.47" stroke="#000" stroke-width="0.9"/>
<line x1="407.11" y1="697.15" x2="407.11" y2="690.21" stroke="#000" stroke-width="0.95"/>
<circle cx="407.11" cy="695.89" r="2.0" fill="#fff"/>
<polygon points="412.31,698.4 411.95,695.89 411.57,693.39 411.76,690.88 411.95,688.38 412.13,685.87 412.32,683.36 412.51,680.86 412.7,678.35 412.89,675.84 413.08,673.34 413.28,670.83 413.48,668.33 413.69,665.82 413.91,663.31 414.31,663.31 414.52,665.82 414.73,668.33 414.93,670.83 415.13,673.34 415.32,675.84 415.51,678.35 415.7,680.86 415.89,683.36 416.08,685.87 416.26,688.38 416.45,690.88 416.64,693.39 416.26,695.89 415.9,698.4" fill="#E60000" stroke="#000" stroke-width="0.5"/>
<line x1="414.11" y1="698.4" x2="414.11" y2="648.69" stroke="#000" stroke-width="0.9"/>
<line x1="414.11" y1="696.1" x2="414.11" y2="686.87" stroke="#000" stroke-width="0.95"/>
<circle cx="414.11" cy="693.81" r="2.0" fill="#fff"/>
<line x1="408.61" y1="624.47" x2="414.11" y2="624.47" stroke="#000" stroke-width="0.7"/>
<text x="410.61" y="615.47" font-size="6.4" text-anchor="middle" font-weight="normal" fill="#000" dominant-baseline="central" >p=0.301</text>
<text x="0" y="0" font-size="7.35" fill="#000" text-anchor="end" dominant-baseline="central" transform="translate(410.41,718.5) rotate(-45)">Dendritic cells activated</text>
<polygon points="425.84,698.4 425.66,694.91 425.48,691.42 425.3,687.93 425.09,684.44 425.33,680.95 425.56,677.46 425.8,673.96 426.04,670.47 426.29,666.98 426.53,663.49 426.78,660 427.03,656.51 427.29,653.02 427.57,649.53 427.97,649.53 428.25,653.02 428.51,656.51 428.76,660 429.01,663.49 429.25,666.98 429.5,670.47 429.74,673.96 429.98,677.46 430.21,680.95 430.45,684.44 430.24,687.93 430.06,691.42 429.88,694.91 429.7,698.4" fill="#0000D8" stroke="#000" stroke-width="0.5"/>
<line x1="427.77" y1="698.4" x2="427.77" y2="649.53" stroke="#000" stroke-width="0.9"/>
<line x1="427.77" y1="691.72" x2="427.77" y2="672.84" stroke="#000" stroke-width="0.95"/>
<circle cx="427.77" cy="685.03" r="2.0" fill="#fff"/>
<polygon points="432.19,698.4 432.17,695.57 432.34,692.73 432.52,689.9 432.7,687.06 432.88,684.23 433.06,681.39 433.24,678.56 433.42,675.72 433.6,672.89 433.79,670.06 433.97,667.22 434.16,664.39 434.36,661.55 434.57,658.72 434.97,658.72 435.18,661.55 435.38,664.39 435.57,667.22 435.75,670.06 435.94,672.89 436.12,675.72 436.3,678.56 436.48,681.39 436.66,684.23 436.84,687.06 437.02,689.9 437.2,692.73 437.37,695.57 437.35,698.4" fill="#E60000" stroke="#000" stroke-width="0.5"/>
<line x1="434.77" y1="698.4" x2="434.77" y2="634.49" stroke="#000" stroke-width="0.9"/>
<line x1="434.77" y1="697.15" x2="434.77" y2="690.21" stroke="#000" stroke-width="0.95"/>
<circle cx="434.77" cy="695.89" r="2.0" fill="#fff"/>
<line x1="429.27" y1="634.49" x2="434.77" y2="634.49" stroke="#000" stroke-width="0.7"/>
<text x="431.27" y="625.49" font-size="6.4" text-anchor="middle" font-weight="normal" fill="#000" dominant-baseline="central" >p=0.397</text>
<text x="0" y="0" font-size="7.35" fill="#000" text-anchor="end" dominant-baseline="central" transform="translate(431.07,718.5) rotate(-45)">Mast cells resting</text>
<polygon points="445.77,698.4 445.75,693.92 445.93,689.45 446.11,684.97 446.3,680.5 446.48,676.02 446.67,671.55 446.85,667.07 447.04,662.6 447.23,658.12 447.42,653.65 447.62,649.17 447.81,644.7 448.02,640.22 448.24,635.75 448.63,635.75 448.85,640.22 449.06,644.7 449.25,649.17 449.45,653.65 449.64,658.12 449.83,662.6 450.02,667.07 450.2,671.55 450.39,676.02 450.57,680.5 450.76,684.97 450.94,689.45 451.12,693.92 451.1,698.4" fill="#0000D8" stroke="#000" stroke-width="0.5"/>
<line x1="448.44" y1="698.4" x2="448.44" y2="629.69" stroke="#000" stroke-width="0.9"/>
<line x1="448.44" y1="697.98" x2="448.44" y2="692.89" stroke="#000" stroke-width="0.95"/>
<circle cx="448.44" cy="697.56" r="2.0" fill="#fff"/>
<polygon points="453.5,698.4 453.37,695.71 453.23,693.03 453.09,690.34 452.95,687.66 452.75,684.97 453.01,682.29 453.28,679.6 453.54,676.92 453.81,674.23 454.08,671.55 454.36,668.86 454.64,666.18 454.93,663.49 455.24,660.81 455.63,660.81 455.94,663.49 456.23,666.18 456.51,668.86 456.79,671.55 457.06,674.23 457.33,676.92 457.59,679.6 457.86,682.29 458.12,684.97 457.92,687.66 457.78,690.34 457.64,693.03 457.5,695.71 457.37,698.4" fill="#E60000" stroke="#000" stroke-width="0.5"/>
<line x1="455.44" y1="698.4" x2="455.44" y2="647.86" stroke="#000" stroke-width="0.9"/>
<line x1="455.44" y1="692.13" x2="455.44" y2="674.17" stroke="#000" stroke-width="0.95"/>
<circle cx="455.44" cy="685.87" r="2.0" fill="#fff"/>
<line x1="449.94" y1="629.69" x2="455.44" y2="629.69" stroke="#000" stroke-width="0.7"/>
<text x="451.94" y="620.69" font-size="6.4" text-anchor="middle" font-weight="normal" fill="#000" dominant-baseline="central" >p=0.362</text>
<text x="0" y="0" font-size="7.35" fill="#000" text-anchor="end" dominant-baseline="central" transform="translate(451.74,718.5) rotate(-45)">Mast cells activated</text>
<line x1="468.1" y1="698.4" x2="470.1" y2="698.4" stroke="#555" stroke-width="0.6"/>
<line x1="475.1" y1="698.4" x2="477.1" y2="698.4" stroke="#555" stroke-width="0.6"/>
<line x1="470.6" y1="692.13" x2="476.1" y2="692.13" stroke="#000" stroke-width="0.7"/>
<text x="472.6" y="683.13" font-size="6.4" text-anchor="middle" font-weight="normal" fill="#000" dominant-baseline="central" >p=0.443</text>
<text x="0" y="0" font-size="7.35" fill="#000" text-anchor="end" dominant-baseline="central" transform="translate(472.4,718.5) rotate(-45)">Eosinophils</text>
<polygon points="487,698.4 488.66,694.22 489.46,687.96 490.06,687.96 490.87,694.22 492.52,698.4" fill="#0000D8" stroke="#000" stroke-width="0.5"/>
<line x1="489.76" y1="698.4" x2="489.76" y2="671" stroke="#000" stroke-width="0.9"/>
<line x1="489.76" y1="697.77" x2="489.76" y2="692.22" stroke="#000" stroke-width="0.95"/>
<circle cx="489.76" cy="696.65" r="1.2" fill="#fff"/>
<polygon points="494.19,698.4 495.73,696.73 496.46,694.22 497.06,694.22 497.8,696.73 499.34,698.4" fill="#E60000" stroke="#000" stroke-width="0.5"/>
<line x1="496.76" y1="698.4" x2="496.76" y2="688.79" stroke="#000" stroke-width="0.9"/>
<line x1="496.76" y1="697.77" x2="496.76" y2="694.22" stroke="#000" stroke-width="0.95"/>
<circle cx="496.76" cy="696.65" r="1.2" fill="#fff"/>
<line x1="491.26" y1="671" x2="496.76" y2="671" stroke="#000" stroke-width="0.7"/>
<text x="493.26" y="662" font-size="6.4" text-anchor="middle" font-weight="normal" fill="#000" dominant-baseline="central" >p=0.589</text>
<text x="0" y="0" font-size="7.35" fill="#000" text-anchor="end" dominant-baseline="central" transform="translate(493.06,718.5) rotate(-45)">Neutrophils</text>
<rect x="660.0" y="416.2" width="272.5" height="352.00000000000006" fill="#B9B9B9"/>
<line x1="655" y1="426.55" x2="660.0" y2="426.55" stroke="#BBBBBB" stroke-width="0.8"/>
<line x1="932.5" y1="426.55" x2="937.5" y2="426.55" stroke="#E0E0E0" stroke-width="0.8"/>
<text x="649.6" y="426.55" font-size="9.2" text-anchor="end" font-weight="bold" fill="#333" dominant-baseline="central" >T cells regulatory (Tregs)</text>
<rect x="661.1" y="417.3" width="52.3" height="18.51" fill="#FDB3A5"/>
<rect x="715.6" y="417.3" width="52.3" height="18.51" fill="#8482C6"/>
<text x="741.75" y="426.25" font-size="8.5" text-anchor="middle" font-weight="bold" fill="#000" dominant-baseline="central" >*</text>
<rect x="770.1" y="417.3" width="52.3" height="18.51" fill="#5C5CB0"/>
<text x="796.25" y="426.25" font-size="8.5" text-anchor="middle" font-weight="bold" fill="#000" dominant-baseline="central" >**</text>
<rect x="824.6" y="417.3" width="52.3" height="18.51" fill="#FDB8A8"/>
<rect x="879.1" y="417.3" width="52.3" height="18.51" fill="#B8B4DC"/>
<line x1="655" y1="447.26" x2="660.0" y2="447.26" stroke="#BBBBBB" stroke-width="0.8"/>
<line x1="932.5" y1="447.26" x2="937.5" y2="447.26" stroke="#E0E0E0" stroke-width="0.8"/>
<text x="649.6" y="447.26" font-size="9.2" text-anchor="end" font-weight="bold" fill="#333" dominant-baseline="central" >T cells follicular helper</text>
<rect x="661.1" y="438.01" width="52.3" height="18.51" fill="#FEF4F0"/>
<rect x="715.6" y="438.01" width="52.3" height="18.51" fill="#CAC6E4"/>
<rect x="770.1" y="438.01" width="52.3" height="18.51" fill="#C0BCE0"/>
<rect x="824.6" y="438.01" width="52.3" height="18.51" fill="#FB7C6A"/>
<rect x="879.1" y="438.01" width="52.3" height="18.51" fill="#CCC8E6"/>
<line x1="655" y1="467.96" x2="660.0" y2="467.96" stroke="#BBBBBB" stroke-width="0.8"/>
<line x1="932.5" y1="467.96" x2="937.5" y2="467.96" stroke="#E0E0E0" stroke-width="0.8"/>
<text x="649.6" y="467.96" font-size="9.2" text-anchor="end" font-weight="bold" fill="#333" dominant-baseline="central" >T cells CD8</text>
<rect x="661.1" y="458.71" width="52.3" height="18.51" fill="#FCA594"/>
<rect x="715.6" y="458.71" width="52.3" height="18.51" fill="#C0BCDF"/>
<rect x="770.1" y="458.71" width="52.3" height="18.51" fill="#7472BE"/>
<text x="796.25" y="467.66" font-size="8.5" text-anchor="middle" font-weight="bold" fill="#000" dominant-baseline="central" >*</text>
<rect x="824.6" y="458.71" width="52.3" height="18.51" fill="#FCAA98"/>
<rect x="879.1" y="458.71" width="52.3" height="18.51" fill="#FDE4DC"/>
<line x1="655" y1="488.67" x2="660.0" y2="488.67" stroke="#BBBBBB" stroke-width="0.8"/>
<line x1="932.5" y1="488.67" x2="937.5" y2="488.67" stroke="#E0E0E0" stroke-width="0.8"/>
<text x="649.6" y="488.67" font-size="9.2" text-anchor="end" font-weight="bold" fill="#333" dominant-baseline="central" >T cells CD4 memory resting</text>
<rect x="661.1" y="479.42" width="52.3" height="18.51" fill="#FDCBBE"/>
<rect x="715.6" y="479.42" width="52.3" height="18.51" fill="#FDD5CA"/>
<rect x="770.1" y="479.42" width="52.3" height="18.51" fill="#FCA898"/>
<rect x="824.6" y="479.42" width="52.3" height="18.51" fill="#B8B2DA"/>
<rect x="879.1" y="479.42" width="52.3" height="18.51" fill="#D2CEE8"/>
<line x1="655" y1="509.38" x2="660.0" y2="509.38" stroke="#BBBBBB" stroke-width="0.8"/>
<line x1="932.5" y1="509.38" x2="937.5" y2="509.38" stroke="#E0E0E0" stroke-width="0.8"/>
<text x="649.6" y="509.38" font-size="9.2" text-anchor="end" font-weight="bold" fill="#333" dominant-baseline="central" >T cells CD4 memory activated</text>
<rect x="661.1" y="500.12" width="52.3" height="18.51" fill="#E8E6F4"/>
<rect x="715.6" y="500.12" width="52.3" height="18.51" fill="#A8A4D4"/>
<rect x="770.1" y="500.12" width="52.3" height="18.51" fill="#FDC8BA"/>
<rect x="824.6" y="500.12" width="52.3" height="18.51" fill="#FCB2A2"/>
<rect x="879.1" y="500.12" width="52.3" height="18.51" fill="#F4F3F8"/>
<line x1="655" y1="530.08" x2="660.0" y2="530.08" stroke="#BBBBBB" stroke-width="0.8"/>
<line x1="932.5" y1="530.08" x2="937.5" y2="530.08" stroke="#E0E0E0" stroke-width="0.8"/>
<text x="649.6" y="530.08" font-size="9.2" text-anchor="end" font-weight="bold" fill="#333" dominant-baseline="central" >Plasma cells</text>
<rect x="661.1" y="520.83" width="52.3" height="18.51" fill="#D0CCE8"/>
<rect x="715.6" y="520.83" width="52.3" height="18.51" fill="#9C98CE"/>
<rect x="770.1" y="520.83" width="52.3" height="18.51" fill="#5E5CB0"/>
<text x="796.25" y="529.78" font-size="8.5" text-anchor="middle" font-weight="bold" fill="#000" dominant-baseline="central" >**</text>
<rect x="824.6" y="520.83" width="52.3" height="18.51" fill="#DCDAEE"/>
<rect x="879.1" y="520.83" width="52.3" height="18.51" fill="#9C98D0"/>
<line x1="655" y1="550.79" x2="660.0" y2="550.79" stroke="#BBBBBB" stroke-width="0.8"/>
<line x1="932.5" y1="550.79" x2="937.5" y2="550.79" stroke="#E0E0E0" stroke-width="0.8"/>
<text x="649.6" y="550.79" font-size="9.2" text-anchor="end" font-weight="bold" fill="#333" dominant-baseline="central" >NK cells resting</text>
<rect x="661.1" y="541.54" width="52.3" height="18.51" fill="#BEB8DE"/>
<rect x="715.6" y="541.54" width="52.3" height="18.51" fill="#BCB8DE"/>
<rect x="770.1" y="541.54" width="52.3" height="18.51" fill="#DEDCEE"/>
<rect x="824.6" y="541.54" width="52.3" height="18.51" fill="#FEFCFA"/>
<rect x="879.1" y="541.54" width="52.3" height="18.51" fill="#C2BEE0"/>
<line x1="655" y1="571.49" x2="660.0" y2="571.49" stroke="#BBBBBB" stroke-width="0.8"/>
<line x1="932.5" y1="571.49" x2="937.5" y2="571.49" stroke="#E0E0E0" stroke-width="0.8"/>
<text x="649.6" y="571.49" font-size="9.2" text-anchor="end" font-weight="bold" fill="#333" dominant-baseline="central" >NK cells activated</text>
<rect x="661.1" y="562.24" width="52.3" height="18.51" fill="#FC9886"/>
<rect x="715.6" y="562.24" width="52.3" height="18.51" fill="#FDB4A6"/>
<rect x="770.1" y="562.24" width="52.3" height="18.51" fill="#FDB2A4"/>
<rect x="824.6" y="562.24" width="52.3" height="18.51" fill="#FEF6F2"/>
<rect x="879.1" y="562.24" width="52.3" height="18.51" fill="#FA6E5C"/>
<line x1="655" y1="592.2" x2="660.0" y2="592.2" stroke="#BBBBBB" stroke-width="0.8"/>
<line x1="932.5" y1="592.2" x2="937.5" y2="592.2" stroke="#E0E0E0" stroke-width="0.8"/>
<text x="649.6" y="592.2" font-size="9.2" text-anchor="end" font-weight="bold" fill="#333" dominant-baseline="central" >Neutrophils</text>
<rect x="661.1" y="582.95" width="52.3" height="18.51" fill="#FEFCFA"/>
<rect x="715.6" y="582.95" width="52.3" height="18.51" fill="#FEF0EC"/>
<rect x="770.1" y="582.95" width="52.3" height="18.51" fill="#FFFFFF"/>
<rect x="824.6" y="582.95" width="52.3" height="18.51" fill="#C0BCE0"/>
<rect x="879.1" y="582.95" width="52.3" height="18.51" fill="#FDCCC0"/>
<line x1="655" y1="612.91" x2="660.0" y2="612.91" stroke="#BBBBBB" stroke-width="0.8"/>
<line x1="932.5" y1="612.91" x2="937.5" y2="612.91" stroke="#E0E0E0" stroke-width="0.8"/>
<text x="649.6" y="612.91" font-size="9.2" text-anchor="end" font-weight="bold" fill="#333" dominant-baseline="central" >Mast cells resting</text>
<rect x="661.1" y="603.65" width="52.3" height="18.51" fill="#FCAA9A"/>
<rect x="715.6" y="603.65" width="52.3" height="18.51" fill="#B4AFD8"/>
<rect x="770.1" y="603.65" width="52.3" height="18.51" fill="#F4F3F8"/>
<rect x="824.6" y="603.65" width="52.3" height="18.51" fill="#FEEDE8"/>
<rect x="879.1" y="603.65" width="52.3" height="18.51" fill="#ECEBF5"/>
<line x1="655" y1="633.61" x2="660.0" y2="633.61" stroke="#BBBBBB" stroke-width="0.8"/>
<line x1="932.5" y1="633.61" x2="937.5" y2="633.61" stroke="#E0E0E0" stroke-width="0.8"/>
<text x="649.6" y="633.61" font-size="9.2" text-anchor="end" font-weight="bold" fill="#333" dominant-baseline="central" >Mast cells activated</text>
<rect x="661.1" y="624.36" width="52.3" height="18.51" fill="#8E8ACA"/>
<rect x="715.6" y="624.36" width="52.3" height="18.51" fill="#FCA292"/>
<rect x="770.1" y="624.36" width="52.3" height="18.51" fill="#FDB2A4"/>
<rect x="824.6" y="624.36" width="52.3" height="18.51" fill="#FEF2EE"/>
<rect x="879.1" y="624.36" width="52.3" height="18.51" fill="#FDC4B6"/>
<line x1="655" y1="654.32" x2="660.0" y2="654.32" stroke="#BBBBBB" stroke-width="0.8"/>
<line x1="932.5" y1="654.32" x2="937.5" y2="654.32" stroke="#E0E0E0" stroke-width="0.8"/>
<text x="649.6" y="654.32" font-size="9.2" text-anchor="end" font-weight="bold" fill="#333" dominant-baseline="central" >Macrophages M2</text>
<rect x="661.1" y="645.06" width="52.3" height="18.51" fill="#FDD6CC"/>
<rect x="715.6" y="645.06" width="52.3" height="18.51" fill="#FEE6DE"/>
<rect x="770.1" y="645.06" width="52.3" height="18.51" fill="#F4705E"/>
<text x="796.25" y="654.02" font-size="8.5" text-anchor="middle" font-weight="bold" fill="#000" dominant-baseline="central" >*</text>
<rect x="824.6" y="645.06" width="52.3" height="18.51" fill="#E2E0F0"/>
<rect x="879.1" y="645.06" width="52.3" height="18.51" fill="#E8443A"/>
<text x="905.25" y="654.02" font-size="8.5" text-anchor="middle" font-weight="bold" fill="#000" dominant-baseline="central" >*</text>
<line x1="655" y1="675.02" x2="660.0" y2="675.02" stroke="#BBBBBB" stroke-width="0.8"/>
<line x1="932.5" y1="675.02" x2="937.5" y2="675.02" stroke="#E0E0E0" stroke-width="0.8"/>
<text x="649.6" y="675.02" font-size="9.2" text-anchor="end" font-weight="bold" fill="#333" dominant-baseline="central" >Macrophages M1</text>
<rect x="661.1" y="665.77" width="52.3" height="18.51" fill="#FCB2A2"/>
<rect x="715.6" y="665.77" width="52.3" height="18.51" fill="#D4D0E8"/>
<rect x="770.1" y="665.77" width="52.3" height="18.51" fill="#F6F6FA"/>
<rect x="824.6" y="665.77" width="52.3" height="18.51" fill="#FDC4B6"/>
<rect x="879.1" y="665.77" width="52.3" height="18.51" fill="#DCDAEE"/>
<line x1="655" y1="695.73" x2="660.0" y2="695.73" stroke="#BBBBBB" stroke-width="0.8"/>
<line x1="932.5" y1="695.73" x2="937.5" y2="695.73" stroke="#E0E0E0" stroke-width="0.8"/>
<text x="649.6" y="695.73" font-size="9.2" text-anchor="end" font-weight="bold" fill="#333" dominant-baseline="central" >Macrophages M0</text>
<rect x="661.1" y="686.48" width="52.3" height="18.51" fill="#C0BCE0"/>
<rect x="715.6" y="686.48" width="52.3" height="18.51" fill="#FCAE9E"/>
<rect x="770.1" y="686.48" width="52.3" height="18.51" fill="#E83030"/>
<text x="796.25" y="695.43" font-size="8.5" text-anchor="middle" font-weight="bold" fill="#000" dominant-baseline="central" >**</text>
<rect x="824.6" y="686.48" width="52.3" height="18.51" fill="#D0CCE8"/>
<rect x="879.1" y="686.48" width="52.3" height="18.51" fill="#FEECE6"/>
<line x1="655" y1="716.44" x2="660.0" y2="716.44" stroke="#BBBBBB" stroke-width="0.8"/>
<line x1="932.5" y1="716.44" x2="937.5" y2="716.44" stroke="#E0E0E0" stroke-width="0.8"/>
<text x="649.6" y="716.44" font-size="9.2" text-anchor="end" font-weight="bold" fill="#333" dominant-baseline="central" >Dendritic cells resting</text>
<rect x="661.1" y="707.18" width="52.3" height="18.51" fill="#F8F8FA"/>
<rect x="715.6" y="707.18" width="52.3" height="18.51" fill="#E4E2F2"/>
<rect x="770.1" y="707.18" width="52.3" height="18.51" fill="#F6F6FA"/>
<rect x="824.6" y="707.18" width="52.3" height="18.51" fill="#FCAC9C"/>
<rect x="879.1" y="707.18" width="52.3" height="18.51" fill="#FEFAF8"/>
<line x1="655" y1="737.14" x2="660.0" y2="737.14" stroke="#BBBBBB" stroke-width="0.8"/>
<line x1="932.5" y1="737.14" x2="937.5" y2="737.14" stroke="#E0E0E0" stroke-width="0.8"/>
<text x="649.6" y="737.14" font-size="9.2" text-anchor="end" font-weight="bold" fill="#333" dominant-baseline="central" >Dendritic cells activated</text>
<rect x="661.1" y="727.89" width="52.3" height="18.51" fill="#FEEEEA"/>
<rect x="715.6" y="727.89" width="52.3" height="18.51" fill="#FEE4DC"/>
<rect x="770.1" y="727.89" width="52.3" height="18.51" fill="#FDD2C6"/>
<rect x="824.6" y="727.89" width="52.3" height="18.51" fill="#FB8574"/>
<rect x="879.1" y="727.89" width="52.3" height="18.51" fill="#B4B0D8"/>
<line x1="655" y1="757.85" x2="660.0" y2="757.85" stroke="#BBBBBB" stroke-width="0.8"/>
<line x1="932.5" y1="757.85" x2="937.5" y2="757.85" stroke="#E0E0E0" stroke-width="0.8"/>
<text x="649.6" y="757.85" font-size="9.2" text-anchor="end" font-weight="bold" fill="#333" dominant-baseline="central" >B cells naive</text>
<rect x="661.1" y="748.59" width="52.3" height="18.51" fill="#FDD0C4"/>
<rect x="715.6" y="748.59" width="52.3" height="18.51" fill="#DCDAEE"/>
<rect x="770.1" y="748.59" width="52.3" height="18.51" fill="#7472BC"/>
<text x="796.25" y="757.55" font-size="8.5" text-anchor="middle" font-weight="bold" fill="#000" dominant-baseline="central" >*</text>
<rect x="824.6" y="748.59" width="52.3" height="18.51" fill="#C4C0E0"/>
<rect x="879.1" y="748.59" width="52.3" height="18.51" fill="#8C88C8"/>
<line x1="687.25" y1="768.2" x2="687.25" y2="771.2" stroke="#D8D8D8" stroke-width="0.8"/>
<text x="0" y="0" font-size="9.6" font-weight="bold" fill="#333" text-anchor="end" dominant-baseline="central" transform="translate(690.25,779) rotate(-45)">AC021321.1</text>
<line x1="741.75" y1="768.2" x2="741.75" y2="771.2" stroke="#D8D8D8" stroke-width="0.8"/>
<text x="0" y="0" font-size="9.6" font-weight="bold" fill="#333" text-anchor="end" dominant-baseline="central" transform="translate(744.75,779) rotate(-45)">LINC01775</text>
<line x1="796.25" y1="768.2" x2="796.25" y2="771.2" stroke="#D8D8D8" stroke-width="0.8"/>
<text x="0" y="0" font-size="9.6" font-weight="bold" fill="#333" text-anchor="end" dominant-baseline="central" transform="translate(799.25,779) rotate(-45)">LINC00601</text>
<line x1="850.75" y1="768.2" x2="850.75" y2="771.2" stroke="#D8D8D8" stroke-width="0.8"/>
<text x="0" y="0" font-size="9.6" font-weight="bold" fill="#333" text-anchor="end" dominant-baseline="central" transform="translate(853.75,779) rotate(-45)">EWSAT1</text>
<line x1="905.25" y1="768.2" x2="905.25" y2="771.2" stroke="#D8D8D8" stroke-width="0.8"/>
<text x="0" y="0" font-size="9.6" font-weight="bold" fill="#333" text-anchor="end" dominant-baseline="central" transform="translate(908.25,779) rotate(-45)">AC138696.2</text>
<text x="954.9" y="519.5" font-size="11" text-anchor="start" font-weight="normal" fill="#111" dominant-baseline="central" >***</text>
<text x="973.5" y="520.2" font-size="11" text-anchor="start" font-weight="normal" fill="#111" dominant-baseline="central" >p&lt;0.001</text>
<text x="954.9" y="532.2" font-size="11" text-anchor="start" font-weight="normal" fill="#111" dominant-baseline="central" >**</text>
<text x="968.9" y="532.6" font-size="11" text-anchor="start" font-weight="normal" fill="#111" dominant-baseline="central" >p&lt;0.01</text>
<text x="957.5" y="545" font-size="11" text-anchor="start" font-weight="normal" fill="#111" dominant-baseline="central" >*</text>
<text x="968" y="545" font-size="11" text-anchor="start" font-weight="normal" fill="#111" dominant-baseline="central" >p&lt;0.05</text>
<text x="954.6" y="570" font-size="11" text-anchor="start" font-weight="normal" fill="#111" dominant-baseline="central" >Correlation</text>
<defs><linearGradient id="dcb" x1="0" y1="0" x2="0" y2="1"><stop offset="0" stop-color="#E8302C"/><stop offset="0.5" stop-color="#FFFFFF"/><stop offset="1" stop-color="#4B4BA8"/></linearGradient></defs>
<rect x="954.1" y="580.5" width="17.6" height="90.2" fill="url(#dcb)"/>
<line x1="954.1" y1="601.8" x2="957.6" y2="601.8" stroke="#fff" stroke-width="0.8"/>
<line x1="968.2" y1="601.8" x2="971.7" y2="601.8" stroke="#fff" stroke-width="0.8"/>
<text x="977" y="601.8" font-size="9" text-anchor="start" font-weight="normal" fill="#222" dominant-baseline="central" >0.25</text>
<line x1="954.1" y1="625.6" x2="957.6" y2="625.6" stroke="#fff" stroke-width="0.8"/>
<line x1="968.2" y1="625.6" x2="971.7" y2="625.6" stroke="#fff" stroke-width="0.8"/>
<text x="977" y="625.6" font-size="9" text-anchor="start" font-weight="normal" fill="#222" dominant-baseline="central" >0.00</text>
<line x1="954.1" y1="649.3" x2="957.6" y2="649.3" stroke="#fff" stroke-width="0.8"/>
<line x1="968.2" y1="649.3" x2="971.7" y2="649.3" stroke="#fff" stroke-width="0.8"/>
<text x="977" y="649.3" font-size="9" text-anchor="start" font-weight="normal" fill="#222" dominant-baseline="central" >−0.25</text>
<path d="M88.1 873 L88.1 1197.8 L468.2 1197.8" fill="none" stroke="#222" stroke-width="1.3"/>
<line x1="191.9" y1="1197.8" x2="191.9" y2="1201" stroke="#333" stroke-width="1"/>
<line x1="364.5" y1="1197.8" x2="364.5" y2="1201" stroke="#333" stroke-width="1"/>
<text x="0" y="0" font-size="14.7" text-anchor="middle" font-weight="normal" fill="#000" dominant-baseline="central" transform="translate(191.9,1210.5) scale(0.83,1)">Low−risk</text>
<text x="0" y="0" font-size="14.7" text-anchor="middle" font-weight="normal" fill="#000" dominant-baseline="central" transform="translate(364.5,1210.5) scale(0.83,1)">High−risk</text>
<text x="94" y="859.7" font-size="21" font-weight="bold" fill="#000">TCGA</text>
<text x="0" y="0" font-size="15" text-anchor="start" font-weight="normal" fill="#111" dominant-baseline="central" transform="translate(195.3,841.5) scale(0.81,1)">Risk</text>
<rect x="225.3" y="832.3" width="17.5" height="18.5" fill="#0066FF" stroke="#111" stroke-width="1"/>
<text x="0" y="0" font-size="12.5" text-anchor="start" font-weight="normal" fill="#111" dominant-baseline="central" transform="translate(248.8,841.5) scale(0.81,1)">Low−risk</text>
<rect x="295.3" y="832.3" width="17" height="18.5" fill="#FF0000" stroke="#111" stroke-width="1"/>
<text x="0" y="0" font-size="12.5" text-anchor="start" font-weight="normal" fill="#111" dominant-baseline="central" transform="translate(317.8,841.5) scale(0.81,1)">High−risk</text>
<line x1="85.2" y1="884.05" x2="88.1" y2="884.05" stroke="#333" stroke-width="1"/>
<text x="0" y="0" font-size="14" text-anchor="end" font-weight="normal" fill="#000" dominant-baseline="central" transform="translate(82.3,884.05) scale(0.85,1)">1.5</text>
<line x1="85.2" y1="949.6" x2="88.1" y2="949.6" stroke="#333" stroke-width="1"/>
<text x="0" y="0" font-size="14" text-anchor="end" font-weight="normal" fill="#000" dominant-baseline="central" transform="translate(82.3,949.6) scale(0.85,1)">1.0</text>
<line x1="85.2" y1="1015.15" x2="88.1" y2="1015.15" stroke="#333" stroke-width="1"/>
<text x="0" y="0" font-size="14" text-anchor="end" font-weight="normal" fill="#000" dominant-baseline="central" transform="translate(82.3,1015.15) scale(0.85,1)">0.5</text>
<line x1="85.2" y1="1080.7" x2="88.1" y2="1080.7" stroke="#333" stroke-width="1"/>
<text x="0" y="0" font-size="14" text-anchor="end" font-weight="normal" fill="#000" dominant-baseline="central" transform="translate(82.3,1080.7) scale(0.85,1)">0.0</text>
<line x1="85.2" y1="1146.25" x2="88.1" y2="1146.25" stroke="#333" stroke-width="1"/>
<text x="0" y="0" font-size="14" text-anchor="end" font-weight="normal" fill="#000" dominant-baseline="central" transform="translate(82.3,1146.25) scale(0.85,1)">−0.5</text>
<text x="0" y="0" font-size="14" text-anchor="middle" font-weight="normal" fill="#111" dominant-baseline="central" transform="translate(49,1035) rotate(-90) scale(0.81,1)">TIDE</text>
<polygon points="191.9,889.95 191.85,890.28 191.81,890.61 191.77,890.93 191.72,891.26 191.68,891.59 191.64,891.92 191.59,892.24 191.53,892.57 191.47,892.9 191.4,893.23 191.3,893.57 191.16,893.91 190.99,894.25 190.79,894.6 190.56,894.94 190.3,895.28 190.03,895.62 189.74,895.96 189.44,896.31 189.14,896.65 188.83,896.99 188.52,897.33 188.22,897.67 187.93,898.02 187.65,898.36 187.39,898.7 187.15,899.04 186.94,899.38 186.76,899.73 186.61,900.07 186.49,900.41 186.42,900.75 186.4,901.09 186.42,901.42 186.49,901.75 186.6,902.08 186.74,902.4 186.92,902.73 187.12,903.06 187.35,903.39 187.61,903.72 187.87,904.04 188.16,904.37 188.45,904.7 188.75,905.03 189.05,905.35 189.35,905.68 189.64,906.01 189.92,906.34 190.19,906.66 190.45,906.99 190.68,907.32 190.89,907.65 191.07,907.98 191.22,908.3 191.33,908.63 191.4,908.96 191.45,909.29 191.5,909.61 191.55,909.94 191.59,910.27 191.63,910.6 191.67,910.93 191.7,911.25 191.73,911.58 191.75,911.91 191.77,912.24 191.78,912.56 191.78,912.89 191.78,913.22 191.78,913.55 191.78,913.88 191.78,914.2 191.78,914.53 191.78,914.86 191.78,915.19 191.78,915.51 191.78,915.84 191.78,916.17 191.78,916.5 191.78,916.83 191.78,917.15 191.78,917.48 191.78,917.81 191.78,918.14 191.78,918.46 191.78,918.79 191.78,919.12 191.78,919.45 191.78,919.77 191.78,920.1 191.78,920.43 191.78,920.76 191.78,921.09 191.78,921.41 191.78,921.74 191.78,922.07 191.78,922.4 191.78,922.72 191.78,923.05 191.78,923.38 191.78,923.71 191.78,924.04 191.78,924.36 191.78,924.69 191.78,925.02 191.78,925.35 191.78,925.67 191.78,926 191.78,926.33 191.78,926.66 191.78,926.99 191.78,927.31 191.78,927.64 191.78,927.97 191.78,928.3 191.78,928.62 191.78,928.95 191.78,929.28 191.78,929.61 191.78,929.94 191.78,930.26 191.78,930.59 191.78,930.92 191.78,931.25 191.78,931.57 191.78,931.9 191.78,932.23 191.78,932.56 191.78,932.88 191.78,933.21 191.78,933.54 191.78,933.87 191.78,934.2 191.78,934.52 191.78,934.85 191.78,935.18 191.78,935.51 191.78,935.83 191.78,936.16 191.78,936.49 191.78,936.82 191.78,937.15 191.78,937.47 191.78,937.8 191.78,938.13 191.78,938.46 191.78,938.78 191.78,939.11 191.78,939.44 191.78,939.77 191.78,940.1 191.78,940.42 191.78,940.75 191.78,941.08 191.78,941.41 191.78,941.73 191.78,942.06 191.78,942.39 191.78,942.72 191.78,943.05 191.78,943.37 191.78,943.7 191.78,944.03 191.78,944.36 191.78,944.68 191.78,945.01 191.78,945.34 191.78,945.67 191.78,945.99 191.78,946.32 191.78,946.65 191.78,946.98 191.78,947.31 191.78,947.63 191.78,947.96 191.78,948.29 191.78,948.62 191.78,948.94 191.78,949.27 191.78,949.6 191.78,949.93 191.78,950.26 191.78,950.58 191.78,950.91 191.78,951.24 191.78,951.57 191.78,951.89 191.78,952.22 191.78,952.55 191.78,952.88 191.78,953.21 191.78,953.53 191.78,953.86 191.78,954.19 191.78,954.52 191.78,954.84 191.78,955.17 191.78,955.5 191.78,955.83 191.78,956.16 191.78,956.48 191.78,956.81 191.78,957.14 191.78,957.47 191.78,957.79 191.78,958.12 191.78,958.45 191.78,958.78 191.78,959.1 191.78,959.43 191.78,959.76 191.78,960.09 191.78,960.42 191.78,960.74 191.78,961.07 191.78,961.4 191.78,961.73 191.78,962.05 191.78,962.38 191.78,962.71 191.78,963.04 191.78,963.37 191.78,963.69 191.78,964.02 191.78,964.35 191.78,964.68 191.78,965 191.78,965.33 191.78,965.66 191.78,965.99 191.78,966.32 191.78,966.64 191.78,966.97 191.78,967.3 191.78,967.63 191.78,967.95 191.78,968.28 191.78,968.61 191.78,968.94 191.78,969.27 191.78,969.59 191.78,969.92 191.78,970.25 191.78,970.58 191.78,970.9 191.78,971.23 191.78,971.56 191.78,971.89 191.78,972.21 191.78,972.54 191.78,972.87 191.78,973.2 191.78,973.53 191.78,973.85 191.78,974.18 191.78,974.51 191.78,974.84 191.78,975.16 191.78,975.49 191.78,975.82 191.78,976.15 191.78,976.48 191.78,976.8 191.78,977.13 191.78,977.46 191.78,977.79 191.78,978.11 191.78,978.44 191.78,978.77 191.78,979.1 191.78,979.43 191.78,979.75 191.78,980.08 191.78,980.41 191.78,980.74 191.78,981.06 191.78,981.39 191.78,981.72 191.78,982.05 191.78,982.38 191.78,982.7 191.78,983.03 191.78,983.36 191.78,983.69 191.78,984.01 191.78,984.34 191.78,984.67 191.78,985 191.78,985.32 191.78,985.65 191.78,985.98 191.78,986.31 191.78,986.64 191.78,986.96 191.78,987.29 191.78,987.62 191.78,987.95 191.78,988.27 191.78,988.6 191.78,988.93 191.78,989.26 191.78,989.59 191.78,989.91 191.78,990.24 191.78,990.57 191.78,990.9 191.78,991.22 191.78,991.55 191.78,991.88 191.78,992.21 191.78,992.54 191.78,992.86 191.78,993.19 191.78,993.52 191.78,993.85 191.78,994.17 191.78,994.5 191.78,994.83 191.78,995.16 191.78,995.49 191.78,995.81 191.78,996.14 191.78,996.47 191.78,996.8 191.78,997.12 191.78,997.45 191.78,997.78 191.78,998.11 191.78,998.43 191.78,998.76 191.78,999.09 191.78,999.42 191.78,999.75 191.78,1000.07 191.78,1000.4 191.78,1000.73 191.78,1001.06 191.78,1001.38 191.78,1001.71 191.78,1002.04 191.78,1002.37 191.78,1002.7 191.78,1003.02 191.78,1003.35 191.78,1003.68 191.78,1004.01 191.78,1004.33 191.78,1004.66 191.78,1004.99 191.78,1005.32 191.78,1005.65 191.78,1005.97 191.78,1006.3 191.78,1006.63 191.78,1006.96 191.78,1007.28 191.78,1007.61 191.78,1007.94 191.78,1008.27 191.78,1008.6 191.78,1008.92 191.78,1009.25 191.78,1009.58 191.78,1009.91 191.78,1010.23 191.78,1010.56 191.78,1010.89 191.78,1011.22 191.78,1011.54 191.78,1011.87 191.78,1012.2 191.78,1012.53 191.78,1012.86 191.78,1013.18 191.78,1013.51 191.78,1013.84 191.78,1014.17 191.78,1014.49 191.78,1014.82 191.78,1015.15 191.78,1015.48 191.78,1015.81 191.78,1016.13 191.78,1016.46 191.78,1016.79 191.78,1017.12 191.78,1017.44 191.78,1017.77 191.78,1018.1 191.78,1018.43 191.78,1018.76 191.78,1019.08 191.78,1019.41 191.78,1019.74 191.78,1020.07 191.78,1020.39 191.78,1020.72 191.78,1021.05 191.78,1021.38 191.78,1021.71 191.78,1022.03 191.78,1022.36 191.78,1022.69 191.78,1023.02 191.78,1023.34 191.78,1023.67 191.78,1024 191.78,1024.33 191.78,1024.65 191.78,1024.98 191.78,1025.31 191.78,1025.64 191.78,1025.97 191.78,1026.29 191.78,1026.62 191.78,1026.95 191.78,1027.28 191.78,1027.6 191.78,1027.93 191.78,1028.26 191.78,1028.59 191.78,1028.92 191.78,1029.24 191.78,1029.57 191.78,1029.9 191.78,1030.23 191.78,1030.55 191.78,1030.88 191.78,1031.21 191.78,1031.54 191.78,1031.87 191.78,1032.19 191.78,1032.52 191.78,1032.85 191.78,1033.18 191.78,1033.5 191.78,1033.83 191.78,1034.16 191.78,1034.49 191.78,1034.82 191.78,1035.14 191.78,1035.47 191.78,1035.8 191.78,1036.13 191.78,1036.45 191.78,1036.78 191.78,1037.11 191.78,1037.44 191.78,1037.76 191.78,1038.09 191.78,1038.42 191.78,1038.75 191.78,1039.08 191.78,1039.4 191.78,1039.73 191.78,1040.06 191.78,1040.39 191.78,1040.71 191.78,1041.04 191.78,1041.37 191.78,1041.7 191.78,1042.03 191.78,1042.35 191.78,1042.68 191.78,1043.01 191.78,1043.34 191.78,1043.66 191.78,1043.99 191.78,1044.32 191.78,1044.65 191.78,1044.98 191.78,1045.3 191.78,1045.63 191.78,1045.96 191.78,1046.29 191.78,1046.61 191.78,1046.94 191.78,1047.27 191.78,1047.6 191.78,1047.92 191.78,1048.25 191.78,1048.58 191.78,1048.91 191.78,1049.24 191.78,1049.56 191.78,1049.89 191.78,1050.22 191.78,1050.55 191.78,1050.87 191.78,1051.2 191.78,1051.53 191.78,1051.86 191.78,1052.19 191.78,1052.51 191.78,1052.84 191.78,1053.17 191.78,1053.5 191.78,1053.82 191.78,1054.15 191.78,1054.48 191.78,1054.81 191.78,1055.14 191.78,1055.46 191.78,1055.79 191.78,1056.12 191.78,1056.45 191.78,1056.77 191.78,1057.1 191.78,1057.43 191.78,1057.76 191.78,1058.09 191.78,1058.41 191.78,1058.74 191.78,1059.07 191.78,1059.4 191.78,1059.72 191.78,1060.05 191.78,1060.38 191.78,1060.71 191.78,1061.04 191.77,1061.38 191.74,1061.73 191.7,1062.07 191.64,1062.41 191.56,1062.76 191.47,1063.11 191.37,1063.45 191.26,1063.8 191.14,1064.14 191.01,1064.49 190.88,1064.83 190.74,1065.17 190.59,1065.52 190.44,1065.87 190.29,1066.21 190.14,1066.56 189.99,1066.9 189.85,1067.25 189.7,1067.59 189.57,1067.92 189.43,1068.25 189.3,1068.57 189.16,1068.9 189.01,1069.23 188.84,1069.56 188.64,1069.88 188.43,1070.21 188.18,1070.54 187.9,1070.87 187.44,1071.23 186.76,1071.6 185.89,1071.96 184.88,1072.32 183.75,1072.69 182.55,1073.05 181.32,1073.42 180.09,1073.78 178.9,1074.14 177.85,1074.47 176.76,1074.8 175.65,1075.13 174.51,1075.46 173.33,1075.78 172.12,1076.11 170.86,1076.44 169.57,1076.77 168.22,1077.09 166.83,1077.42 165.39,1077.75 163.9,1078.08 162.27,1078.41 160.47,1078.73 158.54,1079.06 156.55,1079.39 154.53,1079.72 152.55,1080.04 150.65,1080.37 148.9,1080.7 147.23,1081.03 145.57,1081.36 143.91,1081.68 142.25,1082.01 140.61,1082.34 138.98,1082.67 137.38,1082.99 135.79,1083.32 134.23,1083.65 132.71,1083.98 131.21,1084.31 129.76,1084.63 128.34,1084.96 126.97,1085.29 125.65,1085.62 124.38,1085.94 123.17,1086.27 122.01,1086.6 120.92,1086.93 119.9,1087.26 118.9,1087.58 117.88,1087.91 116.85,1088.24 115.81,1088.57 114.78,1088.89 113.75,1089.22 112.75,1089.55 111.77,1089.88 110.83,1090.2 109.93,1090.53 109.08,1090.86 108.28,1091.19 107.55,1091.52 106.89,1091.84 106.32,1092.17 105.83,1092.5 105.43,1092.83 105.14,1093.15 104.96,1093.48 104.9,1093.81 105,1094.15 105.28,1094.5 105.74,1094.85 106.35,1095.19 107.1,1095.54 107.98,1095.88 108.96,1096.23 110.05,1096.57 111.21,1096.91 112.44,1097.26 113.71,1097.61 115.03,1097.95 116.36,1098.3 117.69,1098.64 119.02,1098.99 120.31,1099.33 121.57,1099.67 122.77,1100.02 123.9,1100.37 124.94,1100.69 126.01,1101.02 127.08,1101.35 128.18,1101.68 129.29,1102 130.41,1102.33 131.54,1102.66 132.68,1102.99 133.82,1103.31 134.98,1103.64 136.13,1103.97 137.29,1104.3 138.45,1104.63 139.6,1104.95 140.75,1105.28 141.9,1105.61 143.06,1105.94 144.26,1106.26 145.49,1106.59 146.74,1106.92 148.01,1107.25 149.3,1107.58 150.6,1107.9 151.91,1108.23 153.22,1108.56 154.53,1108.89 155.83,1109.21 157.11,1109.54 158.38,1109.87 159.63,1110.2 160.85,1110.53 162.04,1110.85 163.2,1111.18 164.32,1111.51 165.39,1111.84 166.41,1112.16 167.37,1112.49 168.28,1112.82 169.12,1113.15 169.9,1113.48 170.63,1113.8 171.35,1114.13 172.05,1114.46 172.74,1114.79 173.42,1115.11 174.07,1115.44 174.72,1115.77 175.34,1116.1 175.95,1116.42 176.54,1116.75 177.12,1117.08 177.68,1117.41 178.22,1117.74 178.74,1118.06 179.24,1118.39 179.73,1118.72 180.19,1119.05 180.64,1119.37 181.07,1119.7 181.48,1120.03 181.86,1120.36 182.23,1120.69 182.58,1121.01 182.9,1121.34 183.23,1121.69 183.55,1122.03 183.87,1122.38 184.19,1122.72 184.5,1123.07 184.79,1123.41 185.08,1123.76 185.36,1124.1 185.63,1124.45 185.88,1124.79 186.12,1125.14 186.35,1125.48 186.55,1125.83 186.75,1126.17 186.92,1126.52 187.07,1126.86 187.2,1127.21 187.31,1127.55 187.4,1127.9 187.47,1128.22 187.54,1128.55 187.61,1128.88 187.67,1129.21 187.73,1129.53 187.79,1129.86 187.84,1130.19 187.89,1130.52 187.94,1130.85 187.98,1131.17 188.01,1131.5 188.04,1131.83 188.07,1132.16 188.09,1132.48 188.1,1132.81 188.1,1133.14 188.08,1133.49 188.04,1133.84 187.98,1134.19 187.89,1134.54 187.79,1134.89 187.68,1135.24 187.56,1135.59 187.44,1135.94 187.32,1136.29 187.21,1136.64 187.11,1136.99 187.02,1137.34 186.96,1137.68 186.92,1138.03 186.9,1138.38 186.92,1138.73 186.97,1139.08 187.05,1139.43 187.15,1139.78 187.28,1140.13 187.42,1140.48 187.58,1140.83 187.75,1141.18 187.93,1141.53 188.1,1141.88 188.28,1142.23 188.45,1142.58 188.61,1142.93 188.77,1143.28 188.9,1143.63 189.02,1143.96 189.15,1144.28 189.29,1144.61 189.43,1144.94 189.57,1145.27 189.72,1145.59 189.87,1145.92 190.01,1146.25 190.15,1146.58 190.29,1146.91 190.43,1147.23 190.55,1147.56 190.67,1147.89 190.77,1148.22 190.87,1148.54 190.95,1148.87 191.01,1149.2 191.06,1149.53 191.09,1149.86 191.1,1150.18 191.1,1150.52 191.1,1150.86 191.1,1151.2 191.1,1151.54 191.1,1151.88 191.1,1152.22 191.1,1152.56 191.1,1152.9 191.1,1153.24 191.1,1153.58 191.1,1153.92 191.1,1154.26 191.1,1154.6 191.1,1154.94 191.1,1155.28 191.1,1155.62 191.1,1155.96 191.1,1156.3 191.1,1156.64 191.1,1156.98 191.1,1157.32 191.1,1157.66 191.1,1158 191.1,1158.34 191.1,1158.68 191.1,1159.02 191.1,1159.36 191.09,1159.69 191.06,1160.02 191.01,1160.34 190.95,1160.67 190.87,1161 190.77,1161.33 190.67,1161.65 190.55,1161.98 190.43,1162.31 190.29,1162.64 190.15,1162.97 190.01,1163.29 189.87,1163.62 189.72,1163.95 189.57,1164.28 189.43,1164.6 189.29,1164.93 189.15,1165.26 189.02,1165.59 188.9,1165.91 188.77,1166.26 188.61,1166.61 188.45,1166.96 188.28,1167.31 188.1,1167.66 187.93,1168.01 187.75,1168.36 187.58,1168.71 187.42,1169.06 187.28,1169.41 187.15,1169.76 187.05,1170.11 186.97,1170.46 186.92,1170.81 186.9,1171.16 186.91,1171.49 186.96,1171.81 187.03,1172.14 187.11,1172.47 187.22,1172.8 187.35,1173.13 187.49,1173.45 187.64,1173.78 187.8,1174.11 187.96,1174.44 188.13,1174.76 188.29,1175.09 188.46,1175.42 188.61,1175.75 188.76,1176.08 188.9,1176.4 189.03,1176.73 189.16,1177.06 189.3,1177.39 189.43,1177.71 189.56,1178.04 189.7,1178.37 189.83,1178.7 189.97,1179.03 190.11,1179.35 190.25,1179.68 190.38,1180.01 190.52,1180.34 190.66,1180.66 190.8,1180.99 190.94,1181.32 191.07,1181.65 191.21,1181.97 191.35,1182.3 191.49,1182.63 191.63,1182.96 191.76,1183.29 191.9,1183.61 191.9,1183.61 192.04,1183.29 192.17,1182.96 192.31,1182.63 192.45,1182.3 192.59,1181.97 192.73,1181.65 192.86,1181.32 193,1180.99 193.14,1180.66 193.28,1180.34 193.42,1180.01 193.55,1179.68 193.69,1179.35 193.83,1179.03 193.97,1178.7 194.1,1178.37 194.24,1178.04 194.37,1177.71 194.5,1177.39 194.64,1177.06 194.77,1176.73 194.9,1176.4 195.04,1176.08 195.19,1175.75 195.34,1175.42 195.51,1175.09 195.67,1174.76 195.84,1174.44 196,1174.11 196.16,1173.78 196.31,1173.45 196.45,1173.13 196.58,1172.8 196.69,1172.47 196.77,1172.14 196.84,1171.81 196.89,1171.49 196.9,1171.16 196.88,1170.81 196.83,1170.46 196.75,1170.11 196.65,1169.76 196.52,1169.41 196.38,1169.06 196.22,1168.71 196.05,1168.36 195.87,1168.01 195.7,1167.66 195.52,1167.31 195.35,1166.96 195.19,1166.61 195.03,1166.26 194.9,1165.91 194.78,1165.59 194.65,1165.26 194.51,1164.93 194.37,1164.6 194.23,1164.28 194.08,1163.95 193.93,1163.62 193.79,1163.29 193.65,1162.97 193.51,1162.64 193.37,1162.31 193.25,1161.98 193.13,1161.65 193.03,1161.33 192.93,1161 192.85,1160.67 192.79,1160.34 192.74,1160.02 192.71,1159.69 192.7,1159.36 192.7,1159.02 192.7,1158.68 192.7,1158.34 192.7,1158 192.7,1157.66 192.7,1157.32 192.7,1156.98 192.7,1156.64 192.7,1156.3 192.7,1155.96 192.7,1155.62 192.7,1155.28 192.7,1154.94 192.7,1154.6 192.7,1154.26 192.7,1153.92 192.7,1153.58 192.7,1153.24 192.7,1152.9 192.7,1152.56 192.7,1152.22 192.7,1151.88 192.7,1151.54 192.7,1151.2 192.7,1150.86 192.7,1150.52 192.7,1150.18 192.71,1149.86 192.74,1149.53 192.79,1149.2 192.85,1148.87 192.93,1148.54 193.03,1148.22 193.13,1147.89 193.25,1147.56 193.37,1147.23 193.51,1146.91 193.65,1146.58 193.79,1146.25 193.93,1145.92 194.08,1145.59 194.23,1145.27 194.37,1144.94 194.51,1144.61 194.65,1144.28 194.78,1143.96 194.9,1143.63 195.03,1143.28 195.19,1142.93 195.35,1142.58 195.52,1142.23 195.7,1141.88 195.87,1141.53 196.05,1141.18 196.22,1140.83 196.38,1140.48 196.52,1140.13 196.65,1139.78 196.75,1139.43 196.83,1139.08 196.88,1138.73 196.9,1138.38 196.88,1138.03 196.84,1137.68 196.78,1137.34 196.69,1136.99 196.59,1136.64 196.48,1136.29 196.36,1135.94 196.24,1135.59 196.12,1135.24 196.01,1134.89 195.91,1134.54 195.82,1134.19 195.76,1133.84 195.72,1133.49 195.7,1133.14 195.7,1132.81 195.71,1132.48 195.73,1132.16 195.76,1131.83 195.79,1131.5 195.82,1131.17 195.86,1130.85 195.91,1130.52 195.96,1130.19 196.01,1129.86 196.07,1129.53 196.13,1129.21 196.19,1128.88 196.26,1128.55 196.33,1128.22 196.4,1127.9 196.49,1127.55 196.6,1127.21 196.73,1126.86 196.88,1126.52 197.05,1126.17 197.25,1125.83 197.45,1125.48 197.68,1125.14 197.92,1124.79 198.17,1124.45 198.44,1124.1 198.72,1123.76 199.01,1123.41 199.3,1123.07 199.61,1122.72 199.93,1122.38 200.25,1122.03 200.57,1121.69 200.9,1121.34 201.22,1121.01 201.57,1120.69 201.94,1120.36 202.32,1120.03 202.73,1119.7 203.16,1119.37 203.61,1119.05 204.07,1118.72 204.56,1118.39 205.06,1118.06 205.58,1117.74 206.12,1117.41 206.68,1117.08 207.26,1116.75 207.85,1116.42 208.46,1116.1 209.08,1115.77 209.73,1115.44 210.38,1115.11 211.06,1114.79 211.75,1114.46 212.45,1114.13 213.17,1113.8 213.9,1113.48 214.68,1113.15 215.52,1112.82 216.43,1112.49 217.39,1112.16 218.41,1111.84 219.48,1111.51 220.6,1111.18 221.76,1110.85 222.95,1110.53 224.17,1110.2 225.42,1109.87 226.69,1109.54 227.97,1109.21 229.27,1108.89 230.58,1108.56 231.89,1108.23 233.2,1107.9 234.5,1107.58 235.79,1107.25 237.06,1106.92 238.31,1106.59 239.54,1106.26 240.74,1105.94 241.9,1105.61 243.05,1105.28 244.2,1104.95 245.35,1104.63 246.51,1104.3 247.67,1103.97 248.82,1103.64 249.98,1103.31 251.12,1102.99 252.26,1102.66 253.39,1102.33 254.51,1102 255.62,1101.68 256.72,1101.35 257.79,1101.02 258.86,1100.69 259.9,1100.37 261.03,1100.02 262.23,1099.67 263.49,1099.33 264.78,1098.99 266.11,1098.64 267.44,1098.3 268.77,1097.95 270.09,1097.61 271.36,1097.26 272.59,1096.91 273.75,1096.57 274.84,1096.23 275.82,1095.88 276.7,1095.54 277.45,1095.19 278.06,1094.85 278.52,1094.5 278.8,1094.15 278.9,1093.81 278.84,1093.48 278.66,1093.15 278.37,1092.83 277.97,1092.5 277.48,1092.17 276.91,1091.84 276.25,1091.52 275.52,1091.19 274.72,1090.86 273.87,1090.53 272.97,1090.2 272.03,1089.88 271.05,1089.55 270.05,1089.22 269.02,1088.89 267.99,1088.57 266.95,1088.24 265.92,1087.91 264.9,1087.58 263.9,1087.26 262.88,1086.93 261.79,1086.6 260.63,1086.27 259.42,1085.94 258.15,1085.62 256.83,1085.29 255.46,1084.96 254.04,1084.63 252.59,1084.31 251.09,1083.98 249.57,1083.65 248.01,1083.32 246.42,1082.99 244.82,1082.67 243.19,1082.34 241.55,1082.01 239.89,1081.68 238.23,1081.36 236.57,1081.03 234.9,1080.7 233.15,1080.37 231.25,1080.04 229.27,1079.72 227.25,1079.39 225.26,1079.06 223.33,1078.73 221.53,1078.41 219.9,1078.08 218.41,1077.75 216.97,1077.42 215.58,1077.09 214.23,1076.77 212.94,1076.44 211.68,1076.11 210.47,1075.78 209.29,1075.46 208.15,1075.13 207.04,1074.8 205.95,1074.47 204.9,1074.14 203.71,1073.78 202.48,1073.42 201.25,1073.05 200.05,1072.69 198.92,1072.32 197.91,1071.96 197.04,1071.6 196.36,1071.23 195.9,1070.87 195.62,1070.54 195.37,1070.21 195.16,1069.88 194.96,1069.56 194.79,1069.23 194.64,1068.9 194.5,1068.57 194.37,1068.25 194.23,1067.92 194.1,1067.59 193.95,1067.25 193.81,1066.9 193.66,1066.56 193.51,1066.21 193.36,1065.87 193.21,1065.52 193.06,1065.17 192.92,1064.83 192.79,1064.49 192.66,1064.14 192.54,1063.8 192.43,1063.45 192.33,1063.11 192.24,1062.76 192.16,1062.41 192.1,1062.07 192.06,1061.73 192.03,1061.38 192.02,1061.04 192.02,1060.71 192.02,1060.38 192.02,1060.05 192.02,1059.72 192.02,1059.4 192.02,1059.07 192.02,1058.74 192.02,1058.41 192.02,1058.09 192.02,1057.76 192.02,1057.43 192.02,1057.1 192.02,1056.77 192.02,1056.45 192.02,1056.12 192.02,1055.79 192.02,1055.46 192.02,1055.14 192.02,1054.81 192.02,1054.48 192.02,1054.15 192.02,1053.82 192.02,1053.5 192.02,1053.17 192.02,1052.84 192.02,1052.51 192.02,1052.19 192.02,1051.86 192.02,1051.53 192.02,1051.2 192.02,1050.87 192.02,1050.55 192.02,1050.22 192.02,1049.89 192.02,1049.56 192.02,1049.24 192.02,1048.91 192.02,1048.58 192.02,1048.25 192.02,1047.92 192.02,1047.6 192.02,1047.27 192.02,1046.94 192.02,1046.61 192.02,1046.29 192.02,1045.96 192.02,1045.63 192.02,1045.3 192.02,1044.98 192.02,1044.65 192.02,1044.32 192.02,1043.99 192.02,1043.66 192.02,1043.34 192.02,1043.01 192.02,1042.68 192.02,1042.35 192.02,1042.03 192.02,1041.7 192.02,1041.37 192.02,1041.04 192.02,1040.71 192.02,1040.39 192.02,1040.06 192.02,1039.73 192.02,1039.4 192.02,1039.08 192.02,1038.75 192.02,1038.42 192.02,1038.09 192.02,1037.76 192.02,1037.44 192.02,1037.11 192.02,1036.78 192.02,1036.45 192.02,1036.13 192.02,1035.8 192.02,1035.47 192.02,1035.14 192.02,1034.82 192.02,1034.49 192.02,1034.16 192.02,1033.83 192.02,1033.5 192.02,1033.18 192.02,1032.85 192.02,1032.52 192.02,1032.19 192.02,1031.87 192.02,1031.54 192.02,1031.21 192.02,1030.88 192.02,1030.55 192.02,1030.23 192.02,1029.9 192.02,1029.57 192.02,1029.24 192.02,1028.92 192.02,1028.59 192.02,1028.26 192.02,1027.93 192.02,1027.6 192.02,1027.28 192.02,1026.95 192.02,1026.62 192.02,1026.29 192.02,1025.97 192.02,1025.64 192.02,1025.31 192.02,1024.98 192.02,1024.65 192.02,1024.33 192.02,1024 192.02,1023.67 192.02,1023.34 192.02,1023.02 192.02,1022.69 192.02,1022.36 192.02,1022.03 192.02,1021.71 192.02,1021.38 192.02,1021.05 192.02,1020.72 192.02,1020.39 192.02,1020.07 192.02,1019.74 192.02,1019.41 192.02,1019.08 192.02,1018.76 192.02,1018.43 192.02,1018.1 192.02,1017.77 192.02,1017.44 192.02,1017.12 192.02,1016.79 192.02,1016.46 192.02,1016.13 192.02,1015.81 192.02,1015.48 192.02,1015.15 192.02,1014.82 192.02,1014.49 192.02,1014.17 192.02,1013.84 192.02,1013.51 192.02,1013.18 192.02,1012.86 192.02,1012.53 192.02,1012.2 192.02,1011.87 192.02,1011.54 192.02,1011.22 192.02,1010.89 192.02,1010.56 192.02,1010.23 192.02,1009.91 192.02,1009.58 192.02,1009.25 192.02,1008.92 192.02,1008.6 192.02,1008.27 192.02,1007.94 192.02,1007.61 192.02,1007.28 192.02,1006.96 192.02,1006.63 192.02,1006.3 192.02,1005.97 192.02,1005.65 192.02,1005.32 192.02,1004.99 192.02,1004.66 192.02,1004.33 192.02,1004.01 192.02,1003.68 192.02,1003.35 192.02,1003.02 192.02,1002.7 192.02,1002.37 192.02,1002.04 192.02,1001.71 192.02,1001.38 192.02,1001.06 192.02,1000.73 192.02,1000.4 192.02,1000.07 192.02,999.75 192.02,999.42 192.02,999.09 192.02,998.76 192.02,998.43 192.02,998.11 192.02,997.78 192.02,997.45 192.02,997.12 192.02,996.8 192.02,996.47 192.02,996.14 192.02,995.81 192.02,995.49 192.02,995.16 192.02,994.83 192.02,994.5 192.02,994.17 192.02,993.85 192.02,993.52 192.02,993.19 192.02,992.86 192.02,992.54 192.02,992.21 192.02,991.88 192.02,991.55 192.02,991.22 192.02,990.9 192.02,990.57 192.02,990.24 192.02,989.91 192.02,989.59 192.02,989.26 192.02,988.93 192.02,988.6 192.02,988.27 192.02,987.95 192.02,987.62 192.02,987.29 192.02,986.96 192.02,986.64 192.02,986.31 192.02,985.98 192.02,985.65 192.02,985.32 192.02,985 192.02,984.67 192.02,984.34 192.02,984.01 192.02,983.69 192.02,983.36 192.02,983.03 192.02,982.7 192.02,982.38 192.02,982.05 192.02,981.72 192.02,981.39 192.02,981.06 192.02,980.74 192.02,980.41 192.02,980.08 192.02,979.75 192.02,979.43 192.02,979.1 192.02,978.77 192.02,978.44 192.02,978.11 192.02,977.79 192.02,977.46 192.02,977.13 192.02,976.8 192.02,976.48 192.02,976.15 192.02,975.82 192.02,975.49 192.02,975.16 192.02,974.84 192.02,974.51 192.02,974.18 192.02,973.85 192.02,973.53 192.02,973.2 192.02,972.87 192.02,972.54 192.02,972.21 192.02,971.89 192.02,971.56 192.02,971.23 192.02,970.9 192.02,970.58 192.02,970.25 192.02,969.92 192.02,969.59 192.02,969.27 192.02,968.94 192.02,968.61 192.02,968.28 192.02,967.95 192.02,967.63 192.02,967.3 192.02,966.97 192.02,966.64 192.02,966.32 192.02,965.99 192.02,965.66 192.02,965.33 192.02,965 192.02,964.68 192.02,964.35 192.02,964.02 192.02,963.69 192.02,963.37 192.02,963.04 192.02,962.71 192.02,962.38 192.02,962.05 192.02,961.73 192.02,961.4 192.02,961.07 192.02,960.74 192.02,960.42 192.02,960.09 192.02,959.76 192.02,959.43 192.02,959.1 192.02,958.78 192.02,958.45 192.02,958.12 192.02,957.79 192.02,957.47 192.02,957.14 192.02,956.81 192.02,956.48 192.02,956.16 192.02,955.83 192.02,955.5 192.02,955.17 192.02,954.84 192.02,954.52 192.02,954.19 192.02,953.86 192.02,953.53 192.02,953.21 192.02,952.88 192.02,952.55 192.02,952.22 192.02,951.89 192.02,951.57 192.02,951.24 192.02,950.91 192.02,950.58 192.02,950.26 192.02,949.93 192.02,949.6 192.02,949.27 192.02,948.94 192.02,948.62 192.02,948.29 192.02,947.96 192.02,947.63 192.02,947.31 192.02,946.98 192.02,946.65 192.02,946.32 192.02,945.99 192.02,945.67 192.02,945.34 192.02,945.01 192.02,944.68 192.02,944.36 192.02,944.03 192.02,943.7 192.02,943.37 192.02,943.05 192.02,942.72 192.02,942.39 192.02,942.06 192.02,941.73 192.02,941.41 192.02,941.08 192.02,940.75 192.02,940.42 192.02,940.1 192.02,939.77 192.02,939.44 192.02,939.11 192.02,938.78 192.02,938.46 192.02,938.13 192.02,937.8 192.02,937.47 192.02,937.15 192.02,936.82 192.02,936.49 192.02,936.16 192.02,935.83 192.02,935.51 192.02,935.18 192.02,934.85 192.02,934.52 192.02,934.2 192.02,933.87 192.02,933.54 192.02,933.21 192.02,932.88 192.02,932.56 192.02,932.23 192.02,931.9 192.02,931.57 192.02,931.25 192.02,930.92 192.02,930.59 192.02,930.26 192.02,929.94 192.02,929.61 192.02,929.28 192.02,928.95 192.02,928.62 192.02,928.3 192.02,927.97 192.02,927.64 192.02,927.31 192.02,926.99 192.02,926.66 192.02,926.33 192.02,926 192.02,925.67 192.02,925.35 192.02,925.02 192.02,924.69 192.02,924.36 192.02,924.04 192.02,923.71 192.02,923.38 192.02,923.05 192.02,922.72 192.02,922.4 192.02,922.07 192.02,921.74 192.02,921.41 192.02,921.09 192.02,920.76 192.02,920.43 192.02,920.1 192.02,919.77 192.02,919.45 192.02,919.12 192.02,918.79 192.02,918.46 192.02,918.14 192.02,917.81 192.02,917.48 192.02,917.15 192.02,916.83 192.02,916.5 192.02,916.17 192.02,915.84 192.02,915.51 192.02,915.19 192.02,914.86 192.02,914.53 192.02,914.2 192.02,913.88 192.02,913.55 192.02,913.22 192.02,912.89 192.02,912.56 192.03,912.24 192.05,911.91 192.07,911.58 192.1,911.25 192.13,910.93 192.17,910.6 192.21,910.27 192.25,909.94 192.3,909.61 192.35,909.29 192.4,908.96 192.47,908.63 192.58,908.3 192.73,907.98 192.91,907.65 193.12,907.32 193.35,906.99 193.61,906.66 193.88,906.34 194.16,906.01 194.45,905.68 194.75,905.35 195.05,905.03 195.35,904.7 195.64,904.37 195.93,904.04 196.19,903.72 196.45,903.39 196.68,903.06 196.88,902.73 197.06,902.4 197.2,902.08 197.31,901.75 197.38,901.42 197.4,901.09 197.38,900.75 197.31,900.41 197.19,900.07 197.04,899.73 196.86,899.38 196.65,899.04 196.41,898.7 196.15,898.36 195.87,898.02 195.58,897.67 195.28,897.33 194.97,896.99 194.66,896.65 194.36,896.31 194.06,895.96 193.77,895.62 193.5,895.28 193.24,894.94 193.01,894.6 192.81,894.25 192.64,893.91 192.5,893.57 192.4,893.23 192.33,892.9 192.27,892.57 192.21,892.24 192.16,891.92 192.12,891.59 192.08,891.26 192.03,890.93 191.99,890.61 191.95,890.28 191.9,889.95" fill="#0066FF" stroke="#000" stroke-width="1.15" stroke-linejoin="round"/>
<polygon points="364.5,1042.03 364.38,1042.37 364.26,1042.71 364.13,1043.06 364.01,1043.4 363.88,1043.74 363.75,1044.09 363.62,1044.43 363.49,1044.77 363.36,1045.12 363.24,1045.46 363.11,1045.8 362.99,1046.15 362.86,1046.49 362.74,1046.83 362.63,1047.18 362.51,1047.52 362.4,1047.86 362.29,1048.21 362.19,1048.55 362.09,1048.89 362,1049.24 361.91,1049.58 361.82,1049.92 361.72,1050.26 361.63,1050.6 361.53,1050.94 361.44,1051.28 361.34,1051.62 361.25,1051.96 361.15,1052.3 361.06,1052.63 360.97,1052.97 360.88,1053.31 360.79,1053.65 360.71,1053.99 360.63,1054.33 360.55,1054.67 360.48,1055.01 360.41,1055.35 360.35,1055.69 360.3,1056.03 360.25,1056.37 360.2,1056.71 360.17,1057.05 360.14,1057.39 360.12,1057.73 360.1,1058.07 360.1,1058.41 360.11,1058.74 360.15,1059.07 360.22,1059.4 360.3,1059.72 360.4,1060.05 360.51,1060.38 360.64,1060.71 360.77,1061.04 360.91,1061.36 361.05,1061.69 361.19,1062.02 361.33,1062.35 361.46,1062.67 361.59,1063 361.7,1063.33 361.8,1063.66 361.88,1063.98 361.95,1064.31 361.99,1064.64 362,1064.97 361.97,1065.33 361.9,1065.7 361.79,1066.06 361.64,1066.42 361.45,1066.79 361.24,1067.15 361.01,1067.52 360.76,1067.88 360.5,1068.25 360.22,1068.58 359.87,1068.91 359.44,1069.24 358.95,1069.57 358.38,1069.91 357.74,1070.24 357.03,1070.57 356.25,1070.9 355.39,1071.23 354.47,1071.57 353.48,1071.9 352.41,1072.23 351.28,1072.56 350.07,1072.9 348.8,1073.23 346.88,1073.58 344.03,1073.94 340.48,1074.29 336.43,1074.64 332.1,1075 327.69,1075.35 323.41,1075.71 319.48,1076.06 316.11,1076.41 313.5,1076.77 311.55,1077.09 309.67,1077.42 307.87,1077.75 306.14,1078.08 304.49,1078.41 302.9,1078.73 301.38,1079.06 299.92,1079.39 298.53,1079.72 297.19,1080.04 295.91,1080.37 294.68,1080.7 293.5,1081.03 292.37,1081.36 291.29,1081.68 290.25,1082.01 289.26,1082.34 288.3,1082.67 287.38,1082.99 286.5,1083.32 285.61,1083.65 284.7,1083.98 283.79,1084.31 282.88,1084.63 282.01,1084.96 281.2,1085.29 280.45,1085.62 279.8,1085.94 279.26,1086.27 278.85,1086.6 278.59,1086.93 278.5,1087.26 278.59,1087.58 278.84,1087.91 279.24,1088.24 279.79,1088.57 280.46,1088.89 281.24,1089.22 282.12,1089.55 283.09,1089.88 284.12,1090.2 285.22,1090.53 286.36,1090.86 287.54,1091.19 288.73,1091.52 289.93,1091.84 291.12,1092.17 292.29,1092.5 293.43,1092.83 294.52,1093.15 295.55,1093.48 296.5,1093.81 297.43,1094.15 298.36,1094.48 299.3,1094.82 300.23,1095.15 301.17,1095.49 302.1,1095.82 303.04,1096.16 303.98,1096.49 304.92,1096.83 305.86,1097.16 306.81,1097.5 307.75,1097.83 308.7,1098.17 309.66,1098.5 310.61,1098.84 311.57,1099.17 312.53,1099.51 313.5,1099.84 314.48,1100.18 315.48,1100.51 316.49,1100.85 317.51,1101.19 318.54,1101.53 319.58,1101.86 320.62,1102.2 321.66,1102.54 322.7,1102.87 323.74,1103.21 324.78,1103.55 325.81,1103.89 326.84,1104.22 327.85,1104.56 328.86,1104.9 329.84,1105.23 330.82,1105.57 331.77,1105.91 332.7,1106.25 333.61,1106.58 334.5,1106.92 335.39,1107.27 336.27,1107.61 337.13,1107.96 337.98,1108.31 338.81,1108.65 339.64,1109 340.45,1109.35 341.25,1109.69 342.03,1110.04 342.81,1110.38 343.57,1110.73 344.33,1111.08 345.07,1111.42 345.8,1111.77 346.5,1112.1 347.2,1112.43 347.9,1112.77 348.6,1113.1 349.29,1113.43 349.98,1113.76 350.66,1114.09 351.33,1114.42 351.99,1114.76 352.63,1115.09 353.25,1115.42 353.86,1115.75 354.44,1116.08 355,1116.41 355.53,1116.74 356.03,1117.08 356.5,1117.41 357,1117.76 357.51,1118.11 358.04,1118.47 358.56,1118.82 359.07,1119.17 359.55,1119.53 360.01,1119.88 360.42,1120.23 360.78,1120.58 361.08,1120.94 361.31,1121.29 361.45,1121.64 361.5,1122 361.5,1122.34 361.49,1122.69 361.47,1123.04 361.46,1123.38 361.43,1123.73 361.41,1124.08 361.38,1124.43 361.34,1124.77 361.31,1125.12 361.27,1125.47 361.23,1125.81 361.19,1126.16 361.15,1126.51 361.11,1126.85 361.07,1127.2 361.04,1127.55 361,1127.9 360.96,1128.24 360.92,1128.58 360.87,1128.92 360.82,1129.25 360.76,1129.59 360.71,1129.93 360.65,1130.27 360.59,1130.61 360.53,1130.95 360.46,1131.29 360.4,1131.63 360.35,1131.97 360.29,1132.31 360.24,1132.65 360.19,1132.99 360.14,1133.33 360.1,1133.67 360.07,1134.01 360.04,1134.35 360.02,1134.69 360,1135.03 360,1135.37 360.01,1135.7 360.04,1136.03 360.08,1136.36 360.13,1136.69 360.2,1137.02 360.29,1137.35 360.38,1137.68 360.48,1138.02 360.59,1138.35 360.7,1138.68 360.83,1139.01 360.95,1139.34 361.08,1139.67 361.2,1140 361.33,1140.33 361.45,1140.66 361.57,1140.99 361.69,1141.32 361.8,1141.66 361.91,1141.99 362,1142.32 362.09,1142.64 362.18,1142.97 362.26,1143.3 362.35,1143.63 362.44,1143.96 362.52,1144.28 362.61,1144.61 362.69,1144.94 362.77,1145.27 362.86,1145.59 362.94,1145.92 363.02,1146.25 363.11,1146.58 363.19,1146.91 363.27,1147.23 363.35,1147.56 363.43,1147.89 363.52,1148.22 363.6,1148.54 363.68,1148.87 363.76,1149.2 363.84,1149.53 363.92,1149.86 364.01,1150.18 364.09,1150.51 364.17,1150.84 364.25,1151.17 364.33,1151.49 364.42,1151.82 364.5,1152.15 364.5,1152.15 364.58,1151.82 364.67,1151.49 364.75,1151.17 364.83,1150.84 364.91,1150.51 364.99,1150.18 365.08,1149.86 365.16,1149.53 365.24,1149.2 365.32,1148.87 365.4,1148.54 365.48,1148.22 365.57,1147.89 365.65,1147.56 365.73,1147.23 365.81,1146.91 365.89,1146.58 365.98,1146.25 366.06,1145.92 366.14,1145.59 366.23,1145.27 366.31,1144.94 366.39,1144.61 366.48,1144.28 366.56,1143.96 366.65,1143.63 366.74,1143.3 366.82,1142.97 366.91,1142.64 367,1142.32 367.09,1141.99 367.2,1141.66 367.31,1141.32 367.43,1140.99 367.55,1140.66 367.67,1140.33 367.8,1140 367.92,1139.67 368.05,1139.34 368.17,1139.01 368.3,1138.68 368.41,1138.35 368.52,1138.02 368.62,1137.68 368.71,1137.35 368.8,1137.02 368.87,1136.69 368.92,1136.36 368.96,1136.03 368.99,1135.7 369,1135.37 369,1135.03 368.98,1134.69 368.96,1134.35 368.93,1134.01 368.9,1133.67 368.86,1133.33 368.81,1132.99 368.76,1132.65 368.71,1132.31 368.65,1131.97 368.6,1131.63 368.54,1131.29 368.47,1130.95 368.41,1130.61 368.35,1130.27 368.29,1129.93 368.24,1129.59 368.18,1129.25 368.13,1128.92 368.08,1128.58 368.04,1128.24 368,1127.9 367.96,1127.55 367.93,1127.2 367.89,1126.85 367.85,1126.51 367.81,1126.16 367.77,1125.81 367.73,1125.47 367.69,1125.12 367.66,1124.77 367.62,1124.43 367.59,1124.08 367.57,1123.73 367.54,1123.38 367.53,1123.04 367.51,1122.69 367.5,1122.34 367.5,1122 367.55,1121.64 367.69,1121.29 367.92,1120.94 368.22,1120.58 368.58,1120.23 368.99,1119.88 369.45,1119.53 369.93,1119.17 370.44,1118.82 370.96,1118.47 371.49,1118.11 372,1117.76 372.5,1117.41 372.97,1117.08 373.47,1116.74 374,1116.41 374.56,1116.08 375.14,1115.75 375.75,1115.42 376.37,1115.09 377.01,1114.76 377.67,1114.42 378.34,1114.09 379.02,1113.76 379.71,1113.43 380.4,1113.1 381.1,1112.77 381.8,1112.43 382.5,1112.1 383.2,1111.77 383.93,1111.42 384.67,1111.08 385.43,1110.73 386.19,1110.38 386.97,1110.04 387.75,1109.69 388.55,1109.35 389.36,1109 390.19,1108.65 391.02,1108.31 391.87,1107.96 392.73,1107.61 393.61,1107.27 394.5,1106.92 395.39,1106.58 396.3,1106.25 397.23,1105.91 398.18,1105.57 399.16,1105.23 400.14,1104.9 401.15,1104.56 402.16,1104.22 403.19,1103.89 404.22,1103.55 405.26,1103.21 406.3,1102.87 407.34,1102.54 408.38,1102.2 409.42,1101.86 410.46,1101.53 411.49,1101.19 412.51,1100.85 413.52,1100.51 414.52,1100.18 415.5,1099.84 416.47,1099.51 417.43,1099.17 418.39,1098.84 419.34,1098.5 420.3,1098.17 421.25,1097.83 422.19,1097.5 423.14,1097.16 424.08,1096.83 425.02,1096.49 425.96,1096.16 426.9,1095.82 427.83,1095.49 428.77,1095.15 429.7,1094.82 430.64,1094.48 431.57,1094.15 432.5,1093.81 433.45,1093.48 434.48,1093.15 435.57,1092.83 436.71,1092.5 437.88,1092.17 439.07,1091.84 440.27,1091.52 441.46,1091.19 442.64,1090.86 443.78,1090.53 444.88,1090.2 445.91,1089.88 446.88,1089.55 447.76,1089.22 448.54,1088.89 449.21,1088.57 449.76,1088.24 450.16,1087.91 450.41,1087.58 450.5,1087.26 450.41,1086.93 450.15,1086.6 449.74,1086.27 449.2,1085.94 448.55,1085.62 447.8,1085.29 446.99,1084.96 446.12,1084.63 445.21,1084.31 444.3,1083.98 443.39,1083.65 442.5,1083.32 441.62,1082.99 440.7,1082.67 439.74,1082.34 438.75,1082.01 437.71,1081.68 436.63,1081.36 435.5,1081.03 434.32,1080.7 433.09,1080.37 431.81,1080.04 430.47,1079.72 429.08,1079.39 427.62,1079.06 426.1,1078.73 424.51,1078.41 422.86,1078.08 421.13,1077.75 419.33,1077.42 417.45,1077.09 415.5,1076.77 412.89,1076.41 409.52,1076.06 405.59,1075.71 401.31,1075.35 396.9,1075 392.57,1074.64 388.52,1074.29 384.97,1073.94 382.12,1073.58 380.2,1073.23 378.93,1072.9 377.72,1072.56 376.59,1072.23 375.52,1071.9 374.53,1071.57 373.61,1071.23 372.75,1070.9 371.97,1070.57 371.26,1070.24 370.62,1069.91 370.05,1069.57 369.56,1069.24 369.13,1068.91 368.78,1068.58 368.5,1068.25 368.24,1067.88 367.99,1067.52 367.76,1067.15 367.55,1066.79 367.36,1066.42 367.21,1066.06 367.1,1065.7 367.03,1065.33 367,1064.97 367.01,1064.64 367.05,1064.31 367.12,1063.98 367.2,1063.66 367.3,1063.33 367.41,1063 367.54,1062.67 367.67,1062.35 367.81,1062.02 367.95,1061.69 368.09,1061.36 368.23,1061.04 368.36,1060.71 368.49,1060.38 368.6,1060.05 368.7,1059.72 368.78,1059.4 368.85,1059.07 368.89,1058.74 368.9,1058.41 368.9,1058.07 368.88,1057.73 368.86,1057.39 368.83,1057.05 368.8,1056.71 368.75,1056.37 368.7,1056.03 368.65,1055.69 368.59,1055.35 368.52,1055.01 368.45,1054.67 368.37,1054.33 368.29,1053.99 368.21,1053.65 368.12,1053.31 368.03,1052.97 367.94,1052.63 367.85,1052.3 367.75,1051.96 367.66,1051.62 367.56,1051.28 367.47,1050.94 367.37,1050.6 367.28,1050.26 367.18,1049.92 367.09,1049.58 367,1049.24 366.91,1048.89 366.81,1048.55 366.71,1048.21 366.6,1047.86 366.49,1047.52 366.37,1047.18 366.26,1046.83 366.14,1046.49 366.01,1046.15 365.89,1045.8 365.76,1045.46 365.64,1045.12 365.51,1044.77 365.38,1044.43 365.25,1044.09 365.12,1043.74 364.99,1043.4 364.87,1043.06 364.74,1042.71 364.62,1042.37 364.5,1042.03" fill="#FF0000" stroke="#000" stroke-width="1.15" stroke-linejoin="round"/>
<line x1="191.9" y1="1077.8" x2="191.9" y2="1120.7" stroke="#000" stroke-width="1"/>
<rect x="174.4" y="1091.1" width="35" height="13.3" fill="#fff" stroke="#000" stroke-width="1"/>
<line x1="174.4" y1="1096.1" x2="209.4" y2="1096.1" stroke="#000" stroke-width="2.2"/>
<line x1="364.5" y1="1077" x2="364.5" y2="1111.7" stroke="#000" stroke-width="1"/>
<rect x="347.2" y="1084.5" width="34.6" height="17.5" fill="#fff" stroke="#000" stroke-width="1"/>
<line x1="347.2" y1="1089.5" x2="381.8" y2="1089.5" stroke="#000" stroke-width="2.2"/>
<circle cx="191.9" cy="901.5" r="2.5" fill="#000"/>
<circle cx="191.9" cy="1126.7" r="2.5" fill="#000"/>
<circle cx="191.9" cy="1138.5" r="2.5" fill="#000"/>
<circle cx="191.9" cy="1171.1" r="2.5" fill="#000"/>
<circle cx="364.5" cy="1058.4" r="2.5" fill="#000"/>
<circle cx="364.5" cy="1135.4" r="2.5" fill="#000"/>
<path d="M191.9 891 L191.9 887.6 L364.5 887.6 L364.5 895.5" fill="none" stroke="#222" stroke-width="1"/>
<text x="278.4" y="879.5" font-size="11" text-anchor="middle" font-weight="normal" fill="#111" dominant-baseline="central" >**</text>
<path d="M591.7 873 L591.7 1197.8 L981.4 1197.8" fill="none" stroke="#222" stroke-width="1.3"/>
<line x1="697.8" y1="1197.8" x2="697.8" y2="1201" stroke="#333" stroke-width="1"/>
<line x1="875.3" y1="1197.8" x2="875.3" y2="1201" stroke="#333" stroke-width="1"/>
<text x="0" y="0" font-size="14.7" text-anchor="middle" font-weight="normal" fill="#000" dominant-baseline="central" transform="translate(697.8,1210.5) scale(0.83,1)">Low−risk</text>
<text x="0" y="0" font-size="14.7" text-anchor="middle" font-weight="normal" fill="#000" dominant-baseline="central" transform="translate(875.3,1210.5) scale(0.83,1)">High−risk</text>
<text x="584" y="857.5" font-size="21" font-weight="bold" fill="#000">GSE53625</text>
<text x="0" y="0" font-size="15" text-anchor="start" font-weight="normal" fill="#111" dominant-baseline="central" transform="translate(702.5,841.5) scale(0.81,1)">Risk</text>
<rect x="732.5" y="832.3" width="17.5" height="18.5" fill="#0066FF" stroke="#111" stroke-width="1"/>
<text x="0" y="0" font-size="12.5" text-anchor="start" font-weight="normal" fill="#111" dominant-baseline="central" transform="translate(756,841.5) scale(0.81,1)">Low−risk</text>
<rect x="802.5" y="832.3" width="17" height="18.5" fill="#FF0000" stroke="#111" stroke-width="1"/>
<text x="0" y="0" font-size="12.5" text-anchor="start" font-weight="normal" fill="#111" dominant-baseline="central" transform="translate(825,841.5) scale(0.81,1)">High−risk</text>
<line x1="588.8" y1="877.18" x2="591.7" y2="877.18" stroke="#333" stroke-width="1"/>
<text x="0" y="0" font-size="14" text-anchor="end" font-weight="normal" fill="#000" dominant-baseline="central" transform="translate(585.9,877.18) scale(0.85,1)">0.4</text>
<line x1="588.8" y1="978.5" x2="591.7" y2="978.5" stroke="#333" stroke-width="1"/>
<text x="0" y="0" font-size="14" text-anchor="end" font-weight="normal" fill="#000" dominant-baseline="central" transform="translate(585.9,978.5) scale(0.85,1)">0.0</text>
<line x1="588.8" y1="1079.82" x2="591.7" y2="1079.82" stroke="#333" stroke-width="1"/>
<text x="0" y="0" font-size="14" text-anchor="end" font-weight="normal" fill="#000" dominant-baseline="central" transform="translate(585.9,1079.82) scale(0.85,1)">−0.4</text>
<line x1="588.8" y1="1181.14" x2="591.7" y2="1181.14" stroke="#333" stroke-width="1"/>
<text x="0" y="0" font-size="14" text-anchor="end" font-weight="normal" fill="#000" dominant-baseline="central" transform="translate(585.9,1181.14) scale(0.85,1)">−0.8</text>
<text x="0" y="0" font-size="14" text-anchor="middle" font-weight="normal" fill="#111" dominant-baseline="central" transform="translate(552.5,1035) rotate(-90) scale(0.81,1)">TIDE</text>
<polygon points="697.8,888.07 697.69,888.74 697.57,889.41 697.46,890.08 697.34,890.75 697.22,891.42 697.11,892.09 696.99,892.76 696.88,893.43 696.76,894.1 696.65,894.77 696.54,895.44 696.42,896.11 696.31,896.77 696.2,897.44 696.09,898.1 695.96,898.75 695.84,899.4 695.7,900.06 695.56,900.71 695.42,901.36 695.28,902.02 695.14,902.67 695.01,903.32 694.88,903.98 694.75,904.63 694.64,905.28 694.53,905.94 694.44,906.59 694.36,907.24 694.29,907.9 694.24,908.55 694.21,909.2 694.2,909.86 694.22,910.51 694.29,911.16 694.38,911.81 694.51,912.46 694.66,913.11 694.82,913.76 695,914.42 695.18,915.07 695.35,915.72 695.52,916.37 695.68,917.02 695.81,917.67 695.92,918.32 696,918.97 696.06,919.66 696.12,920.35 696.18,921.04 696.23,921.72 696.27,922.41 696.29,923.1 696.3,923.79 696.29,924.45 696.26,925.1 696.22,925.76 696.16,926.42 696.08,927.08 695.99,927.74 695.89,928.4 695.79,929.06 695.67,929.71 695.55,930.37 695.42,931.03 695.29,931.69 695.16,932.35 695.02,933.01 694.89,933.67 694.76,934.32 694.64,934.98 694.52,935.64 694.4,936.3 694.3,936.96 694.21,937.6 694.12,938.24 694.04,938.88 693.96,939.52 693.88,940.16 693.81,940.79 693.74,941.43 693.66,942.07 693.59,942.71 693.52,943.35 693.44,943.99 693.36,944.63 693.27,945.27 693.18,945.91 693.08,946.55 692.97,947.19 692.86,947.83 692.74,948.47 692.6,949.11 692.46,949.74 692.3,950.38 692.11,951.03 691.86,951.68 691.56,952.33 691.21,952.98 690.82,953.63 690.39,954.28 689.92,954.93 689.41,955.58 688.87,956.23 688.31,956.87 687.72,957.52 687.1,958.17 686.47,958.82 685.83,959.47 685.17,960.12 684.5,960.77 683.81,961.4 683.06,962.04 682.24,962.67 681.37,963.3 680.44,963.94 679.46,964.57 678.44,965.2 677.38,965.84 676.27,966.47 675.13,967.1 673.97,967.73 672.77,968.37 671.55,969 670.32,969.63 669.06,970.27 667.8,970.9 666.47,971.53 665.04,972.17 663.52,972.8 661.92,973.43 660.28,974.07 658.61,974.7 656.92,975.33 655.23,975.97 653.57,976.6 651.95,977.23 650.38,977.87 648.9,978.5 647.46,979.13 646.01,979.77 644.57,980.4 643.13,981.03 641.69,981.67 640.27,982.3 638.85,982.93 637.45,983.57 636.06,984.2 634.7,984.83 633.36,985.47 632.04,986.1 630.76,986.73 629.5,987.37 628.28,988 627.1,988.63 625.96,989.27 624.86,989.9 623.8,990.53 622.8,991.16 621.76,991.82 620.69,992.48 619.59,993.13 618.48,993.79 617.38,994.44 616.28,995.1 615.22,995.75 614.19,996.41 613.22,997.07 612.31,997.72 611.48,998.38 610.75,999.03 610.12,999.69 609.6,1000.34 609.22,1001 608.98,1001.65 608.9,1002.31 609.03,1002.96 609.4,1003.61 609.98,1004.26 610.74,1004.92 611.67,1005.57 612.73,1006.22 613.9,1006.87 615.14,1007.52 616.44,1008.17 617.77,1008.82 619.09,1009.47 620.39,1010.13 621.63,1010.78 622.8,1011.43 623.93,1012.08 625.09,1012.72 626.28,1013.37 627.5,1014.02 628.75,1014.67 630.02,1015.31 631.3,1015.96 632.61,1016.61 633.92,1017.25 635.25,1017.9 636.59,1018.55 637.93,1019.2 639.27,1019.84 640.61,1020.49 641.94,1021.14 643.27,1021.79 644.59,1022.43 645.9,1023.08 647.2,1023.72 648.54,1024.36 649.91,1025 651.31,1025.64 652.73,1026.27 654.17,1026.91 655.61,1027.55 657.06,1028.19 658.51,1028.83 659.96,1029.47 661.39,1030.11 662.81,1030.75 664.2,1031.38 665.57,1032.02 666.91,1032.66 668.21,1033.3 669.46,1033.94 670.67,1034.58 671.83,1035.22 672.92,1035.86 673.95,1036.49 674.91,1037.13 675.8,1037.77 676.65,1038.42 677.48,1039.06 678.29,1039.71 679.08,1040.35 679.85,1041 680.61,1041.64 681.34,1042.29 682.06,1042.93 682.75,1043.58 683.42,1044.22 684.08,1044.86 684.71,1045.51 685.32,1046.15 685.91,1046.8 686.48,1047.44 687.02,1048.09 687.54,1048.73 688.04,1049.38 688.52,1050.02 688.97,1050.67 689.4,1051.31 689.8,1051.96 690.18,1052.59 690.56,1053.22 690.92,1053.86 691.28,1054.49 691.62,1055.12 691.94,1055.76 692.23,1056.39 692.51,1057.02 692.76,1057.66 692.97,1058.29 693.15,1058.92 693.3,1059.56 693.42,1060.21 693.53,1060.86 693.63,1061.52 693.72,1062.17 693.8,1062.83 693.87,1063.48 693.94,1064.14 694.01,1064.79 694.07,1065.45 694.14,1066.1 694.22,1066.75 694.3,1067.41 694.38,1068.07 694.47,1068.73 694.55,1069.38 694.63,1070.04 694.72,1070.7 694.8,1071.36 694.88,1072.02 694.97,1072.68 695.05,1073.34 695.14,1073.99 695.23,1074.65 695.32,1075.31 695.41,1075.97 695.5,1076.63 695.6,1077.29 695.7,1077.95 695.81,1078.62 695.91,1079.29 696.02,1079.95 696.13,1080.62 696.25,1081.29 696.36,1081.95 696.48,1082.62 696.6,1083.29 696.72,1083.95 696.84,1084.62 696.96,1085.29 697.08,1085.95 697.21,1086.62 697.33,1087.29 697.45,1087.95 697.57,1088.62 697.68,1089.29 697.8,1089.95 697.8,1089.95 697.92,1089.29 698.03,1088.62 698.15,1087.95 698.27,1087.29 698.39,1086.62 698.52,1085.95 698.64,1085.29 698.76,1084.62 698.88,1083.95 699,1083.29 699.12,1082.62 699.24,1081.95 699.35,1081.29 699.47,1080.62 699.58,1079.95 699.69,1079.29 699.79,1078.62 699.9,1077.95 700,1077.29 700.1,1076.63 700.19,1075.97 700.28,1075.31 700.37,1074.65 700.46,1073.99 700.55,1073.34 700.63,1072.68 700.72,1072.02 700.8,1071.36 700.88,1070.7 700.97,1070.04 701.05,1069.38 701.13,1068.73 701.22,1068.07 701.3,1067.41 701.38,1066.75 701.46,1066.1 701.53,1065.45 701.59,1064.79 701.66,1064.14 701.73,1063.48 701.8,1062.83 701.88,1062.17 701.97,1061.52 702.07,1060.86 702.18,1060.21 702.3,1059.56 702.45,1058.92 702.63,1058.29 702.84,1057.66 703.09,1057.02 703.37,1056.39 703.66,1055.76 703.98,1055.12 704.32,1054.49 704.68,1053.86 705.04,1053.22 705.42,1052.59 705.8,1051.96 706.2,1051.31 706.63,1050.67 707.08,1050.02 707.56,1049.38 708.06,1048.73 708.58,1048.09 709.12,1047.44 709.69,1046.8 710.28,1046.15 710.89,1045.51 711.52,1044.86 712.18,1044.22 712.85,1043.58 713.54,1042.93 714.26,1042.29 714.99,1041.64 715.75,1041 716.52,1040.35 717.31,1039.71 718.12,1039.06 718.95,1038.42 719.8,1037.77 720.69,1037.13 721.65,1036.49 722.68,1035.86 723.77,1035.22 724.93,1034.58 726.14,1033.94 727.39,1033.3 728.69,1032.66 730.03,1032.02 731.4,1031.38 732.79,1030.75 734.21,1030.11 735.64,1029.47 737.09,1028.83 738.54,1028.19 739.99,1027.55 741.43,1026.91 742.87,1026.27 744.29,1025.64 745.69,1025 747.06,1024.36 748.4,1023.72 749.7,1023.08 751.01,1022.43 752.33,1021.79 753.66,1021.14 754.99,1020.49 756.33,1019.84 757.67,1019.2 759.01,1018.55 760.35,1017.9 761.68,1017.25 762.99,1016.61 764.3,1015.96 765.58,1015.31 766.85,1014.67 768.1,1014.02 769.32,1013.37 770.51,1012.72 771.67,1012.08 772.8,1011.43 773.97,1010.78 775.21,1010.13 776.51,1009.47 777.83,1008.82 779.16,1008.17 780.46,1007.52 781.7,1006.87 782.87,1006.22 783.93,1005.57 784.86,1004.92 785.62,1004.26 786.2,1003.61 786.57,1002.96 786.7,1002.31 786.62,1001.65 786.38,1001 786,1000.34 785.48,999.69 784.85,999.03 784.12,998.38 783.29,997.72 782.38,997.07 781.41,996.41 780.38,995.75 779.32,995.1 778.22,994.44 777.12,993.79 776.01,993.13 774.91,992.48 773.84,991.82 772.8,991.16 771.8,990.53 770.74,989.9 769.64,989.27 768.5,988.63 767.32,988 766.1,987.37 764.84,986.73 763.56,986.1 762.24,985.47 760.9,984.83 759.54,984.2 758.15,983.57 756.75,982.93 755.33,982.3 753.91,981.67 752.47,981.03 751.03,980.4 749.59,979.77 748.14,979.13 746.7,978.5 745.22,977.87 743.65,977.23 742.03,976.6 740.37,975.97 738.68,975.33 736.99,974.7 735.32,974.07 733.68,973.43 732.08,972.8 730.56,972.17 729.13,971.53 727.8,970.9 726.54,970.27 725.28,969.63 724.05,969 722.83,968.37 721.63,967.73 720.47,967.1 719.33,966.47 718.22,965.84 717.16,965.2 716.14,964.57 715.16,963.94 714.23,963.3 713.36,962.67 712.54,962.04 711.79,961.4 711.1,960.77 710.43,960.12 709.77,959.47 709.13,958.82 708.5,958.17 707.88,957.52 707.29,956.87 706.73,956.23 706.19,955.58 705.68,954.93 705.21,954.28 704.78,953.63 704.39,952.98 704.04,952.33 703.74,951.68 703.49,951.03 703.3,950.38 703.14,949.74 703,949.11 702.86,948.47 702.74,947.83 702.63,947.19 702.52,946.55 702.42,945.91 702.33,945.27 702.24,944.63 702.16,943.99 702.08,943.35 702.01,942.71 701.94,942.07 701.86,941.43 701.79,940.79 701.72,940.16 701.64,939.52 701.56,938.88 701.48,938.24 701.39,937.6 701.3,936.96 701.2,936.3 701.08,935.64 700.96,934.98 700.84,934.32 700.71,933.67 700.58,933.01 700.44,932.35 700.31,931.69 700.18,931.03 700.05,930.37 699.93,929.71 699.81,929.06 699.71,928.4 699.61,927.74 699.52,927.08 699.44,926.42 699.38,925.76 699.34,925.1 699.31,924.45 699.3,923.79 699.31,923.1 699.33,922.41 699.37,921.72 699.42,921.04 699.48,920.35 699.54,919.66 699.6,918.97 699.68,918.32 699.79,917.67 699.92,917.02 700.08,916.37 700.25,915.72 700.42,915.07 700.6,914.42 700.78,913.76 700.94,913.11 701.09,912.46 701.22,911.81 701.31,911.16 701.38,910.51 701.4,909.86 701.39,909.2 701.36,908.55 701.31,907.9 701.24,907.24 701.16,906.59 701.07,905.94 700.96,905.28 700.85,904.63 700.72,903.98 700.59,903.32 700.46,902.67 700.32,902.02 700.18,901.36 700.04,900.71 699.9,900.06 699.76,899.4 699.64,898.75 699.51,898.1 699.4,897.44 699.29,896.77 699.18,896.11 699.06,895.44 698.95,894.77 698.84,894.1 698.72,893.43 698.61,892.76 698.49,892.09 698.38,891.42 698.26,890.75 698.14,890.08 698.03,889.41 697.91,888.74 697.8,888.07" fill="#0066FF" stroke="#000" stroke-width="1.15" stroke-linejoin="round"/>
<polygon points="875.3,938.48 875.18,939.13 875.07,939.78 874.96,940.43 874.86,941.07 874.77,941.72 874.67,942.37 874.57,943.02 874.47,943.67 874.36,944.32 874.25,944.97 874.13,945.62 873.99,946.27 873.84,946.92 873.68,947.57 873.5,948.21 873.3,948.86 873.04,949.53 872.68,950.19 872.23,950.85 871.7,951.51 871.1,952.17 870.43,952.83 869.7,953.49 868.92,954.16 868.09,954.82 867.23,955.48 866.34,956.14 865.43,956.8 864.5,957.46 863.57,958.12 862.63,958.78 861.7,959.45 860.79,960.11 859.9,960.77 859.04,961.4 858.15,962.04 857.23,962.67 856.28,963.3 855.31,963.94 854.31,964.57 853.28,965.2 852.24,965.84 851.18,966.47 850.1,967.1 849.01,967.73 847.91,968.37 846.79,969 845.67,969.63 844.54,970.27 843.41,970.9 842.28,971.53 841.15,972.17 840.02,972.8 838.89,973.43 837.78,974.07 836.66,974.7 835.57,975.33 834.48,975.97 833.41,976.6 832.35,977.23 831.32,977.87 830.3,978.5 829.29,979.13 828.25,979.77 827.21,980.4 826.15,981.03 825.08,981.67 824.01,982.3 822.93,982.93 821.86,983.57 820.78,984.2 819.72,984.83 818.67,985.47 817.62,986.1 816.6,986.73 815.59,987.37 814.61,988 813.65,988.63 812.73,989.27 811.83,989.9 810.97,990.53 810.15,991.16 809.36,991.8 808.63,992.43 807.94,993.06 807.3,993.7 806.66,994.35 806.01,995.01 805.36,995.67 804.7,996.32 804.05,996.98 803.41,997.64 802.77,998.29 802.15,998.95 801.55,999.6 800.96,1000.26 800.41,1000.92 799.88,1001.57 799.38,1002.23 798.92,1002.89 798.5,1003.54 798.13,1004.2 797.8,1004.85 797.52,1005.51 797.3,1006.17 797.14,1006.82 797.03,1007.48 797,1008.14 797.11,1008.78 797.41,1009.42 797.89,1010.07 798.52,1010.71 799.29,1011.35 800.16,1011.99 801.11,1012.64 802.12,1013.28 803.17,1013.92 804.24,1014.57 805.3,1015.21 806.33,1015.85 807.3,1016.5 808.31,1017.16 809.37,1017.83 810.49,1018.5 811.65,1019.17 812.84,1019.84 814.07,1020.51 815.32,1021.18 816.6,1021.85 817.88,1022.52 819.18,1023.19 820.47,1023.86 821.76,1024.53 823.04,1025.2 824.3,1025.87 825.51,1026.51 826.75,1027.15 828.02,1027.79 829.3,1028.43 830.6,1029.07 831.91,1029.71 833.22,1030.35 834.52,1030.99 835.82,1031.63 837.1,1032.27 838.37,1032.91 839.62,1033.56 840.83,1034.2 842.01,1034.84 843.15,1035.48 844.25,1036.12 845.3,1036.76 846.43,1037.44 847.63,1038.13 848.85,1038.81 850.05,1039.49 851.2,1040.18 852.26,1040.86 853.18,1041.55 853.94,1042.23 854.49,1042.91 854.8,1043.6 854.95,1044.26 855.08,1044.92 855.19,1045.58 855.28,1046.24 855.35,1046.91 855.41,1047.57 855.47,1048.23 855.52,1048.89 855.56,1049.55 855.6,1050.21 855.65,1050.87 855.7,1051.53 855.76,1052.2 855.83,1052.86 855.92,1053.52 856.03,1054.18 856.15,1054.84 856.3,1055.5 856.56,1056.16 857.01,1056.82 857.6,1057.48 858.32,1058.14 859.12,1058.8 859.97,1059.45 860.85,1060.11 861.72,1060.77 862.55,1061.43 863.3,1062.09 864.11,1062.81 864.98,1063.54 865.85,1064.26 866.71,1064.98 867.51,1065.71 868.22,1066.43 868.8,1067.15 869.26,1067.81 869.72,1068.46 870.18,1069.11 870.63,1069.76 871.06,1070.41 871.47,1071.06 871.85,1071.71 872.2,1072.37 872.51,1073.02 872.78,1073.67 873,1074.32 873.16,1074.97 873.26,1075.62 873.3,1076.27 873.29,1076.93 873.26,1077.59 873.21,1078.25 873.14,1078.91 873.07,1079.57 872.98,1080.23 872.88,1080.88 872.77,1081.54 872.66,1082.2 872.55,1082.86 872.44,1083.52 872.33,1084.18 872.22,1084.84 872.12,1085.49 872.03,1086.15 871.96,1086.81 871.89,1087.47 871.84,1088.13 871.81,1088.79 871.8,1089.45 871.82,1090.1 871.86,1090.75 871.93,1091.41 872.02,1092.06 872.14,1092.72 872.27,1093.37 872.42,1094.03 872.58,1094.68 872.75,1095.33 872.93,1095.99 873.11,1096.64 873.3,1097.3 873.49,1097.95 873.67,1098.61 873.85,1099.26 874.02,1099.92 874.18,1100.57 874.33,1101.22 874.46,1101.88 874.58,1102.53 874.67,1103.19 874.74,1103.84 874.78,1104.5 874.8,1105.15 874.8,1105.78 874.8,1106.42 874.8,1107.05 874.8,1107.68 874.8,1108.32 874.8,1108.95 874.8,1109.58 874.8,1110.22 874.8,1110.85 874.8,1111.48 874.8,1112.12 874.8,1112.75 874.8,1113.38 874.8,1114.02 874.8,1114.65 874.8,1115.28 874.8,1115.92 874.8,1116.55 874.8,1117.18 874.8,1117.82 874.8,1118.45 874.8,1119.08 874.8,1119.71 874.8,1120.35 874.8,1120.98 874.8,1121.61 874.8,1122.25 874.8,1122.88 874.8,1123.51 874.8,1124.15 874.8,1124.78 874.8,1125.41 874.8,1126.05 874.8,1126.68 874.8,1127.31 874.8,1127.95 874.8,1128.58 874.8,1129.21 874.8,1129.85 874.8,1130.48 874.8,1131.11 874.8,1131.75 874.8,1132.38 874.8,1133.01 874.8,1133.65 874.8,1134.28 874.8,1134.91 874.8,1135.55 874.8,1136.18 874.8,1136.81 874.8,1137.45 874.8,1138.08 874.8,1138.71 874.8,1139.35 874.8,1139.98 874.8,1140.61 874.8,1141.25 874.8,1141.88 874.8,1142.51 874.8,1143.14 874.8,1143.78 874.8,1144.41 874.78,1145.07 874.72,1145.74 874.63,1146.4 874.51,1147.07 874.37,1147.73 874.21,1148.39 874.02,1149.06 873.83,1149.72 873.62,1150.38 873.41,1151.05 873.19,1151.71 872.98,1152.37 872.77,1153.04 872.58,1153.7 872.39,1154.36 872.23,1155.03 872.09,1155.69 871.97,1156.35 871.88,1157.02 871.82,1157.68 871.8,1158.34 871.83,1158.98 871.91,1159.61 872.04,1160.24 872.21,1160.88 872.41,1161.51 872.64,1162.14 872.89,1162.78 873.14,1163.41 873.4,1164.04 873.65,1164.68 873.9,1165.31 874.12,1165.94 874.32,1166.58 874.49,1167.21 874.62,1167.84 874.7,1168.47 874.75,1169.11 874.8,1169.74 874.84,1170.37 874.88,1171.01 874.92,1171.64 874.95,1172.27 874.98,1172.91 875,1173.54 875.03,1174.17 875.05,1174.81 875.08,1175.44 875.1,1176.07 875.12,1176.72 875.14,1177.36 875.16,1178.01 875.18,1178.65 875.2,1179.3 875.22,1179.94 875.23,1180.59 875.25,1181.23 875.27,1181.88 875.28,1182.52 875.3,1183.17 875.3,1183.17 875.32,1182.52 875.33,1181.88 875.35,1181.23 875.37,1180.59 875.38,1179.94 875.4,1179.3 875.42,1178.65 875.44,1178.01 875.46,1177.36 875.48,1176.72 875.5,1176.07 875.52,1175.44 875.55,1174.81 875.57,1174.17 875.6,1173.54 875.62,1172.91 875.65,1172.27 875.68,1171.64 875.72,1171.01 875.76,1170.37 875.8,1169.74 875.85,1169.11 875.9,1168.47 875.98,1167.84 876.11,1167.21 876.28,1166.58 876.48,1165.94 876.7,1165.31 876.95,1164.68 877.2,1164.04 877.46,1163.41 877.71,1162.78 877.96,1162.14 878.19,1161.51 878.39,1160.88 878.56,1160.24 878.69,1159.61 878.77,1158.98 878.8,1158.34 878.78,1157.68 878.72,1157.02 878.63,1156.35 878.51,1155.69 878.37,1155.03 878.21,1154.36 878.02,1153.7 877.83,1153.04 877.62,1152.37 877.41,1151.71 877.19,1151.05 876.98,1150.38 876.77,1149.72 876.58,1149.06 876.39,1148.39 876.23,1147.73 876.09,1147.07 875.97,1146.4 875.88,1145.74 875.82,1145.07 875.8,1144.41 875.8,1143.78 875.8,1143.14 875.8,1142.51 875.8,1141.88 875.8,1141.25 875.8,1140.61 875.8,1139.98 875.8,1139.35 875.8,1138.71 875.8,1138.08 875.8,1137.45 875.8,1136.81 875.8,1136.18 875.8,1135.55 875.8,1134.91 875.8,1134.28 875.8,1133.65 875.8,1133.01 875.8,1132.38 875.8,1131.75 875.8,1131.11 875.8,1130.48 875.8,1129.85 875.8,1129.21 875.8,1128.58 875.8,1127.95 875.8,1127.31 875.8,1126.68 875.8,1126.05 875.8,1125.41 875.8,1124.78 875.8,1124.15 875.8,1123.51 875.8,1122.88 875.8,1122.25 875.8,1121.61 875.8,1120.98 875.8,1120.35 875.8,1119.71 875.8,1119.08 875.8,1118.45 875.8,1117.82 875.8,1117.18 875.8,1116.55 875.8,1115.92 875.8,1115.28 875.8,1114.65 875.8,1114.02 875.8,1113.38 875.8,1112.75 875.8,1112.12 875.8,1111.48 875.8,1110.85 875.8,1110.22 875.8,1109.58 875.8,1108.95 875.8,1108.32 875.8,1107.68 875.8,1107.05 875.8,1106.42 875.8,1105.78 875.8,1105.15 875.82,1104.5 875.86,1103.84 875.93,1103.19 876.02,1102.53 876.14,1101.88 876.27,1101.22 876.42,1100.57 876.58,1099.92 876.75,1099.26 876.93,1098.61 877.11,1097.95 877.3,1097.3 877.49,1096.64 877.67,1095.99 877.85,1095.33 878.02,1094.68 878.18,1094.03 878.33,1093.37 878.46,1092.72 878.58,1092.06 878.67,1091.41 878.74,1090.75 878.78,1090.1 878.8,1089.45 878.79,1088.79 878.76,1088.13 878.71,1087.47 878.64,1086.81 878.57,1086.15 878.48,1085.49 878.38,1084.84 878.27,1084.18 878.16,1083.52 878.05,1082.86 877.94,1082.2 877.83,1081.54 877.72,1080.88 877.62,1080.23 877.53,1079.57 877.46,1078.91 877.39,1078.25 877.34,1077.59 877.31,1076.93 877.3,1076.27 877.34,1075.62 877.44,1074.97 877.6,1074.32 877.82,1073.67 878.09,1073.02 878.4,1072.37 878.75,1071.71 879.13,1071.06 879.54,1070.41 879.97,1069.76 880.42,1069.11 880.88,1068.46 881.34,1067.81 881.8,1067.15 882.38,1066.43 883.09,1065.71 883.89,1064.98 884.75,1064.26 885.62,1063.54 886.49,1062.81 887.3,1062.09 888.05,1061.43 888.88,1060.77 889.75,1060.11 890.63,1059.45 891.48,1058.8 892.28,1058.14 893,1057.48 893.59,1056.82 894.04,1056.16 894.3,1055.5 894.45,1054.84 894.57,1054.18 894.68,1053.52 894.77,1052.86 894.84,1052.2 894.9,1051.53 894.95,1050.87 895,1050.21 895.04,1049.55 895.08,1048.89 895.13,1048.23 895.19,1047.57 895.25,1046.91 895.32,1046.24 895.41,1045.58 895.52,1044.92 895.65,1044.26 895.8,1043.6 896.11,1042.91 896.66,1042.23 897.42,1041.55 898.34,1040.86 899.4,1040.18 900.55,1039.49 901.75,1038.81 902.97,1038.13 904.17,1037.44 905.3,1036.76 906.35,1036.12 907.45,1035.48 908.59,1034.84 909.77,1034.2 910.98,1033.56 912.23,1032.91 913.5,1032.27 914.78,1031.63 916.08,1030.99 917.38,1030.35 918.69,1029.71 920,1029.07 921.3,1028.43 922.58,1027.79 923.85,1027.15 925.09,1026.51 926.3,1025.87 927.56,1025.2 928.84,1024.53 930.13,1023.86 931.42,1023.19 932.72,1022.52 934,1021.85 935.28,1021.18 936.53,1020.51 937.76,1019.84 938.95,1019.17 940.11,1018.5 941.23,1017.83 942.29,1017.16 943.3,1016.5 944.27,1015.85 945.3,1015.21 946.36,1014.57 947.43,1013.92 948.48,1013.28 949.49,1012.64 950.44,1011.99 951.31,1011.35 952.08,1010.71 952.71,1010.07 953.19,1009.42 953.49,1008.78 953.6,1008.14 953.57,1007.48 953.46,1006.82 953.3,1006.17 953.08,1005.51 952.8,1004.85 952.47,1004.2 952.1,1003.54 951.68,1002.89 951.22,1002.23 950.72,1001.57 950.19,1000.92 949.64,1000.26 949.05,999.6 948.45,998.95 947.83,998.29 947.19,997.64 946.55,996.98 945.9,996.32 945.24,995.67 944.59,995.01 943.94,994.35 943.3,993.7 942.66,993.06 941.97,992.43 941.24,991.8 940.45,991.16 939.63,990.53 938.77,989.9 937.87,989.27 936.95,988.63 935.99,988 935.01,987.37 934,986.73 932.98,986.1 931.93,985.47 930.88,984.83 929.82,984.2 928.74,983.57 927.67,982.93 926.59,982.3 925.52,981.67 924.45,981.03 923.39,980.4 922.35,979.77 921.31,979.13 920.3,978.5 919.28,977.87 918.25,977.23 917.19,976.6 916.12,975.97 915.03,975.33 913.94,974.7 912.82,974.07 911.71,973.43 910.58,972.8 909.45,972.17 908.32,971.53 907.19,970.9 906.06,970.27 904.93,969.63 903.81,969 902.69,968.37 901.59,967.73 900.5,967.1 899.42,966.47 898.36,965.84 897.32,965.2 896.29,964.57 895.29,963.94 894.32,963.3 893.37,962.67 892.45,962.04 891.56,961.4 890.7,960.77 889.81,960.11 888.9,959.45 887.97,958.78 887.03,958.12 886.1,957.46 885.17,956.8 884.26,956.14 883.37,955.48 882.51,954.82 881.68,954.16 880.9,953.49 880.17,952.83 879.5,952.17 878.9,951.51 878.37,950.85 877.92,950.19 877.56,949.53 877.3,948.86 877.1,948.21 876.92,947.57 876.76,946.92 876.61,946.27 876.47,945.62 876.35,944.97 876.24,944.32 876.13,943.67 876.03,943.02 875.93,942.37 875.83,941.72 875.74,941.07 875.64,940.43 875.53,939.78 875.42,939.13 875.3,938.48" fill="#FF0000" stroke="#000" stroke-width="1.15" stroke-linejoin="round"/>
<line x1="697.8" y1="963.7" x2="697.8" y2="1046.7" stroke="#000" stroke-width="1"/>
<rect x="680" y="990.4" width="35.6" height="26.6" fill="#fff" stroke="#000" stroke-width="1"/>
<line x1="680" y1="1004.3" x2="715.6" y2="1004.3" stroke="#000" stroke-width="2.2"/>
<line x1="875.3" y1="963.6" x2="875.3" y2="1059" stroke="#000" stroke-width="1"/>
<rect x="857.5" y="995.3" width="35.6" height="28.5" fill="#fff" stroke="#000" stroke-width="1"/>
<line x1="857.5" y1="1008.7" x2="893.1" y2="1008.7" stroke="#000" stroke-width="2.2"/>
<circle cx="697.8" cy="909.8" r="2.5" fill="#000"/>
<circle cx="697.8" cy="950.4" r="2.5" fill="#000"/>
<circle cx="697.8" cy="1067.4" r="2.5" fill="#000"/>
<circle cx="875.3" cy="1089.5" r="2.5" fill="#000"/>
<circle cx="875.3" cy="1158.5" r="2.5" fill="#000"/>
<path d="M697.8 900 L697.8 897.6 L875.3 897.6 L875.3 905" fill="none" stroke="#222" stroke-width="1"/>
<text x="786.7" y="890" font-size="11" text-anchor="middle" font-weight="normal" fill="#111" dominant-baseline="central" >*</text>
</svg></body></html>
